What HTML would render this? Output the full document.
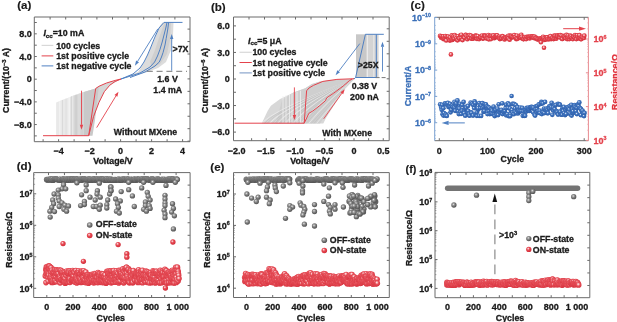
<!DOCTYPE html>
<html><head><meta charset="utf-8"><style>
html,body{margin:0;padding:0;background:#fff;}
svg{display:block;filter:blur(0.35px);}
text{font-family:"Liberation Sans",sans-serif;font-weight:bold;}
</style></head><body>
<svg width="617" height="322" viewBox="0 0 617 322">
<defs>
<radialGradient id="gr" cx="0.42" cy="0.4" r="0.6" fx="0.38" fy="0.34"><stop offset="0" stop-color="#fff2f2"/><stop offset="0.2" stop-color="#f2a2a8"/><stop offset="0.45" stop-color="#e54a54"/><stop offset="0.85" stop-color="#dc3440"/><stop offset="1" stop-color="#c82632"/></radialGradient>
<radialGradient id="gR" cx="0.45" cy="0.42" r="0.58" fx="0.4" fy="0.36"><stop offset="0" stop-color="#fff2f2"/><stop offset="0.26" stop-color="#f4a8ae"/><stop offset="0.52" stop-color="#e8535c"/><stop offset="1" stop-color="#d83440"/></radialGradient>
<radialGradient id="gg" cx="0.42" cy="0.4" r="0.58" fx="0.4" fy="0.36"><stop offset="0" stop-color="#f0f0f0"/><stop offset="0.3" stop-color="#a0a0a0"/><stop offset="0.7" stop-color="#6e6e6e"/><stop offset="1" stop-color="#555"/></radialGradient>
<radialGradient id="grr" cx="0.45" cy="0.42" r="0.58" fx="0.42" fy="0.38"><stop offset="0" stop-color="#fdeaea"/><stop offset="0.25" stop-color="#f29ca2"/><stop offset="0.5" stop-color="#e4444e"/><stop offset="1" stop-color="#d22e3a"/></radialGradient>
<radialGradient id="gbb" cx="0.45" cy="0.42" r="0.58" fx="0.4" fy="0.36"><stop offset="0" stop-color="#e2ebf7"/><stop offset="0.18" stop-color="#8eaedb"/><stop offset="0.42" stop-color="#3f74c0"/><stop offset="1" stop-color="#2c5ca6"/></radialGradient>
</defs>
<rect width="617" height="322" fill="#fff"/>
<text x="17.20" y="9.30" font-size="11.6" text-anchor="start" fill="#1a1a1a" stroke="#1a1a1a" stroke-width="0.3" style="stroke-width:0.15px">(a)</text>
<text x="210.90" y="10.90" font-size="11.6" text-anchor="start" fill="#1a1a1a" stroke="#1a1a1a" stroke-width="0.3" style="stroke-width:0.15px">(b)</text>
<text x="410.60" y="9.30" font-size="11.6" text-anchor="start" fill="#1a1a1a" stroke="#1a1a1a" stroke-width="0.3" style="stroke-width:0.15px">(c)</text>
<text x="16.70" y="169.70" font-size="11.6" text-anchor="start" fill="#1a1a1a" stroke="#1a1a1a" stroke-width="0.3" style="stroke-width:0.15px">(d)</text>
<text x="210.30" y="171.00" font-size="11.6" text-anchor="start" fill="#1a1a1a" stroke="#1a1a1a" stroke-width="0.3" style="stroke-width:0.15px">(e)</text>
<text x="405.60" y="172.80" font-size="10.8" text-anchor="start" fill="#1a1a1a" stroke="#1a1a1a" stroke-width="0.3" style="stroke-width:0.15px">(f)</text>
<path d="M 56.1,135.7 L 56.1,102.6 L 62.0,100.0 L 69.6,97.2 L 77.0,94.5 L 84.8,91.7 L 95.7,88.5 L 98.9,86.3 L 106.5,83.0 L 115.2,80.4 L 121.0,79.0 L 109.8,85.2 L 104.3,91.7 L 98.9,102.6 L 93.5,116.7 L 88.7,135.7 Z" stroke="none" stroke-width="0" fill="#e9e9e9" />
<path d="M 70.7,135.7 L 70.7,96.6 L 77.0,94.5 L 84.8,91.7 L 95.7,88.5 L 98.9,86.3 L 106.5,83.0 L 115.2,80.4 L 121.0,79.0 L 109.8,85.2 L 104.3,91.7 L 98.9,102.6 L 93.5,116.7 L 88.7,135.7 Z" stroke="none" stroke-width="0" fill="#d6d6d6" />
<path d="M 84.0,135.7 L 84.0,92.0 L 95.7,88.5 L 98.9,86.3 L 95.0,120.0 L 92.5,135.7 Z" stroke="none" stroke-width="0" fill="#c9c9c9" />
<line x1="59.80" y1="135.70" x2="59.80" y2="101.12" stroke="#f6f6f6" stroke-width="0.9" />
<line x1="62.50" y1="135.70" x2="62.50" y2="100.04" stroke="#d8d8d8" stroke-width="0.9" />
<line x1="66.00" y1="135.70" x2="66.00" y2="98.64" stroke="#dcdcdc" stroke-width="0.9" />
<line x1="69.10" y1="135.70" x2="69.10" y2="97.40" stroke="#f8f8f8" stroke-width="0.9" />
<line x1="72.80" y1="135.70" x2="72.80" y2="95.92" stroke="#f2f2f2" stroke-width="0.9" />
<line x1="76.00" y1="135.70" x2="76.00" y2="94.64" stroke="#c8c8c8" stroke-width="0.9" />
<line x1="79.00" y1="135.70" x2="79.00" y2="93.44" stroke="#e2e2e2" stroke-width="0.9" />
<line x1="82.00" y1="135.70" x2="82.00" y2="92.24" stroke="#cfcfcf" stroke-width="0.9" />
<path d="M 121.0,79.0 L 138.0,72.0 L 144.5,62.0 L 150.0,50.0 L 155.0,38.0 L 160.0,26.0 L 162.5,22.4 L 173.5,22.4 L 173.0,35.0 L 171.0,50.0 L 166.0,62.0 L 158.0,68.0 L 146.0,72.5 L 121.0,79.0 Z" stroke="none" stroke-width="0" fill="#dcdcdc" />
<path d="M 150.0,62.0 L 155.0,50.0 L 159.0,38.0 L 162.5,28.0 L 164.5,22.4 L 171.0,22.4 L 170.0,40.0 L 167.0,54.0 L 160.0,64.0 L 152.0,68.0 Z" stroke="none" stroke-width="0" fill="#cfcfcf" />
<path d="M 43.0,135.7 L 88.7,135.7 L 95.7,88.5 L 98.9,86.3 L 106.5,83.0 L 115.2,80.4 L 121.0,79.0" stroke="#e4424c" stroke-width="1.0" fill="none" />
<path d="M 88.7,135.7 L 93.5,116.7 L 98.9,102.6 L 104.3,91.7 L 109.8,85.2 L 115.0,81.5 L 121.0,79.0" stroke="#e4424c" stroke-width="1.0" fill="none" />
<line x1="81.50" y1="90.70" x2="81.50" y2="124.80" stroke="#e4424c" stroke-width="0.9" />
<polygon points="81.50,129.80 79.80,124.80 83.20,124.80" fill="#e4424c"/>
<line x1="96.70" y1="127.60" x2="115.90" y2="95.97" stroke="#e4424c" stroke-width="0.9" />
<polygon points="118.50,91.70 117.36,96.86 114.45,95.09" fill="#e4424c"/>
<path d="M 121.0,79.0 L 133.0,74.0 L 140.0,68.0 L 144.0,62.0 L 147.5,55.0 L 150.5,48.0 L 154.5,38.0 L 159.0,28.0 L 164.0,22.4 L 182.5,22.4" stroke="#4f80c2" stroke-width="1.0" fill="none" />
<path d="M 121.0,79.0 L 140.0,73.0 L 150.0,67.0 L 154.6,62.0 L 157.5,56.0 L 160.0,49.3 L 162.2,42.0 L 164.0,35.0 L 165.8,28.0 L 167.0,22.4" stroke="#4f80c2" stroke-width="1.0" fill="none" />
<path d="M 130.0,77.5 L 145.0,72.0 L 155.0,66.0 L 159.3,62.0 L 161.5,57.0 L 163.1,52.4 L 165.0,45.0 L 166.2,38.4 L 167.8,29.0 L 168.6,22.4" stroke="#4f80c2" stroke-width="1.0" fill="none" />
<line x1="157.80" y1="28.90" x2="137.54" y2="61.45" stroke="#4f80c2" stroke-width="0.9" />
<polygon points="134.90,65.70 136.10,60.56 138.99,62.35" fill="#4f80c2"/>
<line x1="171.70" y1="70.70" x2="171.70" y2="38.90" stroke="#4f80c2" stroke-width="0.9" />
<polygon points="171.70,33.90 173.40,38.90 170.00,38.90" fill="#4f80c2"/>
<line x1="146.80" y1="71.30" x2="187.00" y2="71.30" stroke="#777" stroke-width="1" stroke-dasharray="6,3.8"/>
<line x1="34.30" y1="17.00" x2="190.00" y2="17.00" stroke="#6b6b6b" stroke-width="1" />
<line x1="34.30" y1="141.70" x2="190.00" y2="141.70" stroke="#6b6b6b" stroke-width="1" />
<line x1="34.30" y1="17.00" x2="34.30" y2="141.70" stroke="#6b6b6b" stroke-width="1" />
<line x1="190.00" y1="17.00" x2="190.00" y2="141.70" stroke="#6b6b6b" stroke-width="1" />
<line x1="43.10" y1="141.70" x2="43.10" y2="139.20" stroke="#6b6b6b" stroke-width="1" />
<line x1="58.60" y1="141.70" x2="58.60" y2="139.20" stroke="#6b6b6b" stroke-width="1" />
<line x1="74.10" y1="141.70" x2="74.10" y2="139.20" stroke="#6b6b6b" stroke-width="1" />
<line x1="89.60" y1="141.70" x2="89.60" y2="139.20" stroke="#6b6b6b" stroke-width="1" />
<line x1="105.10" y1="141.70" x2="105.10" y2="139.20" stroke="#6b6b6b" stroke-width="1" />
<line x1="120.60" y1="141.70" x2="120.60" y2="139.20" stroke="#6b6b6b" stroke-width="1" />
<line x1="136.10" y1="141.70" x2="136.10" y2="139.20" stroke="#6b6b6b" stroke-width="1" />
<line x1="151.60" y1="141.70" x2="151.60" y2="139.20" stroke="#6b6b6b" stroke-width="1" />
<line x1="167.10" y1="141.70" x2="167.10" y2="139.20" stroke="#6b6b6b" stroke-width="1" />
<line x1="182.60" y1="141.70" x2="182.60" y2="139.20" stroke="#6b6b6b" stroke-width="1" />
<line x1="50.10" y1="17.00" x2="50.10" y2="19.50" stroke="#6b6b6b" stroke-width="1" />
<line x1="65.70" y1="17.00" x2="65.70" y2="19.50" stroke="#6b6b6b" stroke-width="1" />
<line x1="81.30" y1="17.00" x2="81.30" y2="19.50" stroke="#6b6b6b" stroke-width="1" />
<line x1="96.90" y1="17.00" x2="96.90" y2="19.50" stroke="#6b6b6b" stroke-width="1" />
<line x1="112.50" y1="17.00" x2="112.50" y2="19.50" stroke="#6b6b6b" stroke-width="1" />
<line x1="128.10" y1="17.00" x2="128.10" y2="19.50" stroke="#6b6b6b" stroke-width="1" />
<line x1="143.70" y1="17.00" x2="143.70" y2="19.50" stroke="#6b6b6b" stroke-width="1" />
<line x1="159.30" y1="17.00" x2="159.30" y2="19.50" stroke="#6b6b6b" stroke-width="1" />
<line x1="174.90" y1="17.00" x2="174.90" y2="19.50" stroke="#6b6b6b" stroke-width="1" />
<line x1="34.30" y1="135.90" x2="36.80" y2="135.90" stroke="#6b6b6b" stroke-width="1" />
<line x1="34.30" y1="124.56" x2="36.80" y2="124.56" stroke="#6b6b6b" stroke-width="1" />
<line x1="34.30" y1="113.22" x2="36.80" y2="113.22" stroke="#6b6b6b" stroke-width="1" />
<line x1="34.30" y1="101.88" x2="36.80" y2="101.88" stroke="#6b6b6b" stroke-width="1" />
<line x1="34.30" y1="90.54" x2="36.80" y2="90.54" stroke="#6b6b6b" stroke-width="1" />
<line x1="34.30" y1="79.20" x2="36.80" y2="79.20" stroke="#6b6b6b" stroke-width="1" />
<line x1="34.30" y1="67.86" x2="36.80" y2="67.86" stroke="#6b6b6b" stroke-width="1" />
<line x1="34.30" y1="56.52" x2="36.80" y2="56.52" stroke="#6b6b6b" stroke-width="1" />
<line x1="34.30" y1="45.18" x2="36.80" y2="45.18" stroke="#6b6b6b" stroke-width="1" />
<line x1="34.30" y1="33.84" x2="36.80" y2="33.84" stroke="#6b6b6b" stroke-width="1" />
<line x1="34.30" y1="22.50" x2="36.80" y2="22.50" stroke="#6b6b6b" stroke-width="1" />
<line x1="190.00" y1="29.10" x2="187.50" y2="29.10" stroke="#6b6b6b" stroke-width="1" />
<line x1="190.00" y1="41.55" x2="187.50" y2="41.55" stroke="#6b6b6b" stroke-width="1" />
<line x1="190.00" y1="54.00" x2="187.50" y2="54.00" stroke="#6b6b6b" stroke-width="1" />
<line x1="190.00" y1="66.45" x2="187.50" y2="66.45" stroke="#6b6b6b" stroke-width="1" />
<line x1="190.00" y1="78.90" x2="187.50" y2="78.90" stroke="#6b6b6b" stroke-width="1" />
<line x1="190.00" y1="91.35" x2="187.50" y2="91.35" stroke="#6b6b6b" stroke-width="1" />
<line x1="190.00" y1="103.80" x2="187.50" y2="103.80" stroke="#6b6b6b" stroke-width="1" />
<line x1="190.00" y1="116.25" x2="187.50" y2="116.25" stroke="#6b6b6b" stroke-width="1" />
<line x1="190.00" y1="128.70" x2="187.50" y2="128.70" stroke="#6b6b6b" stroke-width="1" />
<line x1="190.00" y1="141.15" x2="187.50" y2="141.15" stroke="#6b6b6b" stroke-width="1" />
<text x="58.60" y="153.60" font-size="9" text-anchor="middle" fill="#1a1a1a" stroke="#1a1a1a" stroke-width="0.3" >−4</text>
<text x="89.60" y="153.60" font-size="9" text-anchor="middle" fill="#1a1a1a" stroke="#1a1a1a" stroke-width="0.3" >−2</text>
<text x="120.60" y="153.60" font-size="9" text-anchor="middle" fill="#1a1a1a" stroke="#1a1a1a" stroke-width="0.3" >0</text>
<text x="151.60" y="153.60" font-size="9" text-anchor="middle" fill="#1a1a1a" stroke="#1a1a1a" stroke-width="0.3" >2</text>
<text x="182.60" y="153.60" font-size="9" text-anchor="middle" fill="#1a1a1a" stroke="#1a1a1a" stroke-width="0.3" >4</text>
<text x="31.80" y="37.04" font-size="9" text-anchor="end" fill="#1a1a1a" stroke="#1a1a1a" stroke-width="0.3" >8.0</text>
<text x="31.80" y="59.72" font-size="9" text-anchor="end" fill="#1a1a1a" stroke="#1a1a1a" stroke-width="0.3" >4.0</text>
<text x="31.80" y="82.40" font-size="9" text-anchor="end" fill="#1a1a1a" stroke="#1a1a1a" stroke-width="0.3" >0</text>
<text x="31.80" y="105.08" font-size="9" text-anchor="end" fill="#1a1a1a" stroke="#1a1a1a" stroke-width="0.3" >−4.0</text>
<text x="31.80" y="127.76" font-size="9" text-anchor="end" fill="#1a1a1a" stroke="#1a1a1a" stroke-width="0.3" >−8.0</text>
<text x="113.00" y="163.60" font-size="8.8" text-anchor="middle" fill="#1a1a1a" stroke="#1a1a1a" stroke-width="0.3" >Voltage/V</text>
<text transform="translate(8.9,80.5) rotate(-90)" font-size="8.8" text-anchor="middle" fill="#1a1a1a" stroke="#1a1a1a" stroke-width="0.3">Current/(10<tspan font-size="5.8" dy="-3">−3</tspan><tspan dy="3"> A)</tspan></text>
<text x="43.40" y="36.30" font-size="8.8" text-anchor="start" fill="#1a1a1a" stroke="#1a1a1a" stroke-width="0.3" ><tspan font-style="italic">I</tspan><tspan font-size="6.2" dy="1.6">cc</tspan><tspan dy="-1.6">=10 mA</tspan></text>
<line x1="41.60" y1="45.40" x2="53.30" y2="45.40" stroke="#d8d8d8" stroke-width="1.2" />
<text x="56.20" y="48.50" font-size="8.8" text-anchor="start" fill="#1a1a1a" stroke="#1a1a1a" stroke-width="0.3" >100 cycles</text>
<line x1="41.60" y1="55.90" x2="53.30" y2="55.90" stroke="#e4424c" stroke-width="1.0" />
<text x="56.20" y="59.00" font-size="8.8" text-anchor="start" fill="#1a1a1a" stroke="#1a1a1a" stroke-width="0.3" >1st positive cycle</text>
<line x1="41.60" y1="65.90" x2="53.30" y2="65.90" stroke="#4f80c2" stroke-width="1.0" />
<text x="56.20" y="69.00" font-size="8.8" text-anchor="start" fill="#1a1a1a" stroke="#1a1a1a" stroke-width="0.3" >1st negative cycle</text>
<text x="180.50" y="52.40" font-size="8.8" text-anchor="middle" fill="#1a1a1a" stroke="#1a1a1a" stroke-width="0.3" >&gt;7X</text>
<text x="167.50" y="82.20" font-size="8.8" text-anchor="middle" fill="#1a1a1a" stroke="#1a1a1a" stroke-width="0.3" >1.6 V</text>
<text x="167.80" y="92.70" font-size="8.8" text-anchor="middle" fill="#1a1a1a" stroke="#1a1a1a" stroke-width="0.3" >1.4 mA</text>
<text x="145.50" y="134.80" font-size="8.8" text-anchor="middle" fill="#1a1a1a" stroke="#1a1a1a" stroke-width="0.3" >Without MXene</text>
<path d="M 261.7,123.4 L 267.6,110.9 L 270.9,105.8 L 280.1,99.1 L 293.5,92.4 L 305.3,88.2 L 312.0,84.0 L 320.0,81.5 L 333.5,80.0 L 354.0,79.0 L 346.0,86.0 L 341.0,95.0 L 333.0,107.0 L 326.0,118.0 L 323.3,123.4 Z" stroke="none" stroke-width="0" fill="#d8d8d8" />
<path d="M 276.0,123.4 L 282.0,100.0 L 293.5,92.4 L 305.3,88.2 L 312.0,84.0 L 320.0,81.5 L 333.5,80.0 L 354.0,79.0 L 344.0,88.0 L 336.0,101.0 L 327.0,113.0 L 320.0,123.4 Z" stroke="none" stroke-width="0" fill="#cfcfcf" />
<path d="M 262.0,123.4 Q 270.0,111.4 354.0,79" stroke="#f4f4f4" stroke-width="0.6" fill="none" />
<path d="M 264.6,123.4 Q 273.2,110.8 354.0,79" stroke="#bfbfbf" stroke-width="0.6" fill="none" />
<path d="M 267.2,123.4 Q 276.4,110.2 354.0,79" stroke="#bfbfbf" stroke-width="0.6" fill="none" />
<path d="M 269.8,123.4 Q 279.6,109.6 354.0,79" stroke="#f4f4f4" stroke-width="0.6" fill="none" />
<path d="M 272.4,123.4 Q 282.8,109.0 354.0,79" stroke="#bfbfbf" stroke-width="0.6" fill="none" />
<path d="M 275.0,123.4 Q 286.0,108.4 354.0,79" stroke="#bfbfbf" stroke-width="0.6" fill="none" />
<path d="M 277.6,123.4 Q 289.2,107.8 354.0,79" stroke="#f4f4f4" stroke-width="0.6" fill="none" />
<path d="M 280.2,123.4 Q 292.4,107.2 354.0,79" stroke="#bfbfbf" stroke-width="0.6" fill="none" />
<path d="M 282.8,123.4 Q 295.6,106.6 354.0,79" stroke="#bfbfbf" stroke-width="0.6" fill="none" />
<path d="M 285.4,123.4 Q 298.8,106.0 354.0,79" stroke="#f4f4f4" stroke-width="0.6" fill="none" />
<path d="M 288.0,123.4 Q 302.0,105.4 354.0,79" stroke="#bfbfbf" stroke-width="0.6" fill="none" />
<path d="M 290.6,123.4 Q 305.2,104.8 354.0,79" stroke="#bfbfbf" stroke-width="0.6" fill="none" />
<path d="M 293.2,123.4 Q 308.4,104.2 354.0,79" stroke="#f4f4f4" stroke-width="0.6" fill="none" />
<path d="M 295.8,123.4 Q 311.6,103.6 354.0,79" stroke="#bfbfbf" stroke-width="0.6" fill="none" />
<path d="M 298.4,123.4 Q 314.8,103.0 354.0,79" stroke="#bfbfbf" stroke-width="0.6" fill="none" />
<path d="M 301.0,123.4 Q 318.0,102.4 354.0,79" stroke="#f4f4f4" stroke-width="0.6" fill="none" />
<path d="M 303.6,123.4 Q 321.2,101.8 354.0,79" stroke="#bfbfbf" stroke-width="0.6" fill="none" />
<path d="M 306.2,123.4 Q 324.4,101.2 354.0,79" stroke="#bfbfbf" stroke-width="0.6" fill="none" />
<path d="M 308.8,123.4 Q 327.6,100.6 354.0,79" stroke="#f4f4f4" stroke-width="0.6" fill="none" />
<path d="M 311.4,123.4 Q 330.8,100.0 354.0,79" stroke="#bfbfbf" stroke-width="0.6" fill="none" />
<path d="M 314.0,123.4 Q 334.0,99.4 354.0,79" stroke="#bfbfbf" stroke-width="0.6" fill="none" />
<path d="M 316.6,123.4 Q 337.2,98.8 354.0,79" stroke="#f4f4f4" stroke-width="0.6" fill="none" />
<line x1="283.00" y1="123.40" x2="283.00" y2="96.00" stroke="#f0f0f0" stroke-width="0.8" />
<line x1="286.00" y1="123.40" x2="286.00" y2="95.10" stroke="#f0f0f0" stroke-width="0.8" />
<line x1="289.50" y1="123.40" x2="289.50" y2="94.05" stroke="#f0f0f0" stroke-width="0.8" />
<line x1="292.00" y1="123.40" x2="292.00" y2="93.30" stroke="#f0f0f0" stroke-width="0.8" />
<line x1="297.00" y1="123.40" x2="297.00" y2="91.80" stroke="#f0f0f0" stroke-width="0.8" />
<line x1="300.50" y1="123.40" x2="300.50" y2="90.75" stroke="#f0f0f0" stroke-width="0.8" />
<rect x="356" y="34.3" width="10.2" height="43.2" fill="#c8c8c8"/>
<rect x="366" y="34.3" width="12.6" height="43.2" fill="#d4d4d4"/>
<line x1="367.40" y1="34.30" x2="367.40" y2="77.50" stroke="#eeeeee" stroke-width="0.9" />
<line x1="373.80" y1="34.30" x2="373.80" y2="77.50" stroke="#ececec" stroke-width="0.9" />
<path d="M 234.5,123.2 L 304.2,123.2 L 306.6,90.8 L 309.0,88.0 L 313.6,85.3 L 322.9,81.4 L 336.9,79.4 L 352.4,78.8 L 354.5,78.6" stroke="#e4424c" stroke-width="1.0" fill="none" />
<path d="M 304.2,123.2 L 308.9,113.3 L 312.8,111.0 L 319.8,105.5 L 325.2,100.9 L 326.8,97.8 L 333.8,93.1 L 343.1,86.1 L 349.3,80.7 L 352.4,78.8" stroke="#e4424c" stroke-width="1.0" fill="none" />
<line x1="294.40" y1="87.40" x2="294.40" y2="115.10" stroke="#e4424c" stroke-width="0.9" />
<polygon points="294.40,120.10 292.70,115.10 296.10,115.10" fill="#e4424c"/>
<line x1="323.70" y1="118.80" x2="341.81" y2="93.28" stroke="#e4424c" stroke-width="0.9" />
<polygon points="344.70,89.20 343.19,94.26 340.42,92.29" fill="#e4424c"/>
<path d="M 354.0,79.0 L 355.6,77.5 L 376.3,77.5 L 376.3,34.3" stroke="#4f80c2" stroke-width="1.0" fill="none" />
<path d="M 355.6,77.5 L 365.4,34.3 L 383.8,34.3" stroke="#4f80c2" stroke-width="1.0" fill="none" />
<line x1="359.80" y1="43.60" x2="338.63" y2="71.33" stroke="#4f80c2" stroke-width="0.9" />
<polygon points="335.60,75.30 337.28,70.29 339.99,72.36" fill="#4f80c2"/>
<line x1="382.50" y1="71.60" x2="382.50" y2="46.80" stroke="#4f80c2" stroke-width="0.9" />
<polygon points="382.50,41.80 384.20,46.80 380.80,46.80" fill="#4f80c2"/>
<line x1="375.60" y1="77.60" x2="386.50" y2="77.60" stroke="#777" stroke-width="1" stroke-dasharray="4,2"/>
<line x1="233.50" y1="17.00" x2="389.20" y2="17.00" stroke="#6b6b6b" stroke-width="1" />
<line x1="233.50" y1="140.70" x2="389.20" y2="140.70" stroke="#6b6b6b" stroke-width="1" />
<line x1="233.50" y1="17.00" x2="233.50" y2="140.70" stroke="#6b6b6b" stroke-width="1" />
<line x1="389.20" y1="17.00" x2="389.20" y2="140.70" stroke="#6b6b6b" stroke-width="1" />
<line x1="251.62" y1="140.70" x2="251.62" y2="138.20" stroke="#6b6b6b" stroke-width="1" />
<line x1="266.25" y1="140.70" x2="266.25" y2="138.20" stroke="#6b6b6b" stroke-width="1" />
<line x1="280.88" y1="140.70" x2="280.88" y2="138.20" stroke="#6b6b6b" stroke-width="1" />
<line x1="295.50" y1="140.70" x2="295.50" y2="138.20" stroke="#6b6b6b" stroke-width="1" />
<line x1="310.12" y1="140.70" x2="310.12" y2="138.20" stroke="#6b6b6b" stroke-width="1" />
<line x1="324.75" y1="140.70" x2="324.75" y2="138.20" stroke="#6b6b6b" stroke-width="1" />
<line x1="339.38" y1="140.70" x2="339.38" y2="138.20" stroke="#6b6b6b" stroke-width="1" />
<line x1="354.00" y1="140.70" x2="354.00" y2="138.20" stroke="#6b6b6b" stroke-width="1" />
<line x1="368.62" y1="140.70" x2="368.62" y2="138.20" stroke="#6b6b6b" stroke-width="1" />
<line x1="383.25" y1="140.70" x2="383.25" y2="138.20" stroke="#6b6b6b" stroke-width="1" />
<line x1="249.00" y1="17.00" x2="249.00" y2="19.50" stroke="#6b6b6b" stroke-width="1" />
<line x1="264.50" y1="17.00" x2="264.50" y2="19.50" stroke="#6b6b6b" stroke-width="1" />
<line x1="280.00" y1="17.00" x2="280.00" y2="19.50" stroke="#6b6b6b" stroke-width="1" />
<line x1="295.50" y1="17.00" x2="295.50" y2="19.50" stroke="#6b6b6b" stroke-width="1" />
<line x1="311.00" y1="17.00" x2="311.00" y2="19.50" stroke="#6b6b6b" stroke-width="1" />
<line x1="326.50" y1="17.00" x2="326.50" y2="19.50" stroke="#6b6b6b" stroke-width="1" />
<line x1="342.00" y1="17.00" x2="342.00" y2="19.50" stroke="#6b6b6b" stroke-width="1" />
<line x1="357.50" y1="17.00" x2="357.50" y2="19.50" stroke="#6b6b6b" stroke-width="1" />
<line x1="373.00" y1="17.00" x2="373.00" y2="19.50" stroke="#6b6b6b" stroke-width="1" />
<line x1="233.50" y1="132.10" x2="236.00" y2="132.10" stroke="#6b6b6b" stroke-width="1" />
<line x1="233.50" y1="118.82" x2="236.00" y2="118.82" stroke="#6b6b6b" stroke-width="1" />
<line x1="233.50" y1="105.55" x2="236.00" y2="105.55" stroke="#6b6b6b" stroke-width="1" />
<line x1="233.50" y1="92.28" x2="236.00" y2="92.28" stroke="#6b6b6b" stroke-width="1" />
<line x1="233.50" y1="79.00" x2="236.00" y2="79.00" stroke="#6b6b6b" stroke-width="1" />
<line x1="233.50" y1="65.72" x2="236.00" y2="65.72" stroke="#6b6b6b" stroke-width="1" />
<line x1="233.50" y1="52.45" x2="236.00" y2="52.45" stroke="#6b6b6b" stroke-width="1" />
<line x1="233.50" y1="39.18" x2="236.00" y2="39.18" stroke="#6b6b6b" stroke-width="1" />
<line x1="233.50" y1="25.90" x2="236.00" y2="25.90" stroke="#6b6b6b" stroke-width="1" />
<line x1="389.20" y1="28.80" x2="386.70" y2="28.80" stroke="#6b6b6b" stroke-width="1" />
<line x1="389.20" y1="41.30" x2="386.70" y2="41.30" stroke="#6b6b6b" stroke-width="1" />
<line x1="389.20" y1="53.80" x2="386.70" y2="53.80" stroke="#6b6b6b" stroke-width="1" />
<line x1="389.20" y1="66.30" x2="386.70" y2="66.30" stroke="#6b6b6b" stroke-width="1" />
<line x1="389.20" y1="78.80" x2="386.70" y2="78.80" stroke="#6b6b6b" stroke-width="1" />
<line x1="389.20" y1="91.30" x2="386.70" y2="91.30" stroke="#6b6b6b" stroke-width="1" />
<line x1="389.20" y1="103.80" x2="386.70" y2="103.80" stroke="#6b6b6b" stroke-width="1" />
<line x1="389.20" y1="116.30" x2="386.70" y2="116.30" stroke="#6b6b6b" stroke-width="1" />
<line x1="389.20" y1="128.80" x2="386.70" y2="128.80" stroke="#6b6b6b" stroke-width="1" />
<text x="236.70" y="153.60" font-size="9" text-anchor="middle" fill="#1a1a1a" stroke="#1a1a1a" stroke-width="0.3" >−2.0</text>
<text x="265.95" y="153.60" font-size="9" text-anchor="middle" fill="#1a1a1a" stroke="#1a1a1a" stroke-width="0.3" >−1.5</text>
<text x="295.20" y="153.60" font-size="9" text-anchor="middle" fill="#1a1a1a" stroke="#1a1a1a" stroke-width="0.3" >−1.0</text>
<text x="324.45" y="153.60" font-size="9" text-anchor="middle" fill="#1a1a1a" stroke="#1a1a1a" stroke-width="0.3" >−0.5</text>
<text x="354.00" y="153.60" font-size="9" text-anchor="middle" fill="#1a1a1a" stroke="#1a1a1a" stroke-width="0.3" >0</text>
<text x="383.25" y="153.60" font-size="9" text-anchor="middle" fill="#1a1a1a" stroke="#1a1a1a" stroke-width="0.3" >0.5</text>
<text x="229.80" y="29.10" font-size="9" text-anchor="end" fill="#1a1a1a" stroke="#1a1a1a" stroke-width="0.3" >6.0</text>
<text x="229.80" y="55.65" font-size="9" text-anchor="end" fill="#1a1a1a" stroke="#1a1a1a" stroke-width="0.3" >3.0</text>
<text x="229.80" y="82.20" font-size="9" text-anchor="end" fill="#1a1a1a" stroke="#1a1a1a" stroke-width="0.3" >0</text>
<text x="229.80" y="108.75" font-size="9" text-anchor="end" fill="#1a1a1a" stroke="#1a1a1a" stroke-width="0.3" >−3.0</text>
<text x="229.80" y="135.30" font-size="9" text-anchor="end" fill="#1a1a1a" stroke="#1a1a1a" stroke-width="0.3" >−6.0</text>
<text x="310.00" y="163.60" font-size="8.8" text-anchor="middle" fill="#1a1a1a" stroke="#1a1a1a" stroke-width="0.3" >Voltage/V</text>
<text transform="translate(208.2,80.5) rotate(-90)" font-size="8.8" text-anchor="middle" fill="#1a1a1a" stroke="#1a1a1a" stroke-width="0.3">Current/(10<tspan font-size="5.8" dy="-3">−6</tspan><tspan dy="3"> A)</tspan></text>
<text x="248.00" y="43.80" font-size="8.8" text-anchor="start" fill="#1a1a1a" stroke="#1a1a1a" stroke-width="0.3" ><tspan font-style="italic">I</tspan><tspan font-size="6.2" dy="1.6">cc</tspan><tspan dy="-1.6">=5 μA</tspan></text>
<line x1="239.50" y1="52.30" x2="251.80" y2="52.30" stroke="#d8d8d8" stroke-width="1.2" />
<text x="252.40" y="55.40" font-size="8.8" text-anchor="start" fill="#1a1a1a" stroke="#1a1a1a" stroke-width="0.3" >100 cycles</text>
<line x1="239.50" y1="62.50" x2="251.80" y2="62.50" stroke="#e4424c" stroke-width="1.0" />
<text x="252.40" y="65.60" font-size="8.8" text-anchor="start" fill="#1a1a1a" stroke="#1a1a1a" stroke-width="0.3" >1st negative cycle</text>
<line x1="239.50" y1="72.90" x2="251.80" y2="72.90" stroke="#7f9cc8" stroke-width="1.1" />
<text x="252.40" y="76.00" font-size="8.8" text-anchor="start" fill="#1a1a1a" stroke="#1a1a1a" stroke-width="0.3" >1st positive cycle</text>
<text x="368.20" y="68.20" font-size="8.8" text-anchor="middle" fill="#1a1a1a" stroke="#1a1a1a" stroke-width="0.3" >&gt;25X</text>
<text x="364.50" y="89.20" font-size="8.8" text-anchor="middle" fill="#1a1a1a" stroke="#1a1a1a" stroke-width="0.3" >0.38 V</text>
<text x="364.50" y="99.80" font-size="8.8" text-anchor="middle" fill="#1a1a1a" stroke="#1a1a1a" stroke-width="0.3" >200 nA</text>
<text x="347.20" y="136.00" font-size="8.8" text-anchor="middle" fill="#1a1a1a" stroke="#1a1a1a" stroke-width="0.3" >With MXene</text>
<circle cx="440.1" cy="35.9" r="2.4" fill="url(#grr)"/>
<circle cx="441.2" cy="37.7" r="2.4" fill="url(#grr)"/>
<circle cx="441.4" cy="36.4" r="2.4" fill="url(#grr)"/>
<circle cx="442.6" cy="36.9" r="2.4" fill="url(#grr)"/>
<circle cx="443.2" cy="36.4" r="2.4" fill="url(#grr)"/>
<circle cx="443.4" cy="39.0" r="2.4" fill="url(#grr)"/>
<circle cx="444.3" cy="38.4" r="2.4" fill="url(#grr)"/>
<circle cx="445.4" cy="37.7" r="2.4" fill="url(#grr)"/>
<circle cx="445.3" cy="36.1" r="2.4" fill="url(#grr)"/>
<circle cx="446.2" cy="40.4" r="2.4" fill="url(#grr)"/>
<circle cx="446.8" cy="36.6" r="2.4" fill="url(#grr)"/>
<circle cx="448.0" cy="37.4" r="2.4" fill="url(#grr)"/>
<circle cx="448.1" cy="36.6" r="2.4" fill="url(#grr)"/>
<circle cx="449.0" cy="38.6" r="2.4" fill="url(#grr)"/>
<circle cx="449.9" cy="40.5" r="2.4" fill="url(#grr)"/>
<circle cx="450.0" cy="37.3" r="2.4" fill="url(#grr)"/>
<circle cx="451.3" cy="39.8" r="2.4" fill="url(#grr)"/>
<circle cx="451.8" cy="35.4" r="2.4" fill="url(#grr)"/>
<circle cx="452.3" cy="39.9" r="2.4" fill="url(#grr)"/>
<circle cx="453.1" cy="36.3" r="2.4" fill="url(#grr)"/>
<circle cx="453.3" cy="39.1" r="2.4" fill="url(#grr)"/>
<circle cx="454.0" cy="38.5" r="2.4" fill="url(#grr)"/>
<circle cx="454.7" cy="35.1" r="2.4" fill="url(#grr)"/>
<circle cx="455.4" cy="36.7" r="2.4" fill="url(#grr)"/>
<circle cx="456.4" cy="38.4" r="2.4" fill="url(#grr)"/>
<circle cx="457.2" cy="40.1" r="2.4" fill="url(#grr)"/>
<circle cx="457.7" cy="40.2" r="2.4" fill="url(#grr)"/>
<circle cx="457.9" cy="36.3" r="2.4" fill="url(#grr)"/>
<circle cx="458.8" cy="38.1" r="2.4" fill="url(#grr)"/>
<circle cx="459.1" cy="38.3" r="2.4" fill="url(#grr)"/>
<circle cx="460.4" cy="35.5" r="2.4" fill="url(#grr)"/>
<circle cx="460.9" cy="37.8" r="2.4" fill="url(#grr)"/>
<circle cx="461.3" cy="34.8" r="2.4" fill="url(#grr)"/>
<circle cx="462.2" cy="39.5" r="2.4" fill="url(#grr)"/>
<circle cx="462.5" cy="40.0" r="2.4" fill="url(#grr)"/>
<circle cx="463.6" cy="36.9" r="2.4" fill="url(#grr)"/>
<circle cx="464.3" cy="36.9" r="2.4" fill="url(#grr)"/>
<circle cx="464.4" cy="37.6" r="2.4" fill="url(#grr)"/>
<circle cx="465.7" cy="35.0" r="2.4" fill="url(#grr)"/>
<circle cx="465.8" cy="35.2" r="2.4" fill="url(#grr)"/>
<circle cx="466.8" cy="36.4" r="2.4" fill="url(#grr)"/>
<circle cx="467.3" cy="39.2" r="2.4" fill="url(#grr)"/>
<circle cx="468.2" cy="37.3" r="2.4" fill="url(#grr)"/>
<circle cx="468.5" cy="36.2" r="2.4" fill="url(#grr)"/>
<circle cx="469.4" cy="37.9" r="2.4" fill="url(#grr)"/>
<circle cx="469.6" cy="35.1" r="2.4" fill="url(#grr)"/>
<circle cx="470.8" cy="35.7" r="2.4" fill="url(#grr)"/>
<circle cx="471.6" cy="38.4" r="2.4" fill="url(#grr)"/>
<circle cx="471.7" cy="38.7" r="2.4" fill="url(#grr)"/>
<circle cx="473.0" cy="38.7" r="2.4" fill="url(#grr)"/>
<circle cx="472.8" cy="36.8" r="2.4" fill="url(#grr)"/>
<circle cx="473.7" cy="37.0" r="2.4" fill="url(#grr)"/>
<circle cx="474.2" cy="36.1" r="2.4" fill="url(#grr)"/>
<circle cx="475.5" cy="35.9" r="2.4" fill="url(#grr)"/>
<circle cx="475.9" cy="35.6" r="2.4" fill="url(#grr)"/>
<circle cx="476.3" cy="36.2" r="2.4" fill="url(#grr)"/>
<circle cx="477.0" cy="38.9" r="2.4" fill="url(#grr)"/>
<circle cx="477.8" cy="36.1" r="2.4" fill="url(#grr)"/>
<circle cx="478.5" cy="38.3" r="2.4" fill="url(#grr)"/>
<circle cx="479.1" cy="39.0" r="2.4" fill="url(#grr)"/>
<circle cx="480.0" cy="37.5" r="2.4" fill="url(#grr)"/>
<circle cx="480.6" cy="37.2" r="2.4" fill="url(#grr)"/>
<circle cx="480.8" cy="37.3" r="2.4" fill="url(#grr)"/>
<circle cx="482.0" cy="35.7" r="2.4" fill="url(#grr)"/>
<circle cx="482.8" cy="38.5" r="2.4" fill="url(#grr)"/>
<circle cx="483.1" cy="38.3" r="2.4" fill="url(#grr)"/>
<circle cx="484.0" cy="35.9" r="2.4" fill="url(#grr)"/>
<circle cx="484.3" cy="35.6" r="2.4" fill="url(#grr)"/>
<circle cx="485.0" cy="35.7" r="2.4" fill="url(#grr)"/>
<circle cx="485.6" cy="36.5" r="2.4" fill="url(#grr)"/>
<circle cx="486.4" cy="38.4" r="2.4" fill="url(#grr)"/>
<circle cx="487.2" cy="36.2" r="2.4" fill="url(#grr)"/>
<circle cx="487.9" cy="38.5" r="2.4" fill="url(#grr)"/>
<circle cx="488.4" cy="35.1" r="2.4" fill="url(#grr)"/>
<circle cx="488.8" cy="39.3" r="2.4" fill="url(#grr)"/>
<circle cx="489.9" cy="35.9" r="2.4" fill="url(#grr)"/>
<circle cx="490.2" cy="36.7" r="2.4" fill="url(#grr)"/>
<circle cx="490.9" cy="39.0" r="2.4" fill="url(#grr)"/>
<circle cx="491.4" cy="36.0" r="2.4" fill="url(#grr)"/>
<circle cx="492.4" cy="36.7" r="2.4" fill="url(#grr)"/>
<circle cx="493.1" cy="36.9" r="2.4" fill="url(#grr)"/>
<circle cx="493.4" cy="35.5" r="2.4" fill="url(#grr)"/>
<circle cx="494.2" cy="38.2" r="2.4" fill="url(#grr)"/>
<circle cx="495.2" cy="37.6" r="2.4" fill="url(#grr)"/>
<circle cx="495.3" cy="36.6" r="2.4" fill="url(#grr)"/>
<circle cx="496.2" cy="35.5" r="2.4" fill="url(#grr)"/>
<circle cx="496.8" cy="36.7" r="2.4" fill="url(#grr)"/>
<circle cx="497.1" cy="35.4" r="2.4" fill="url(#grr)"/>
<circle cx="498.4" cy="37.2" r="2.4" fill="url(#grr)"/>
<circle cx="499.2" cy="36.9" r="2.4" fill="url(#grr)"/>
<circle cx="499.4" cy="38.2" r="2.4" fill="url(#grr)"/>
<circle cx="499.9" cy="39.1" r="2.4" fill="url(#grr)"/>
<circle cx="501.1" cy="38.3" r="2.4" fill="url(#grr)"/>
<circle cx="501.3" cy="38.0" r="2.4" fill="url(#grr)"/>
<circle cx="502.2" cy="36.1" r="2.4" fill="url(#grr)"/>
<circle cx="502.7" cy="36.5" r="2.4" fill="url(#grr)"/>
<circle cx="503.8" cy="38.1" r="2.4" fill="url(#grr)"/>
<circle cx="504.1" cy="38.6" r="2.4" fill="url(#grr)"/>
<circle cx="504.6" cy="39.4" r="2.4" fill="url(#grr)"/>
<circle cx="505.5" cy="37.4" r="2.4" fill="url(#grr)"/>
<circle cx="505.8" cy="38.1" r="2.4" fill="url(#grr)"/>
<circle cx="507.0" cy="37.4" r="2.4" fill="url(#grr)"/>
<circle cx="507.5" cy="36.7" r="2.4" fill="url(#grr)"/>
<circle cx="508.4" cy="35.8" r="2.4" fill="url(#grr)"/>
<circle cx="508.5" cy="38.5" r="2.4" fill="url(#grr)"/>
<circle cx="509.6" cy="39.7" r="2.4" fill="url(#grr)"/>
<circle cx="509.8" cy="35.7" r="2.4" fill="url(#grr)"/>
<circle cx="511.1" cy="37.5" r="2.4" fill="url(#grr)"/>
<circle cx="511.0" cy="36.0" r="2.4" fill="url(#grr)"/>
<circle cx="511.6" cy="36.7" r="2.4" fill="url(#grr)"/>
<circle cx="512.7" cy="37.0" r="2.4" fill="url(#grr)"/>
<circle cx="513.0" cy="37.1" r="2.4" fill="url(#grr)"/>
<circle cx="514.2" cy="35.2" r="2.4" fill="url(#grr)"/>
<circle cx="514.6" cy="37.1" r="2.4" fill="url(#grr)"/>
<circle cx="515.4" cy="37.2" r="2.4" fill="url(#grr)"/>
<circle cx="516.2" cy="39.1" r="2.4" fill="url(#grr)"/>
<circle cx="516.4" cy="38.3" r="2.4" fill="url(#grr)"/>
<circle cx="516.9" cy="35.6" r="2.4" fill="url(#grr)"/>
<circle cx="517.5" cy="38.8" r="2.4" fill="url(#grr)"/>
<circle cx="518.9" cy="37.4" r="2.4" fill="url(#grr)"/>
<circle cx="519.1" cy="36.2" r="2.4" fill="url(#grr)"/>
<circle cx="520.2" cy="36.6" r="2.4" fill="url(#grr)"/>
<circle cx="520.8" cy="37.9" r="2.4" fill="url(#grr)"/>
<circle cx="521.3" cy="34.9" r="2.4" fill="url(#grr)"/>
<circle cx="521.7" cy="36.9" r="2.4" fill="url(#grr)"/>
<circle cx="522.7" cy="38.6" r="2.4" fill="url(#grr)"/>
<circle cx="523.3" cy="39.1" r="2.4" fill="url(#grr)"/>
<circle cx="523.7" cy="39.1" r="2.4" fill="url(#grr)"/>
<circle cx="524.7" cy="37.6" r="2.4" fill="url(#grr)"/>
<circle cx="524.8" cy="37.2" r="2.4" fill="url(#grr)"/>
<circle cx="526.1" cy="37.8" r="2.4" fill="url(#grr)"/>
<circle cx="526.1" cy="39.1" r="2.4" fill="url(#grr)"/>
<circle cx="526.9" cy="37.0" r="2.4" fill="url(#grr)"/>
<circle cx="528.1" cy="36.9" r="2.4" fill="url(#grr)"/>
<circle cx="528.2" cy="37.3" r="2.4" fill="url(#grr)"/>
<circle cx="529.0" cy="36.8" r="2.4" fill="url(#grr)"/>
<circle cx="529.6" cy="38.4" r="2.4" fill="url(#grr)"/>
<circle cx="530.1" cy="36.6" r="2.4" fill="url(#grr)"/>
<circle cx="531.3" cy="36.9" r="2.4" fill="url(#grr)"/>
<circle cx="531.9" cy="36.6" r="2.4" fill="url(#grr)"/>
<circle cx="532.6" cy="36.5" r="2.4" fill="url(#grr)"/>
<circle cx="533.2" cy="37.1" r="2.4" fill="url(#grr)"/>
<circle cx="533.3" cy="37.8" r="2.4" fill="url(#grr)"/>
<circle cx="534.5" cy="36.7" r="2.4" fill="url(#grr)"/>
<circle cx="534.9" cy="38.3" r="2.4" fill="url(#grr)"/>
<circle cx="535.8" cy="37.6" r="2.4" fill="url(#grr)"/>
<circle cx="535.9" cy="38.1" r="2.4" fill="url(#grr)"/>
<circle cx="536.8" cy="38.5" r="2.4" fill="url(#grr)"/>
<circle cx="537.6" cy="39.4" r="2.4" fill="url(#grr)"/>
<circle cx="537.9" cy="39.2" r="2.4" fill="url(#grr)"/>
<circle cx="539.0" cy="38.9" r="2.4" fill="url(#grr)"/>
<circle cx="539.9" cy="39.5" r="2.4" fill="url(#grr)"/>
<circle cx="540.3" cy="38.3" r="2.4" fill="url(#grr)"/>
<circle cx="540.7" cy="39.1" r="2.4" fill="url(#grr)"/>
<circle cx="541.7" cy="38.2" r="2.4" fill="url(#grr)"/>
<circle cx="542.2" cy="38.4" r="2.4" fill="url(#grr)"/>
<circle cx="543.2" cy="39.4" r="2.4" fill="url(#grr)"/>
<circle cx="543.1" cy="36.9" r="2.4" fill="url(#grr)"/>
<circle cx="543.9" cy="38.3" r="2.4" fill="url(#grr)"/>
<circle cx="544.8" cy="39.8" r="2.4" fill="url(#grr)"/>
<circle cx="545.7" cy="37.9" r="2.4" fill="url(#grr)"/>
<circle cx="545.8" cy="39.3" r="2.4" fill="url(#grr)"/>
<circle cx="546.5" cy="37.5" r="2.4" fill="url(#grr)"/>
<circle cx="547.1" cy="37.5" r="2.4" fill="url(#grr)"/>
<circle cx="548.0" cy="39.3" r="2.4" fill="url(#grr)"/>
<circle cx="549.1" cy="37.2" r="2.4" fill="url(#grr)"/>
<circle cx="549.3" cy="39.0" r="2.4" fill="url(#grr)"/>
<circle cx="550.2" cy="37.6" r="2.4" fill="url(#grr)"/>
<circle cx="550.4" cy="36.2" r="2.4" fill="url(#grr)"/>
<circle cx="551.1" cy="39.1" r="2.4" fill="url(#grr)"/>
<circle cx="552.2" cy="38.4" r="2.4" fill="url(#grr)"/>
<circle cx="552.6" cy="37.9" r="2.4" fill="url(#grr)"/>
<circle cx="553.6" cy="39.0" r="2.4" fill="url(#grr)"/>
<circle cx="554.3" cy="35.6" r="2.4" fill="url(#grr)"/>
<circle cx="554.5" cy="38.0" r="2.4" fill="url(#grr)"/>
<circle cx="555.0" cy="36.0" r="2.4" fill="url(#grr)"/>
<circle cx="556.2" cy="38.7" r="2.4" fill="url(#grr)"/>
<circle cx="556.4" cy="36.7" r="2.4" fill="url(#grr)"/>
<circle cx="557.2" cy="35.5" r="2.4" fill="url(#grr)"/>
<circle cx="557.6" cy="36.4" r="2.4" fill="url(#grr)"/>
<circle cx="558.8" cy="36.4" r="2.4" fill="url(#grr)"/>
<circle cx="559.2" cy="35.4" r="2.4" fill="url(#grr)"/>
<circle cx="559.6" cy="37.3" r="2.4" fill="url(#grr)"/>
<circle cx="560.2" cy="35.2" r="2.4" fill="url(#grr)"/>
<circle cx="561.6" cy="35.7" r="2.4" fill="url(#grr)"/>
<circle cx="562.0" cy="38.8" r="2.4" fill="url(#grr)"/>
<circle cx="562.4" cy="38.9" r="2.4" fill="url(#grr)"/>
<circle cx="563.5" cy="36.1" r="2.4" fill="url(#grr)"/>
<circle cx="564.2" cy="37.6" r="2.4" fill="url(#grr)"/>
<circle cx="564.4" cy="36.5" r="2.4" fill="url(#grr)"/>
<circle cx="565.5" cy="38.1" r="2.4" fill="url(#grr)"/>
<circle cx="565.6" cy="35.6" r="2.4" fill="url(#grr)"/>
<circle cx="566.5" cy="35.0" r="2.4" fill="url(#grr)"/>
<circle cx="567.2" cy="39.0" r="2.4" fill="url(#grr)"/>
<circle cx="567.9" cy="35.6" r="2.4" fill="url(#grr)"/>
<circle cx="568.1" cy="37.8" r="2.4" fill="url(#grr)"/>
<circle cx="569.2" cy="39.0" r="2.4" fill="url(#grr)"/>
<circle cx="569.6" cy="37.1" r="2.4" fill="url(#grr)"/>
<circle cx="570.4" cy="35.7" r="2.4" fill="url(#grr)"/>
<circle cx="570.9" cy="36.6" r="2.4" fill="url(#grr)"/>
<circle cx="571.9" cy="37.8" r="2.4" fill="url(#grr)"/>
<circle cx="572.8" cy="39.1" r="2.4" fill="url(#grr)"/>
<circle cx="573.2" cy="37.0" r="2.4" fill="url(#grr)"/>
<circle cx="573.6" cy="36.6" r="2.4" fill="url(#grr)"/>
<circle cx="574.7" cy="37.4" r="2.4" fill="url(#grr)"/>
<circle cx="575.0" cy="35.2" r="2.4" fill="url(#grr)"/>
<circle cx="575.9" cy="36.5" r="2.4" fill="url(#grr)"/>
<circle cx="576.3" cy="39.1" r="2.4" fill="url(#grr)"/>
<circle cx="577.1" cy="35.4" r="2.4" fill="url(#grr)"/>
<circle cx="577.8" cy="37.5" r="2.4" fill="url(#grr)"/>
<circle cx="578.3" cy="38.3" r="2.4" fill="url(#grr)"/>
<circle cx="579.2" cy="37.4" r="2.4" fill="url(#grr)"/>
<circle cx="579.4" cy="35.2" r="2.4" fill="url(#grr)"/>
<circle cx="580.6" cy="38.0" r="2.4" fill="url(#grr)"/>
<circle cx="580.7" cy="39.0" r="2.4" fill="url(#grr)"/>
<circle cx="581.4" cy="39.1" r="2.4" fill="url(#grr)"/>
<circle cx="582.0" cy="37.0" r="2.4" fill="url(#grr)"/>
<circle cx="582.8" cy="37.6" r="2.4" fill="url(#grr)"/>
<circle cx="583.9" cy="37.9" r="2.4" fill="url(#grr)"/>
<circle cx="584.3" cy="35.7" r="2.4" fill="url(#grr)"/>
<circle cx="450.9" cy="54.4" r="2.3" fill="url(#grr)"/>
<circle cx="544.0" cy="47.7" r="2.3" fill="url(#grr)"/>
<circle cx="540.9" cy="42.3" r="2.3" fill="url(#grr)"/>
<circle cx="440.2" cy="104.5" r="2.4" fill="url(#gbb)"/>
<circle cx="441.3" cy="107.4" r="2.4" fill="url(#gbb)"/>
<circle cx="441.7" cy="109.8" r="2.4" fill="url(#gbb)"/>
<circle cx="442.1" cy="104.8" r="2.4" fill="url(#gbb)"/>
<circle cx="442.6" cy="114.2" r="2.4" fill="url(#gbb)"/>
<circle cx="443.5" cy="115.5" r="2.4" fill="url(#gbb)"/>
<circle cx="443.3" cy="108.2" r="2.4" fill="url(#gbb)"/>
<circle cx="444.0" cy="113.1" r="2.4" fill="url(#gbb)"/>
<circle cx="445.0" cy="103.5" r="2.4" fill="url(#gbb)"/>
<circle cx="445.7" cy="114.2" r="2.4" fill="url(#gbb)"/>
<circle cx="445.7" cy="115.6" r="2.4" fill="url(#gbb)"/>
<circle cx="446.2" cy="104.2" r="2.4" fill="url(#gbb)"/>
<circle cx="446.8" cy="115.9" r="2.4" fill="url(#gbb)"/>
<circle cx="447.2" cy="104.8" r="2.4" fill="url(#gbb)"/>
<circle cx="447.8" cy="103.0" r="2.4" fill="url(#gbb)"/>
<circle cx="448.5" cy="107.0" r="2.4" fill="url(#gbb)"/>
<circle cx="449.6" cy="106.2" r="2.4" fill="url(#gbb)"/>
<circle cx="450.1" cy="103.9" r="2.4" fill="url(#gbb)"/>
<circle cx="450.5" cy="112.3" r="2.4" fill="url(#gbb)"/>
<circle cx="451.2" cy="109.7" r="2.4" fill="url(#gbb)"/>
<circle cx="451.3" cy="109.8" r="2.4" fill="url(#gbb)"/>
<circle cx="451.9" cy="105.6" r="2.4" fill="url(#gbb)"/>
<circle cx="453.0" cy="106.7" r="2.4" fill="url(#gbb)"/>
<circle cx="452.8" cy="107.1" r="2.4" fill="url(#gbb)"/>
<circle cx="454.0" cy="107.9" r="2.4" fill="url(#gbb)"/>
<circle cx="454.5" cy="107.4" r="2.4" fill="url(#gbb)"/>
<circle cx="454.5" cy="101.8" r="2.4" fill="url(#gbb)"/>
<circle cx="455.1" cy="110.8" r="2.4" fill="url(#gbb)"/>
<circle cx="455.9" cy="105.1" r="2.4" fill="url(#gbb)"/>
<circle cx="456.2" cy="103.4" r="2.4" fill="url(#gbb)"/>
<circle cx="457.4" cy="100.4" r="2.4" fill="url(#gbb)"/>
<circle cx="458.0" cy="111.2" r="2.4" fill="url(#gbb)"/>
<circle cx="458.6" cy="108.1" r="2.4" fill="url(#gbb)"/>
<circle cx="458.8" cy="114.0" r="2.4" fill="url(#gbb)"/>
<circle cx="459.3" cy="108.6" r="2.4" fill="url(#gbb)"/>
<circle cx="459.8" cy="103.8" r="2.4" fill="url(#gbb)"/>
<circle cx="460.2" cy="111.8" r="2.4" fill="url(#gbb)"/>
<circle cx="461.0" cy="113.9" r="2.4" fill="url(#gbb)"/>
<circle cx="461.8" cy="110.1" r="2.4" fill="url(#gbb)"/>
<circle cx="461.8" cy="110.8" r="2.4" fill="url(#gbb)"/>
<circle cx="462.2" cy="105.0" r="2.4" fill="url(#gbb)"/>
<circle cx="463.6" cy="101.9" r="2.4" fill="url(#gbb)"/>
<circle cx="464.1" cy="110.3" r="2.4" fill="url(#gbb)"/>
<circle cx="464.2" cy="113.1" r="2.4" fill="url(#gbb)"/>
<circle cx="465.2" cy="115.7" r="2.4" fill="url(#gbb)"/>
<circle cx="465.1" cy="108.7" r="2.4" fill="url(#gbb)"/>
<circle cx="465.7" cy="106.9" r="2.4" fill="url(#gbb)"/>
<circle cx="466.2" cy="107.7" r="2.4" fill="url(#gbb)"/>
<circle cx="467.5" cy="112.4" r="2.4" fill="url(#gbb)"/>
<circle cx="467.9" cy="106.0" r="2.4" fill="url(#gbb)"/>
<circle cx="468.2" cy="110.9" r="2.4" fill="url(#gbb)"/>
<circle cx="468.7" cy="115.0" r="2.4" fill="url(#gbb)"/>
<circle cx="468.9" cy="113.8" r="2.4" fill="url(#gbb)"/>
<circle cx="469.6" cy="115.7" r="2.4" fill="url(#gbb)"/>
<circle cx="470.7" cy="102.6" r="2.4" fill="url(#gbb)"/>
<circle cx="471.1" cy="112.4" r="2.4" fill="url(#gbb)"/>
<circle cx="471.4" cy="112.9" r="2.4" fill="url(#gbb)"/>
<circle cx="471.9" cy="103.7" r="2.4" fill="url(#gbb)"/>
<circle cx="473.0" cy="115.5" r="2.4" fill="url(#gbb)"/>
<circle cx="473.2" cy="105.0" r="2.4" fill="url(#gbb)"/>
<circle cx="474.1" cy="108.1" r="2.4" fill="url(#gbb)"/>
<circle cx="474.6" cy="101.4" r="2.4" fill="url(#gbb)"/>
<circle cx="474.9" cy="105.0" r="2.4" fill="url(#gbb)"/>
<circle cx="475.1" cy="103.0" r="2.4" fill="url(#gbb)"/>
<circle cx="476.0" cy="114.4" r="2.4" fill="url(#gbb)"/>
<circle cx="476.8" cy="115.8" r="2.4" fill="url(#gbb)"/>
<circle cx="476.8" cy="112.3" r="2.4" fill="url(#gbb)"/>
<circle cx="478.0" cy="109.7" r="2.4" fill="url(#gbb)"/>
<circle cx="477.9" cy="108.3" r="2.4" fill="url(#gbb)"/>
<circle cx="479.2" cy="103.1" r="2.4" fill="url(#gbb)"/>
<circle cx="479.1" cy="115.8" r="2.4" fill="url(#gbb)"/>
<circle cx="480.0" cy="105.0" r="2.4" fill="url(#gbb)"/>
<circle cx="480.2" cy="108.0" r="2.4" fill="url(#gbb)"/>
<circle cx="481.1" cy="115.9" r="2.4" fill="url(#gbb)"/>
<circle cx="481.2" cy="105.5" r="2.4" fill="url(#gbb)"/>
<circle cx="482.3" cy="108.1" r="2.4" fill="url(#gbb)"/>
<circle cx="482.3" cy="103.1" r="2.4" fill="url(#gbb)"/>
<circle cx="483.5" cy="111.9" r="2.4" fill="url(#gbb)"/>
<circle cx="483.7" cy="106.9" r="2.4" fill="url(#gbb)"/>
<circle cx="484.3" cy="111.0" r="2.4" fill="url(#gbb)"/>
<circle cx="484.7" cy="104.1" r="2.4" fill="url(#gbb)"/>
<circle cx="485.2" cy="105.6" r="2.4" fill="url(#gbb)"/>
<circle cx="485.9" cy="104.5" r="2.4" fill="url(#gbb)"/>
<circle cx="486.8" cy="106.6" r="2.4" fill="url(#gbb)"/>
<circle cx="487.5" cy="108.3" r="2.4" fill="url(#gbb)"/>
<circle cx="487.5" cy="114.1" r="2.4" fill="url(#gbb)"/>
<circle cx="488.3" cy="107.2" r="2.4" fill="url(#gbb)"/>
<circle cx="488.8" cy="110.9" r="2.4" fill="url(#gbb)"/>
<circle cx="489.4" cy="107.8" r="2.4" fill="url(#gbb)"/>
<circle cx="489.8" cy="114.0" r="2.4" fill="url(#gbb)"/>
<circle cx="490.8" cy="109.4" r="2.4" fill="url(#gbb)"/>
<circle cx="491.4" cy="109.6" r="2.4" fill="url(#gbb)"/>
<circle cx="491.2" cy="113.2" r="2.4" fill="url(#gbb)"/>
<circle cx="491.8" cy="110.7" r="2.4" fill="url(#gbb)"/>
<circle cx="492.6" cy="114.0" r="2.4" fill="url(#gbb)"/>
<circle cx="493.6" cy="106.6" r="2.4" fill="url(#gbb)"/>
<circle cx="493.9" cy="114.0" r="2.4" fill="url(#gbb)"/>
<circle cx="494.0" cy="111.4" r="2.4" fill="url(#gbb)"/>
<circle cx="494.7" cy="116.0" r="2.4" fill="url(#gbb)"/>
<circle cx="495.4" cy="110.7" r="2.4" fill="url(#gbb)"/>
<circle cx="495.6" cy="109.9" r="2.4" fill="url(#gbb)"/>
<circle cx="496.5" cy="114.9" r="2.4" fill="url(#gbb)"/>
<circle cx="497.4" cy="108.6" r="2.4" fill="url(#gbb)"/>
<circle cx="497.8" cy="114.4" r="2.4" fill="url(#gbb)"/>
<circle cx="498.1" cy="115.0" r="2.4" fill="url(#gbb)"/>
<circle cx="498.7" cy="104.3" r="2.4" fill="url(#gbb)"/>
<circle cx="499.6" cy="110.8" r="2.4" fill="url(#gbb)"/>
<circle cx="500.0" cy="112.5" r="2.4" fill="url(#gbb)"/>
<circle cx="500.6" cy="110.7" r="2.4" fill="url(#gbb)"/>
<circle cx="500.6" cy="110.3" r="2.4" fill="url(#gbb)"/>
<circle cx="501.4" cy="109.9" r="2.4" fill="url(#gbb)"/>
<circle cx="502.2" cy="103.3" r="2.4" fill="url(#gbb)"/>
<circle cx="502.5" cy="114.0" r="2.4" fill="url(#gbb)"/>
<circle cx="503.3" cy="111.6" r="2.4" fill="url(#gbb)"/>
<circle cx="504.1" cy="111.8" r="2.4" fill="url(#gbb)"/>
<circle cx="504.0" cy="112.0" r="2.4" fill="url(#gbb)"/>
<circle cx="504.8" cy="110.9" r="2.4" fill="url(#gbb)"/>
<circle cx="505.6" cy="108.1" r="2.4" fill="url(#gbb)"/>
<circle cx="506.1" cy="104.7" r="2.4" fill="url(#gbb)"/>
<circle cx="506.2" cy="115.3" r="2.4" fill="url(#gbb)"/>
<circle cx="507.3" cy="114.1" r="2.4" fill="url(#gbb)"/>
<circle cx="507.9" cy="107.9" r="2.4" fill="url(#gbb)"/>
<circle cx="508.0" cy="103.4" r="2.4" fill="url(#gbb)"/>
<circle cx="508.9" cy="116.2" r="2.4" fill="url(#gbb)"/>
<circle cx="509.0" cy="104.6" r="2.4" fill="url(#gbb)"/>
<circle cx="509.9" cy="108.5" r="2.4" fill="url(#gbb)"/>
<circle cx="510.2" cy="116.1" r="2.4" fill="url(#gbb)"/>
<circle cx="511.0" cy="111.1" r="2.4" fill="url(#gbb)"/>
<circle cx="511.9" cy="110.0" r="2.4" fill="url(#gbb)"/>
<circle cx="512.4" cy="103.9" r="2.4" fill="url(#gbb)"/>
<circle cx="512.5" cy="112.5" r="2.4" fill="url(#gbb)"/>
<circle cx="513.4" cy="104.0" r="2.4" fill="url(#gbb)"/>
<circle cx="513.7" cy="114.2" r="2.4" fill="url(#gbb)"/>
<circle cx="514.4" cy="104.2" r="2.4" fill="url(#gbb)"/>
<circle cx="514.8" cy="111.6" r="2.4" fill="url(#gbb)"/>
<circle cx="515.1" cy="108.3" r="2.4" fill="url(#gbb)"/>
<circle cx="515.8" cy="105.1" r="2.4" fill="url(#gbb)"/>
<circle cx="516.3" cy="113.2" r="2.4" fill="url(#gbb)"/>
<circle cx="517.1" cy="106.8" r="2.4" fill="url(#gbb)"/>
<circle cx="517.5" cy="107.3" r="2.4" fill="url(#gbb)"/>
<circle cx="518.0" cy="113.4" r="2.4" fill="url(#gbb)"/>
<circle cx="518.5" cy="111.8" r="2.4" fill="url(#gbb)"/>
<circle cx="519.5" cy="111.6" r="2.4" fill="url(#gbb)"/>
<circle cx="519.7" cy="111.2" r="2.4" fill="url(#gbb)"/>
<circle cx="520.3" cy="107.6" r="2.4" fill="url(#gbb)"/>
<circle cx="520.7" cy="110.9" r="2.4" fill="url(#gbb)"/>
<circle cx="521.6" cy="111.1" r="2.4" fill="url(#gbb)"/>
<circle cx="522.3" cy="107.9" r="2.4" fill="url(#gbb)"/>
<circle cx="522.8" cy="115.8" r="2.4" fill="url(#gbb)"/>
<circle cx="523.5" cy="111.3" r="2.4" fill="url(#gbb)"/>
<circle cx="524.2" cy="115.7" r="2.4" fill="url(#gbb)"/>
<circle cx="524.6" cy="115.8" r="2.4" fill="url(#gbb)"/>
<circle cx="525.1" cy="115.7" r="2.4" fill="url(#gbb)"/>
<circle cx="525.2" cy="110.2" r="2.4" fill="url(#gbb)"/>
<circle cx="526.2" cy="111.6" r="2.4" fill="url(#gbb)"/>
<circle cx="526.5" cy="109.7" r="2.4" fill="url(#gbb)"/>
<circle cx="526.8" cy="108.0" r="2.4" fill="url(#gbb)"/>
<circle cx="528.0" cy="109.6" r="2.4" fill="url(#gbb)"/>
<circle cx="528.0" cy="107.8" r="2.4" fill="url(#gbb)"/>
<circle cx="529.2" cy="110.9" r="2.4" fill="url(#gbb)"/>
<circle cx="529.0" cy="109.2" r="2.4" fill="url(#gbb)"/>
<circle cx="529.8" cy="107.7" r="2.4" fill="url(#gbb)"/>
<circle cx="530.6" cy="107.1" r="2.4" fill="url(#gbb)"/>
<circle cx="530.8" cy="107.3" r="2.4" fill="url(#gbb)"/>
<circle cx="531.4" cy="107.2" r="2.4" fill="url(#gbb)"/>
<circle cx="531.9" cy="107.0" r="2.4" fill="url(#gbb)"/>
<circle cx="532.5" cy="107.8" r="2.4" fill="url(#gbb)"/>
<circle cx="533.1" cy="112.3" r="2.4" fill="url(#gbb)"/>
<circle cx="533.4" cy="107.5" r="2.4" fill="url(#gbb)"/>
<circle cx="534.6" cy="114.7" r="2.4" fill="url(#gbb)"/>
<circle cx="535.1" cy="115.6" r="2.4" fill="url(#gbb)"/>
<circle cx="535.3" cy="109.4" r="2.4" fill="url(#gbb)"/>
<circle cx="536.0" cy="106.4" r="2.4" fill="url(#gbb)"/>
<circle cx="536.9" cy="108.9" r="2.4" fill="url(#gbb)"/>
<circle cx="537.3" cy="105.9" r="2.4" fill="url(#gbb)"/>
<circle cx="537.8" cy="112.7" r="2.4" fill="url(#gbb)"/>
<circle cx="537.9" cy="111.0" r="2.4" fill="url(#gbb)"/>
<circle cx="538.8" cy="104.5" r="2.4" fill="url(#gbb)"/>
<circle cx="539.7" cy="110.6" r="2.4" fill="url(#gbb)"/>
<circle cx="539.7" cy="113.1" r="2.4" fill="url(#gbb)"/>
<circle cx="540.7" cy="103.9" r="2.4" fill="url(#gbb)"/>
<circle cx="541.4" cy="102.0" r="2.4" fill="url(#gbb)"/>
<circle cx="541.7" cy="103.1" r="2.4" fill="url(#gbb)"/>
<circle cx="541.8" cy="114.0" r="2.4" fill="url(#gbb)"/>
<circle cx="542.8" cy="103.3" r="2.4" fill="url(#gbb)"/>
<circle cx="542.9" cy="112.2" r="2.4" fill="url(#gbb)"/>
<circle cx="544.0" cy="108.6" r="2.4" fill="url(#gbb)"/>
<circle cx="544.3" cy="113.0" r="2.4" fill="url(#gbb)"/>
<circle cx="545.0" cy="101.9" r="2.4" fill="url(#gbb)"/>
<circle cx="545.4" cy="109.5" r="2.4" fill="url(#gbb)"/>
<circle cx="546.1" cy="110.4" r="2.4" fill="url(#gbb)"/>
<circle cx="546.6" cy="108.7" r="2.4" fill="url(#gbb)"/>
<circle cx="547.4" cy="109.9" r="2.4" fill="url(#gbb)"/>
<circle cx="547.3" cy="113.2" r="2.4" fill="url(#gbb)"/>
<circle cx="548.1" cy="113.1" r="2.4" fill="url(#gbb)"/>
<circle cx="548.6" cy="107.9" r="2.4" fill="url(#gbb)"/>
<circle cx="549.3" cy="106.3" r="2.4" fill="url(#gbb)"/>
<circle cx="549.6" cy="108.4" r="2.4" fill="url(#gbb)"/>
<circle cx="550.5" cy="106.1" r="2.4" fill="url(#gbb)"/>
<circle cx="551.1" cy="107.4" r="2.4" fill="url(#gbb)"/>
<circle cx="551.6" cy="102.8" r="2.4" fill="url(#gbb)"/>
<circle cx="552.3" cy="114.8" r="2.4" fill="url(#gbb)"/>
<circle cx="553.0" cy="109.9" r="2.4" fill="url(#gbb)"/>
<circle cx="553.0" cy="107.3" r="2.4" fill="url(#gbb)"/>
<circle cx="553.6" cy="110.6" r="2.4" fill="url(#gbb)"/>
<circle cx="554.6" cy="105.8" r="2.4" fill="url(#gbb)"/>
<circle cx="554.7" cy="109.2" r="2.4" fill="url(#gbb)"/>
<circle cx="555.7" cy="105.0" r="2.4" fill="url(#gbb)"/>
<circle cx="556.4" cy="111.2" r="2.4" fill="url(#gbb)"/>
<circle cx="556.4" cy="112.5" r="2.4" fill="url(#gbb)"/>
<circle cx="557.5" cy="111.9" r="2.4" fill="url(#gbb)"/>
<circle cx="558.0" cy="114.5" r="2.4" fill="url(#gbb)"/>
<circle cx="558.1" cy="104.0" r="2.4" fill="url(#gbb)"/>
<circle cx="559.1" cy="104.4" r="2.4" fill="url(#gbb)"/>
<circle cx="559.4" cy="111.8" r="2.4" fill="url(#gbb)"/>
<circle cx="559.9" cy="104.7" r="2.4" fill="url(#gbb)"/>
<circle cx="560.1" cy="111.8" r="2.4" fill="url(#gbb)"/>
<circle cx="561.2" cy="114.7" r="2.4" fill="url(#gbb)"/>
<circle cx="562.0" cy="114.7" r="2.4" fill="url(#gbb)"/>
<circle cx="562.0" cy="109.6" r="2.4" fill="url(#gbb)"/>
<circle cx="562.7" cy="107.9" r="2.4" fill="url(#gbb)"/>
<circle cx="563.1" cy="111.0" r="2.4" fill="url(#gbb)"/>
<circle cx="563.8" cy="107.0" r="2.4" fill="url(#gbb)"/>
<circle cx="564.0" cy="112.9" r="2.4" fill="url(#gbb)"/>
<circle cx="565.1" cy="115.0" r="2.4" fill="url(#gbb)"/>
<circle cx="565.5" cy="110.0" r="2.4" fill="url(#gbb)"/>
<circle cx="566.0" cy="114.0" r="2.4" fill="url(#gbb)"/>
<circle cx="566.3" cy="108.1" r="2.4" fill="url(#gbb)"/>
<circle cx="566.8" cy="108.3" r="2.4" fill="url(#gbb)"/>
<circle cx="567.8" cy="107.2" r="2.4" fill="url(#gbb)"/>
<circle cx="568.6" cy="108.3" r="2.4" fill="url(#gbb)"/>
<circle cx="569.1" cy="109.5" r="2.4" fill="url(#gbb)"/>
<circle cx="569.8" cy="106.1" r="2.4" fill="url(#gbb)"/>
<circle cx="570.3" cy="114.3" r="2.4" fill="url(#gbb)"/>
<circle cx="570.5" cy="113.6" r="2.4" fill="url(#gbb)"/>
<circle cx="571.3" cy="104.8" r="2.4" fill="url(#gbb)"/>
<circle cx="571.6" cy="115.6" r="2.4" fill="url(#gbb)"/>
<circle cx="572.3" cy="112.9" r="2.4" fill="url(#gbb)"/>
<circle cx="573.1" cy="112.9" r="2.4" fill="url(#gbb)"/>
<circle cx="573.0" cy="111.2" r="2.4" fill="url(#gbb)"/>
<circle cx="573.9" cy="108.2" r="2.4" fill="url(#gbb)"/>
<circle cx="574.6" cy="105.1" r="2.4" fill="url(#gbb)"/>
<circle cx="574.6" cy="106.6" r="2.4" fill="url(#gbb)"/>
<circle cx="575.7" cy="107.0" r="2.4" fill="url(#gbb)"/>
<circle cx="575.9" cy="111.0" r="2.4" fill="url(#gbb)"/>
<circle cx="576.8" cy="107.9" r="2.4" fill="url(#gbb)"/>
<circle cx="576.9" cy="114.1" r="2.4" fill="url(#gbb)"/>
<circle cx="577.7" cy="104.7" r="2.4" fill="url(#gbb)"/>
<circle cx="578.0" cy="105.0" r="2.4" fill="url(#gbb)"/>
<circle cx="578.6" cy="106.2" r="2.4" fill="url(#gbb)"/>
<circle cx="579.3" cy="102.4" r="2.4" fill="url(#gbb)"/>
<circle cx="580.0" cy="108.1" r="2.4" fill="url(#gbb)"/>
<circle cx="580.9" cy="115.2" r="2.4" fill="url(#gbb)"/>
<circle cx="580.9" cy="108.9" r="2.4" fill="url(#gbb)"/>
<circle cx="581.6" cy="110.9" r="2.4" fill="url(#gbb)"/>
<circle cx="582.5" cy="110.6" r="2.4" fill="url(#gbb)"/>
<circle cx="583.1" cy="112.9" r="2.4" fill="url(#gbb)"/>
<circle cx="583.5" cy="113.7" r="2.4" fill="url(#gbb)"/>
<circle cx="584.0" cy="116.1" r="2.4" fill="url(#gbb)"/>
<circle cx="584.5" cy="112.9" r="2.4" fill="url(#gbb)"/>
<circle cx="511.6" cy="96.0" r="2.3" fill="url(#gbb)"/>
<line x1="464.80" y1="122.90" x2="448.60" y2="122.90" stroke="#4f80c2" stroke-width="1" />
<polygon points="441.60,122.90 448.60,120.80 448.60,125.00" fill="#4f80c2"/>
<line x1="563.20" y1="28.70" x2="579.00" y2="28.70" stroke="#e4424c" stroke-width="1" />
<polygon points="586.00,28.70 579.00,30.80 579.00,26.60" fill="#e4424c"/>
<line x1="434.70" y1="17.30" x2="588.40" y2="17.30" stroke="#6b6b6b" stroke-width="1" />
<line x1="434.70" y1="140.70" x2="588.40" y2="140.70" stroke="#6b6b6b" stroke-width="1" />
<line x1="434.70" y1="17.30" x2="434.70" y2="140.70" stroke="#7aa0d0" stroke-width="1" />
<line x1="588.40" y1="17.30" x2="588.40" y2="140.70" stroke="#e88a90" stroke-width="1" />
<line x1="439.30" y1="140.70" x2="439.30" y2="138.20" stroke="#6b6b6b" stroke-width="1" />
<line x1="439.30" y1="17.30" x2="439.30" y2="19.80" stroke="#6b6b6b" stroke-width="1" />
<line x1="463.45" y1="140.70" x2="463.45" y2="138.20" stroke="#6b6b6b" stroke-width="1" />
<line x1="463.45" y1="17.30" x2="463.45" y2="19.80" stroke="#6b6b6b" stroke-width="1" />
<line x1="487.60" y1="140.70" x2="487.60" y2="138.20" stroke="#6b6b6b" stroke-width="1" />
<line x1="487.60" y1="17.30" x2="487.60" y2="19.80" stroke="#6b6b6b" stroke-width="1" />
<line x1="511.75" y1="140.70" x2="511.75" y2="138.20" stroke="#6b6b6b" stroke-width="1" />
<line x1="511.75" y1="17.30" x2="511.75" y2="19.80" stroke="#6b6b6b" stroke-width="1" />
<line x1="535.90" y1="140.70" x2="535.90" y2="138.20" stroke="#6b6b6b" stroke-width="1" />
<line x1="535.90" y1="17.30" x2="535.90" y2="19.80" stroke="#6b6b6b" stroke-width="1" />
<line x1="560.05" y1="140.70" x2="560.05" y2="138.20" stroke="#6b6b6b" stroke-width="1" />
<line x1="560.05" y1="17.30" x2="560.05" y2="19.80" stroke="#6b6b6b" stroke-width="1" />
<line x1="584.20" y1="140.70" x2="584.20" y2="138.20" stroke="#6b6b6b" stroke-width="1" />
<line x1="584.20" y1="17.30" x2="584.20" y2="19.80" stroke="#6b6b6b" stroke-width="1" />
<line x1="434.70" y1="17.50" x2="437.20" y2="17.50" stroke="#7aa0d0" stroke-width="1" />
<line x1="434.70" y1="25.42" x2="436.00" y2="25.42" stroke="#9ab8dc" stroke-width="0.7" />
<line x1="434.70" y1="30.05" x2="436.00" y2="30.05" stroke="#9ab8dc" stroke-width="0.7" />
<line x1="434.70" y1="33.33" x2="436.00" y2="33.33" stroke="#9ab8dc" stroke-width="0.7" />
<line x1="434.70" y1="35.88" x2="436.00" y2="35.88" stroke="#9ab8dc" stroke-width="0.7" />
<line x1="434.70" y1="37.97" x2="436.00" y2="37.97" stroke="#9ab8dc" stroke-width="0.7" />
<line x1="434.70" y1="39.73" x2="436.00" y2="39.73" stroke="#9ab8dc" stroke-width="0.7" />
<line x1="434.70" y1="41.25" x2="436.00" y2="41.25" stroke="#9ab8dc" stroke-width="0.7" />
<line x1="434.70" y1="42.60" x2="436.00" y2="42.60" stroke="#9ab8dc" stroke-width="0.7" />
<line x1="434.70" y1="43.80" x2="437.20" y2="43.80" stroke="#7aa0d0" stroke-width="1" />
<line x1="434.70" y1="51.72" x2="436.00" y2="51.72" stroke="#9ab8dc" stroke-width="0.7" />
<line x1="434.70" y1="56.35" x2="436.00" y2="56.35" stroke="#9ab8dc" stroke-width="0.7" />
<line x1="434.70" y1="59.63" x2="436.00" y2="59.63" stroke="#9ab8dc" stroke-width="0.7" />
<line x1="434.70" y1="62.18" x2="436.00" y2="62.18" stroke="#9ab8dc" stroke-width="0.7" />
<line x1="434.70" y1="64.27" x2="436.00" y2="64.27" stroke="#9ab8dc" stroke-width="0.7" />
<line x1="434.70" y1="66.03" x2="436.00" y2="66.03" stroke="#9ab8dc" stroke-width="0.7" />
<line x1="434.70" y1="67.55" x2="436.00" y2="67.55" stroke="#9ab8dc" stroke-width="0.7" />
<line x1="434.70" y1="68.90" x2="436.00" y2="68.90" stroke="#9ab8dc" stroke-width="0.7" />
<line x1="434.70" y1="70.10" x2="437.20" y2="70.10" stroke="#7aa0d0" stroke-width="1" />
<line x1="434.70" y1="78.02" x2="436.00" y2="78.02" stroke="#9ab8dc" stroke-width="0.7" />
<line x1="434.70" y1="82.65" x2="436.00" y2="82.65" stroke="#9ab8dc" stroke-width="0.7" />
<line x1="434.70" y1="85.93" x2="436.00" y2="85.93" stroke="#9ab8dc" stroke-width="0.7" />
<line x1="434.70" y1="88.48" x2="436.00" y2="88.48" stroke="#9ab8dc" stroke-width="0.7" />
<line x1="434.70" y1="90.57" x2="436.00" y2="90.57" stroke="#9ab8dc" stroke-width="0.7" />
<line x1="434.70" y1="92.33" x2="436.00" y2="92.33" stroke="#9ab8dc" stroke-width="0.7" />
<line x1="434.70" y1="93.85" x2="436.00" y2="93.85" stroke="#9ab8dc" stroke-width="0.7" />
<line x1="434.70" y1="95.20" x2="436.00" y2="95.20" stroke="#9ab8dc" stroke-width="0.7" />
<line x1="434.70" y1="96.40" x2="437.20" y2="96.40" stroke="#7aa0d0" stroke-width="1" />
<line x1="434.70" y1="104.32" x2="436.00" y2="104.32" stroke="#9ab8dc" stroke-width="0.7" />
<line x1="434.70" y1="108.95" x2="436.00" y2="108.95" stroke="#9ab8dc" stroke-width="0.7" />
<line x1="434.70" y1="112.23" x2="436.00" y2="112.23" stroke="#9ab8dc" stroke-width="0.7" />
<line x1="434.70" y1="114.78" x2="436.00" y2="114.78" stroke="#9ab8dc" stroke-width="0.7" />
<line x1="434.70" y1="116.87" x2="436.00" y2="116.87" stroke="#9ab8dc" stroke-width="0.7" />
<line x1="434.70" y1="118.63" x2="436.00" y2="118.63" stroke="#9ab8dc" stroke-width="0.7" />
<line x1="434.70" y1="120.15" x2="436.00" y2="120.15" stroke="#9ab8dc" stroke-width="0.7" />
<line x1="434.70" y1="121.50" x2="436.00" y2="121.50" stroke="#9ab8dc" stroke-width="0.7" />
<line x1="434.70" y1="122.70" x2="437.20" y2="122.70" stroke="#7aa0d0" stroke-width="1" />
<line x1="434.70" y1="130.62" x2="436.00" y2="130.62" stroke="#9ab8dc" stroke-width="0.7" />
<line x1="434.70" y1="135.25" x2="436.00" y2="135.25" stroke="#9ab8dc" stroke-width="0.7" />
<line x1="434.70" y1="138.53" x2="436.00" y2="138.53" stroke="#9ab8dc" stroke-width="0.7" />
<line x1="588.40" y1="140.40" x2="585.90" y2="140.40" stroke="#e88a90" stroke-width="1" />
<line x1="588.40" y1="130.23" x2="587.10" y2="130.23" stroke="#eeaab0" stroke-width="0.7" />
<line x1="588.40" y1="124.27" x2="587.10" y2="124.27" stroke="#eeaab0" stroke-width="0.7" />
<line x1="588.40" y1="120.05" x2="587.10" y2="120.05" stroke="#eeaab0" stroke-width="0.7" />
<line x1="588.40" y1="116.77" x2="587.10" y2="116.77" stroke="#eeaab0" stroke-width="0.7" />
<line x1="588.40" y1="114.10" x2="587.10" y2="114.10" stroke="#eeaab0" stroke-width="0.7" />
<line x1="588.40" y1="111.84" x2="587.10" y2="111.84" stroke="#eeaab0" stroke-width="0.7" />
<line x1="588.40" y1="109.88" x2="587.10" y2="109.88" stroke="#eeaab0" stroke-width="0.7" />
<line x1="588.40" y1="108.15" x2="587.10" y2="108.15" stroke="#eeaab0" stroke-width="0.7" />
<line x1="588.40" y1="106.60" x2="585.90" y2="106.60" stroke="#e88a90" stroke-width="1" />
<line x1="588.40" y1="96.43" x2="587.10" y2="96.43" stroke="#eeaab0" stroke-width="0.7" />
<line x1="588.40" y1="90.47" x2="587.10" y2="90.47" stroke="#eeaab0" stroke-width="0.7" />
<line x1="588.40" y1="86.25" x2="587.10" y2="86.25" stroke="#eeaab0" stroke-width="0.7" />
<line x1="588.40" y1="82.97" x2="587.10" y2="82.97" stroke="#eeaab0" stroke-width="0.7" />
<line x1="588.40" y1="80.30" x2="587.10" y2="80.30" stroke="#eeaab0" stroke-width="0.7" />
<line x1="588.40" y1="78.04" x2="587.10" y2="78.04" stroke="#eeaab0" stroke-width="0.7" />
<line x1="588.40" y1="76.08" x2="587.10" y2="76.08" stroke="#eeaab0" stroke-width="0.7" />
<line x1="588.40" y1="74.35" x2="587.10" y2="74.35" stroke="#eeaab0" stroke-width="0.7" />
<line x1="588.40" y1="72.80" x2="585.90" y2="72.80" stroke="#e88a90" stroke-width="1" />
<line x1="588.40" y1="62.63" x2="587.10" y2="62.63" stroke="#eeaab0" stroke-width="0.7" />
<line x1="588.40" y1="56.67" x2="587.10" y2="56.67" stroke="#eeaab0" stroke-width="0.7" />
<line x1="588.40" y1="52.45" x2="587.10" y2="52.45" stroke="#eeaab0" stroke-width="0.7" />
<line x1="588.40" y1="49.17" x2="587.10" y2="49.17" stroke="#eeaab0" stroke-width="0.7" />
<line x1="588.40" y1="46.50" x2="587.10" y2="46.50" stroke="#eeaab0" stroke-width="0.7" />
<line x1="588.40" y1="44.24" x2="587.10" y2="44.24" stroke="#eeaab0" stroke-width="0.7" />
<line x1="588.40" y1="42.28" x2="587.10" y2="42.28" stroke="#eeaab0" stroke-width="0.7" />
<line x1="588.40" y1="40.55" x2="587.10" y2="40.55" stroke="#eeaab0" stroke-width="0.7" />
<line x1="588.40" y1="39.00" x2="585.90" y2="39.00" stroke="#e88a90" stroke-width="1" />
<line x1="588.40" y1="28.83" x2="587.10" y2="28.83" stroke="#eeaab0" stroke-width="0.7" />
<line x1="588.40" y1="22.87" x2="587.10" y2="22.87" stroke="#eeaab0" stroke-width="0.7" />
<line x1="588.40" y1="18.65" x2="587.10" y2="18.65" stroke="#eeaab0" stroke-width="0.7" />
<text x="439.30" y="153.60" font-size="9" text-anchor="middle" fill="#1a1a1a" stroke="#1a1a1a" stroke-width="0.3" >0</text>
<text x="487.60" y="153.60" font-size="9" text-anchor="middle" fill="#1a1a1a" stroke="#1a1a1a" stroke-width="0.3" >100</text>
<text x="535.90" y="153.60" font-size="9" text-anchor="middle" fill="#1a1a1a" stroke="#1a1a1a" stroke-width="0.3" >200</text>
<text x="584.20" y="153.60" font-size="9" text-anchor="middle" fill="#1a1a1a" stroke="#1a1a1a" stroke-width="0.3" >300</text>
<text x="431.00" y="20.80" font-size="9" text-anchor="end" fill="#3a6fb8" stroke="#3a6fb8" stroke-width="0.3" >10<tspan font-size="5.3" dy="-3.4">−10</tspan></text>
<text x="431.00" y="47.10" font-size="9" text-anchor="end" fill="#3a6fb8" stroke="#3a6fb8" stroke-width="0.3" >10<tspan font-size="5.3" dy="-3.4">−9</tspan></text>
<text x="431.00" y="73.40" font-size="9" text-anchor="end" fill="#3a6fb8" stroke="#3a6fb8" stroke-width="0.3" >10<tspan font-size="5.3" dy="-3.4">−8</tspan></text>
<text x="431.00" y="99.70" font-size="9" text-anchor="end" fill="#3a6fb8" stroke="#3a6fb8" stroke-width="0.3" >10<tspan font-size="5.3" dy="-3.4">−7</tspan></text>
<text x="431.00" y="126.00" font-size="9" text-anchor="end" fill="#3a6fb8" stroke="#3a6fb8" stroke-width="0.3" >10<tspan font-size="5.3" dy="-3.4">−6</tspan></text>
<text x="593.50" y="42.30" font-size="9" text-anchor="start" fill="#e4424c" stroke="#e4424c" stroke-width="0.3" >10<tspan font-size="5.3" dy="-3.4">6</tspan></text>
<text x="593.50" y="76.10" font-size="9" text-anchor="start" fill="#e4424c" stroke="#e4424c" stroke-width="0.3" >10<tspan font-size="5.3" dy="-3.4">5</tspan></text>
<text x="593.50" y="109.90" font-size="9" text-anchor="start" fill="#e4424c" stroke="#e4424c" stroke-width="0.3" >10<tspan font-size="5.3" dy="-3.4">4</tspan></text>
<text x="593.50" y="143.70" font-size="9" text-anchor="start" fill="#e4424c" stroke="#e4424c" stroke-width="0.3" >10<tspan font-size="5.3" dy="-3.4">3</tspan></text>
<text x="512.30" y="162.40" font-size="8.8" text-anchor="middle" fill="#1a1a1a" stroke="#1a1a1a" stroke-width="0.3" >Cycle</text>
<text x="0" y="0" font-size="8.8" text-anchor="middle" fill="#3a6fb8" stroke="#3a6fb8" stroke-width="0.3" transform="translate(411.30,86.00) rotate(-90)">Current/A</text>
<text x="0" y="0" font-size="8.8" text-anchor="middle" fill="#e0303a" stroke="#e0303a" stroke-width="0.3" transform="translate(617.50,82.00) rotate(-90)">Resistance/Ω</text>
<circle cx="45.3" cy="275.9" r="2.8" fill="url(#gR)"/>
<circle cx="46.0" cy="282.6" r="2.8" fill="url(#gR)"/>
<circle cx="46.0" cy="273.8" r="2.8" fill="url(#gR)"/>
<circle cx="45.8" cy="269.4" r="2.8" fill="url(#gR)"/>
<circle cx="46.4" cy="270.7" r="2.8" fill="url(#gR)"/>
<circle cx="46.8" cy="269.3" r="2.8" fill="url(#gR)"/>
<circle cx="46.4" cy="266.8" r="2.8" fill="url(#gR)"/>
<circle cx="47.1" cy="267.1" r="2.8" fill="url(#gR)"/>
<circle cx="47.0" cy="272.0" r="2.8" fill="url(#gR)"/>
<circle cx="47.3" cy="271.2" r="2.8" fill="url(#gR)"/>
<circle cx="47.2" cy="272.6" r="2.8" fill="url(#gR)"/>
<circle cx="47.4" cy="273.0" r="2.8" fill="url(#gR)"/>
<circle cx="48.0" cy="267.3" r="2.8" fill="url(#gR)"/>
<circle cx="48.1" cy="277.5" r="2.8" fill="url(#gR)"/>
<circle cx="48.1" cy="281.1" r="2.8" fill="url(#gR)"/>
<circle cx="48.3" cy="272.2" r="2.8" fill="url(#gR)"/>
<circle cx="48.7" cy="272.7" r="2.8" fill="url(#gR)"/>
<circle cx="48.7" cy="265.9" r="2.8" fill="url(#gR)"/>
<circle cx="48.8" cy="275.1" r="2.8" fill="url(#gR)"/>
<circle cx="49.3" cy="266.4" r="2.8" fill="url(#gR)"/>
<circle cx="49.4" cy="266.3" r="2.8" fill="url(#gR)"/>
<circle cx="49.1" cy="268.8" r="2.8" fill="url(#gR)"/>
<circle cx="49.3" cy="269.4" r="2.8" fill="url(#gR)"/>
<circle cx="50.0" cy="269.0" r="2.8" fill="url(#gR)"/>
<circle cx="50.0" cy="278.7" r="2.8" fill="url(#gR)"/>
<circle cx="50.2" cy="277.5" r="2.8" fill="url(#gR)"/>
<circle cx="50.8" cy="275.0" r="2.8" fill="url(#gR)"/>
<circle cx="50.9" cy="272.0" r="2.8" fill="url(#gR)"/>
<circle cx="51.0" cy="278.2" r="2.8" fill="url(#gR)"/>
<circle cx="50.7" cy="267.3" r="2.8" fill="url(#gR)"/>
<circle cx="51.1" cy="267.8" r="2.8" fill="url(#gR)"/>
<circle cx="51.7" cy="282.4" r="2.8" fill="url(#gR)"/>
<circle cx="51.3" cy="280.7" r="2.8" fill="url(#gR)"/>
<circle cx="52.0" cy="278.6" r="2.8" fill="url(#gR)"/>
<circle cx="52.2" cy="280.3" r="2.8" fill="url(#gR)"/>
<circle cx="51.9" cy="270.0" r="2.8" fill="url(#gR)"/>
<circle cx="52.6" cy="280.0" r="2.8" fill="url(#gR)"/>
<circle cx="52.5" cy="281.6" r="2.8" fill="url(#gR)"/>
<circle cx="52.5" cy="281.5" r="2.8" fill="url(#gR)"/>
<circle cx="53.2" cy="282.5" r="2.8" fill="url(#gR)"/>
<circle cx="52.8" cy="273.2" r="2.8" fill="url(#gR)"/>
<circle cx="53.5" cy="276.4" r="2.8" fill="url(#gR)"/>
<circle cx="53.2" cy="273.4" r="2.8" fill="url(#gR)"/>
<circle cx="54.0" cy="272.4" r="2.8" fill="url(#gR)"/>
<circle cx="54.2" cy="269.6" r="2.8" fill="url(#gR)"/>
<circle cx="53.8" cy="272.0" r="2.8" fill="url(#gR)"/>
<circle cx="54.7" cy="270.0" r="2.8" fill="url(#gR)"/>
<circle cx="54.3" cy="281.7" r="2.8" fill="url(#gR)"/>
<circle cx="54.8" cy="269.9" r="2.8" fill="url(#gR)"/>
<circle cx="54.5" cy="281.5" r="2.8" fill="url(#gR)"/>
<circle cx="55.3" cy="277.8" r="2.8" fill="url(#gR)"/>
<circle cx="55.3" cy="275.3" r="2.8" fill="url(#gR)"/>
<circle cx="55.2" cy="280.4" r="2.8" fill="url(#gR)"/>
<circle cx="55.7" cy="272.7" r="2.8" fill="url(#gR)"/>
<circle cx="55.8" cy="276.7" r="2.8" fill="url(#gR)"/>
<circle cx="56.3" cy="273.6" r="2.8" fill="url(#gR)"/>
<circle cx="56.3" cy="273.0" r="2.8" fill="url(#gR)"/>
<circle cx="56.3" cy="281.7" r="2.8" fill="url(#gR)"/>
<circle cx="56.3" cy="269.7" r="2.8" fill="url(#gR)"/>
<circle cx="56.5" cy="269.9" r="2.8" fill="url(#gR)"/>
<circle cx="56.8" cy="270.7" r="2.8" fill="url(#gR)"/>
<circle cx="57.1" cy="274.2" r="2.8" fill="url(#gR)"/>
<circle cx="57.5" cy="278.5" r="2.8" fill="url(#gR)"/>
<circle cx="57.4" cy="278.8" r="2.8" fill="url(#gR)"/>
<circle cx="57.7" cy="278.4" r="2.8" fill="url(#gR)"/>
<circle cx="57.9" cy="270.9" r="2.8" fill="url(#gR)"/>
<circle cx="58.2" cy="273.6" r="2.8" fill="url(#gR)"/>
<circle cx="58.1" cy="279.5" r="2.8" fill="url(#gR)"/>
<circle cx="58.4" cy="275.3" r="2.8" fill="url(#gR)"/>
<circle cx="58.3" cy="273.4" r="2.8" fill="url(#gR)"/>
<circle cx="59.2" cy="270.0" r="2.8" fill="url(#gR)"/>
<circle cx="59.0" cy="279.6" r="2.8" fill="url(#gR)"/>
<circle cx="59.0" cy="278.6" r="2.8" fill="url(#gR)"/>
<circle cx="59.8" cy="279.2" r="2.8" fill="url(#gR)"/>
<circle cx="59.6" cy="280.1" r="2.8" fill="url(#gR)"/>
<circle cx="60.1" cy="283.0" r="2.8" fill="url(#gR)"/>
<circle cx="59.9" cy="270.3" r="2.8" fill="url(#gR)"/>
<circle cx="60.0" cy="275.7" r="2.8" fill="url(#gR)"/>
<circle cx="60.1" cy="278.0" r="2.8" fill="url(#gR)"/>
<circle cx="60.9" cy="279.8" r="2.8" fill="url(#gR)"/>
<circle cx="60.9" cy="270.4" r="2.8" fill="url(#gR)"/>
<circle cx="61.1" cy="273.2" r="2.8" fill="url(#gR)"/>
<circle cx="61.5" cy="279.0" r="2.8" fill="url(#gR)"/>
<circle cx="61.2" cy="280.5" r="2.8" fill="url(#gR)"/>
<circle cx="61.2" cy="279.6" r="2.8" fill="url(#gR)"/>
<circle cx="61.6" cy="279.3" r="2.8" fill="url(#gR)"/>
<circle cx="61.7" cy="273.3" r="2.8" fill="url(#gR)"/>
<circle cx="62.3" cy="272.7" r="2.8" fill="url(#gR)"/>
<circle cx="62.1" cy="271.2" r="2.8" fill="url(#gR)"/>
<circle cx="62.2" cy="272.5" r="2.8" fill="url(#gR)"/>
<circle cx="62.7" cy="279.6" r="2.8" fill="url(#gR)"/>
<circle cx="63.2" cy="278.8" r="2.8" fill="url(#gR)"/>
<circle cx="62.7" cy="276.0" r="2.8" fill="url(#gR)"/>
<circle cx="63.2" cy="272.6" r="2.8" fill="url(#gR)"/>
<circle cx="63.8" cy="279.5" r="2.8" fill="url(#gR)"/>
<circle cx="63.4" cy="276.8" r="2.8" fill="url(#gR)"/>
<circle cx="64.2" cy="277.9" r="2.8" fill="url(#gR)"/>
<circle cx="64.3" cy="274.6" r="2.8" fill="url(#gR)"/>
<circle cx="64.3" cy="282.0" r="2.8" fill="url(#gR)"/>
<circle cx="64.1" cy="276.6" r="2.8" fill="url(#gR)"/>
<circle cx="64.2" cy="271.9" r="2.8" fill="url(#gR)"/>
<circle cx="64.9" cy="278.3" r="2.8" fill="url(#gR)"/>
<circle cx="65.0" cy="283.1" r="2.8" fill="url(#gR)"/>
<circle cx="65.1" cy="283.1" r="2.8" fill="url(#gR)"/>
<circle cx="65.0" cy="272.3" r="2.8" fill="url(#gR)"/>
<circle cx="65.5" cy="274.3" r="2.8" fill="url(#gR)"/>
<circle cx="65.6" cy="283.0" r="2.8" fill="url(#gR)"/>
<circle cx="66.1" cy="273.7" r="2.8" fill="url(#gR)"/>
<circle cx="66.1" cy="275.6" r="2.8" fill="url(#gR)"/>
<circle cx="66.6" cy="272.6" r="2.8" fill="url(#gR)"/>
<circle cx="66.7" cy="282.2" r="2.8" fill="url(#gR)"/>
<circle cx="66.5" cy="282.4" r="2.8" fill="url(#gR)"/>
<circle cx="66.7" cy="271.1" r="2.8" fill="url(#gR)"/>
<circle cx="67.0" cy="281.9" r="2.8" fill="url(#gR)"/>
<circle cx="67.0" cy="273.1" r="2.8" fill="url(#gR)"/>
<circle cx="67.4" cy="272.6" r="2.8" fill="url(#gR)"/>
<circle cx="67.9" cy="282.3" r="2.8" fill="url(#gR)"/>
<circle cx="68.0" cy="280.1" r="2.8" fill="url(#gR)"/>
<circle cx="68.2" cy="272.9" r="2.8" fill="url(#gR)"/>
<circle cx="68.2" cy="273.3" r="2.8" fill="url(#gR)"/>
<circle cx="68.7" cy="270.8" r="2.8" fill="url(#gR)"/>
<circle cx="68.6" cy="272.0" r="2.8" fill="url(#gR)"/>
<circle cx="68.9" cy="278.9" r="2.8" fill="url(#gR)"/>
<circle cx="68.9" cy="279.1" r="2.8" fill="url(#gR)"/>
<circle cx="69.5" cy="280.5" r="2.8" fill="url(#gR)"/>
<circle cx="69.7" cy="278.2" r="2.8" fill="url(#gR)"/>
<circle cx="69.2" cy="281.2" r="2.8" fill="url(#gR)"/>
<circle cx="69.4" cy="278.9" r="2.8" fill="url(#gR)"/>
<circle cx="69.8" cy="278.8" r="2.8" fill="url(#gR)"/>
<circle cx="69.7" cy="281.3" r="2.8" fill="url(#gR)"/>
<circle cx="69.9" cy="282.5" r="2.8" fill="url(#gR)"/>
<circle cx="70.1" cy="270.8" r="2.8" fill="url(#gR)"/>
<circle cx="71.1" cy="271.7" r="2.8" fill="url(#gR)"/>
<circle cx="71.2" cy="281.0" r="2.8" fill="url(#gR)"/>
<circle cx="71.2" cy="272.4" r="2.8" fill="url(#gR)"/>
<circle cx="71.4" cy="280.5" r="2.8" fill="url(#gR)"/>
<circle cx="71.8" cy="273.5" r="2.8" fill="url(#gR)"/>
<circle cx="71.8" cy="279.6" r="2.8" fill="url(#gR)"/>
<circle cx="71.7" cy="273.6" r="2.8" fill="url(#gR)"/>
<circle cx="72.0" cy="280.0" r="2.8" fill="url(#gR)"/>
<circle cx="72.5" cy="276.4" r="2.8" fill="url(#gR)"/>
<circle cx="72.7" cy="275.5" r="2.8" fill="url(#gR)"/>
<circle cx="72.6" cy="270.5" r="2.8" fill="url(#gR)"/>
<circle cx="72.4" cy="279.4" r="2.8" fill="url(#gR)"/>
<circle cx="72.8" cy="279.2" r="2.8" fill="url(#gR)"/>
<circle cx="73.3" cy="278.3" r="2.8" fill="url(#gR)"/>
<circle cx="73.7" cy="271.8" r="2.8" fill="url(#gR)"/>
<circle cx="73.2" cy="273.2" r="2.8" fill="url(#gR)"/>
<circle cx="73.4" cy="275.9" r="2.8" fill="url(#gR)"/>
<circle cx="74.1" cy="271.4" r="2.8" fill="url(#gR)"/>
<circle cx="74.1" cy="271.4" r="2.8" fill="url(#gR)"/>
<circle cx="74.3" cy="281.7" r="2.8" fill="url(#gR)"/>
<circle cx="74.8" cy="280.8" r="2.8" fill="url(#gR)"/>
<circle cx="74.3" cy="272.4" r="2.8" fill="url(#gR)"/>
<circle cx="75.2" cy="280.4" r="2.8" fill="url(#gR)"/>
<circle cx="75.2" cy="281.3" r="2.8" fill="url(#gR)"/>
<circle cx="75.6" cy="276.9" r="2.8" fill="url(#gR)"/>
<circle cx="75.7" cy="279.9" r="2.8" fill="url(#gR)"/>
<circle cx="75.3" cy="282.1" r="2.8" fill="url(#gR)"/>
<circle cx="75.9" cy="279.9" r="2.8" fill="url(#gR)"/>
<circle cx="75.8" cy="270.6" r="2.8" fill="url(#gR)"/>
<circle cx="76.2" cy="279.6" r="2.8" fill="url(#gR)"/>
<circle cx="76.2" cy="277.7" r="2.8" fill="url(#gR)"/>
<circle cx="76.9" cy="277.7" r="2.8" fill="url(#gR)"/>
<circle cx="76.8" cy="282.9" r="2.8" fill="url(#gR)"/>
<circle cx="76.6" cy="279.8" r="2.8" fill="url(#gR)"/>
<circle cx="77.2" cy="272.4" r="2.8" fill="url(#gR)"/>
<circle cx="77.0" cy="281.0" r="2.8" fill="url(#gR)"/>
<circle cx="77.5" cy="272.6" r="2.8" fill="url(#gR)"/>
<circle cx="77.4" cy="274.6" r="2.8" fill="url(#gR)"/>
<circle cx="77.9" cy="272.8" r="2.8" fill="url(#gR)"/>
<circle cx="77.8" cy="280.6" r="2.8" fill="url(#gR)"/>
<circle cx="78.0" cy="280.8" r="2.8" fill="url(#gR)"/>
<circle cx="78.6" cy="273.8" r="2.8" fill="url(#gR)"/>
<circle cx="78.5" cy="270.7" r="2.8" fill="url(#gR)"/>
<circle cx="78.7" cy="272.5" r="2.8" fill="url(#gR)"/>
<circle cx="78.8" cy="281.8" r="2.8" fill="url(#gR)"/>
<circle cx="79.6" cy="279.6" r="2.8" fill="url(#gR)"/>
<circle cx="79.7" cy="273.5" r="2.8" fill="url(#gR)"/>
<circle cx="79.9" cy="274.4" r="2.8" fill="url(#gR)"/>
<circle cx="79.7" cy="277.8" r="2.8" fill="url(#gR)"/>
<circle cx="80.2" cy="281.7" r="2.8" fill="url(#gR)"/>
<circle cx="80.3" cy="274.3" r="2.8" fill="url(#gR)"/>
<circle cx="80.2" cy="273.9" r="2.8" fill="url(#gR)"/>
<circle cx="81.0" cy="282.4" r="2.8" fill="url(#gR)"/>
<circle cx="81.1" cy="272.1" r="2.8" fill="url(#gR)"/>
<circle cx="80.6" cy="279.4" r="2.8" fill="url(#gR)"/>
<circle cx="81.1" cy="271.3" r="2.8" fill="url(#gR)"/>
<circle cx="81.7" cy="281.7" r="2.8" fill="url(#gR)"/>
<circle cx="81.5" cy="273.1" r="2.8" fill="url(#gR)"/>
<circle cx="81.5" cy="282.2" r="2.8" fill="url(#gR)"/>
<circle cx="81.9" cy="271.0" r="2.8" fill="url(#gR)"/>
<circle cx="82.4" cy="278.8" r="2.8" fill="url(#gR)"/>
<circle cx="81.9" cy="281.5" r="2.8" fill="url(#gR)"/>
<circle cx="82.2" cy="271.9" r="2.8" fill="url(#gR)"/>
<circle cx="82.6" cy="277.6" r="2.8" fill="url(#gR)"/>
<circle cx="83.0" cy="282.1" r="2.8" fill="url(#gR)"/>
<circle cx="83.2" cy="277.9" r="2.8" fill="url(#gR)"/>
<circle cx="83.6" cy="272.3" r="2.8" fill="url(#gR)"/>
<circle cx="83.7" cy="281.3" r="2.8" fill="url(#gR)"/>
<circle cx="83.4" cy="280.3" r="2.8" fill="url(#gR)"/>
<circle cx="83.7" cy="270.7" r="2.8" fill="url(#gR)"/>
<circle cx="83.8" cy="279.5" r="2.8" fill="url(#gR)"/>
<circle cx="84.5" cy="281.5" r="2.8" fill="url(#gR)"/>
<circle cx="84.4" cy="279.3" r="2.8" fill="url(#gR)"/>
<circle cx="84.8" cy="272.5" r="2.8" fill="url(#gR)"/>
<circle cx="84.8" cy="272.9" r="2.8" fill="url(#gR)"/>
<circle cx="85.1" cy="280.2" r="2.8" fill="url(#gR)"/>
<circle cx="85.5" cy="274.0" r="2.8" fill="url(#gR)"/>
<circle cx="85.3" cy="275.1" r="2.8" fill="url(#gR)"/>
<circle cx="85.7" cy="276.6" r="2.8" fill="url(#gR)"/>
<circle cx="85.8" cy="272.0" r="2.8" fill="url(#gR)"/>
<circle cx="86.2" cy="277.3" r="2.8" fill="url(#gR)"/>
<circle cx="86.2" cy="276.0" r="2.8" fill="url(#gR)"/>
<circle cx="86.0" cy="282.8" r="2.8" fill="url(#gR)"/>
<circle cx="86.5" cy="280.9" r="2.8" fill="url(#gR)"/>
<circle cx="86.5" cy="275.6" r="2.8" fill="url(#gR)"/>
<circle cx="87.2" cy="274.8" r="2.8" fill="url(#gR)"/>
<circle cx="87.4" cy="274.8" r="2.8" fill="url(#gR)"/>
<circle cx="87.1" cy="278.1" r="2.8" fill="url(#gR)"/>
<circle cx="87.5" cy="281.0" r="2.8" fill="url(#gR)"/>
<circle cx="87.4" cy="282.0" r="2.8" fill="url(#gR)"/>
<circle cx="87.5" cy="280.1" r="2.8" fill="url(#gR)"/>
<circle cx="88.0" cy="275.1" r="2.8" fill="url(#gR)"/>
<circle cx="88.0" cy="276.5" r="2.8" fill="url(#gR)"/>
<circle cx="88.6" cy="279.1" r="2.8" fill="url(#gR)"/>
<circle cx="88.6" cy="277.7" r="2.8" fill="url(#gR)"/>
<circle cx="88.6" cy="281.2" r="2.8" fill="url(#gR)"/>
<circle cx="88.6" cy="283.2" r="2.8" fill="url(#gR)"/>
<circle cx="89.4" cy="277.5" r="2.8" fill="url(#gR)"/>
<circle cx="89.2" cy="276.4" r="2.8" fill="url(#gR)"/>
<circle cx="89.9" cy="276.0" r="2.8" fill="url(#gR)"/>
<circle cx="89.4" cy="282.1" r="2.8" fill="url(#gR)"/>
<circle cx="89.7" cy="279.3" r="2.8" fill="url(#gR)"/>
<circle cx="89.9" cy="274.9" r="2.8" fill="url(#gR)"/>
<circle cx="90.3" cy="280.7" r="2.8" fill="url(#gR)"/>
<circle cx="90.6" cy="277.1" r="2.8" fill="url(#gR)"/>
<circle cx="90.6" cy="275.3" r="2.8" fill="url(#gR)"/>
<circle cx="91.1" cy="275.4" r="2.8" fill="url(#gR)"/>
<circle cx="91.2" cy="277.8" r="2.8" fill="url(#gR)"/>
<circle cx="91.2" cy="277.3" r="2.8" fill="url(#gR)"/>
<circle cx="91.3" cy="279.4" r="2.8" fill="url(#gR)"/>
<circle cx="91.9" cy="279.1" r="2.8" fill="url(#gR)"/>
<circle cx="91.6" cy="274.8" r="2.8" fill="url(#gR)"/>
<circle cx="92.0" cy="274.3" r="2.8" fill="url(#gR)"/>
<circle cx="92.2" cy="275.0" r="2.8" fill="url(#gR)"/>
<circle cx="92.4" cy="275.5" r="2.8" fill="url(#gR)"/>
<circle cx="92.8" cy="276.5" r="2.8" fill="url(#gR)"/>
<circle cx="93.2" cy="281.5" r="2.8" fill="url(#gR)"/>
<circle cx="93.3" cy="278.1" r="2.8" fill="url(#gR)"/>
<circle cx="93.0" cy="281.9" r="2.8" fill="url(#gR)"/>
<circle cx="93.7" cy="283.0" r="2.8" fill="url(#gR)"/>
<circle cx="93.8" cy="275.1" r="2.8" fill="url(#gR)"/>
<circle cx="93.8" cy="280.2" r="2.8" fill="url(#gR)"/>
<circle cx="93.8" cy="280.4" r="2.8" fill="url(#gR)"/>
<circle cx="94.3" cy="281.6" r="2.8" fill="url(#gR)"/>
<circle cx="94.7" cy="275.1" r="2.8" fill="url(#gR)"/>
<circle cx="94.2" cy="280.5" r="2.8" fill="url(#gR)"/>
<circle cx="94.4" cy="273.5" r="2.8" fill="url(#gR)"/>
<circle cx="95.1" cy="279.8" r="2.8" fill="url(#gR)"/>
<circle cx="95.4" cy="282.5" r="2.8" fill="url(#gR)"/>
<circle cx="95.0" cy="275.1" r="2.8" fill="url(#gR)"/>
<circle cx="95.4" cy="273.8" r="2.8" fill="url(#gR)"/>
<circle cx="95.6" cy="277.2" r="2.8" fill="url(#gR)"/>
<circle cx="95.9" cy="281.3" r="2.8" fill="url(#gR)"/>
<circle cx="96.3" cy="281.1" r="2.8" fill="url(#gR)"/>
<circle cx="96.2" cy="280.7" r="2.8" fill="url(#gR)"/>
<circle cx="96.4" cy="276.9" r="2.8" fill="url(#gR)"/>
<circle cx="96.7" cy="277.4" r="2.8" fill="url(#gR)"/>
<circle cx="96.9" cy="281.6" r="2.8" fill="url(#gR)"/>
<circle cx="97.0" cy="275.1" r="2.8" fill="url(#gR)"/>
<circle cx="96.9" cy="277.3" r="2.8" fill="url(#gR)"/>
<circle cx="97.3" cy="273.5" r="2.8" fill="url(#gR)"/>
<circle cx="97.7" cy="282.6" r="2.8" fill="url(#gR)"/>
<circle cx="98.1" cy="273.0" r="2.8" fill="url(#gR)"/>
<circle cx="98.0" cy="280.2" r="2.8" fill="url(#gR)"/>
<circle cx="98.0" cy="272.5" r="2.8" fill="url(#gR)"/>
<circle cx="98.3" cy="276.0" r="2.8" fill="url(#gR)"/>
<circle cx="98.6" cy="273.7" r="2.8" fill="url(#gR)"/>
<circle cx="98.8" cy="279.0" r="2.8" fill="url(#gR)"/>
<circle cx="98.9" cy="277.7" r="2.8" fill="url(#gR)"/>
<circle cx="99.3" cy="273.6" r="2.8" fill="url(#gR)"/>
<circle cx="99.6" cy="281.8" r="2.8" fill="url(#gR)"/>
<circle cx="99.3" cy="280.7" r="2.8" fill="url(#gR)"/>
<circle cx="99.3" cy="275.6" r="2.8" fill="url(#gR)"/>
<circle cx="100.1" cy="280.9" r="2.8" fill="url(#gR)"/>
<circle cx="100.1" cy="282.5" r="2.8" fill="url(#gR)"/>
<circle cx="100.5" cy="281.0" r="2.8" fill="url(#gR)"/>
<circle cx="100.1" cy="273.7" r="2.8" fill="url(#gR)"/>
<circle cx="101.0" cy="281.9" r="2.8" fill="url(#gR)"/>
<circle cx="100.9" cy="280.1" r="2.8" fill="url(#gR)"/>
<circle cx="101.3" cy="276.7" r="2.8" fill="url(#gR)"/>
<circle cx="100.8" cy="275.5" r="2.8" fill="url(#gR)"/>
<circle cx="101.0" cy="281.1" r="2.8" fill="url(#gR)"/>
<circle cx="101.7" cy="280.1" r="2.8" fill="url(#gR)"/>
<circle cx="101.7" cy="273.6" r="2.8" fill="url(#gR)"/>
<circle cx="102.2" cy="275.3" r="2.8" fill="url(#gR)"/>
<circle cx="102.0" cy="280.8" r="2.8" fill="url(#gR)"/>
<circle cx="102.2" cy="274.1" r="2.8" fill="url(#gR)"/>
<circle cx="102.6" cy="277.1" r="2.8" fill="url(#gR)"/>
<circle cx="102.6" cy="282.6" r="2.8" fill="url(#gR)"/>
<circle cx="103.0" cy="274.0" r="2.8" fill="url(#gR)"/>
<circle cx="103.3" cy="277.0" r="2.8" fill="url(#gR)"/>
<circle cx="103.3" cy="279.6" r="2.8" fill="url(#gR)"/>
<circle cx="103.2" cy="281.2" r="2.8" fill="url(#gR)"/>
<circle cx="103.4" cy="280.9" r="2.8" fill="url(#gR)"/>
<circle cx="103.9" cy="277.6" r="2.8" fill="url(#gR)"/>
<circle cx="103.7" cy="278.3" r="2.8" fill="url(#gR)"/>
<circle cx="104.1" cy="277.4" r="2.8" fill="url(#gR)"/>
<circle cx="104.4" cy="275.4" r="2.8" fill="url(#gR)"/>
<circle cx="104.4" cy="276.9" r="2.8" fill="url(#gR)"/>
<circle cx="105.2" cy="279.8" r="2.8" fill="url(#gR)"/>
<circle cx="104.7" cy="282.6" r="2.8" fill="url(#gR)"/>
<circle cx="105.1" cy="274.8" r="2.8" fill="url(#gR)"/>
<circle cx="105.5" cy="278.7" r="2.8" fill="url(#gR)"/>
<circle cx="105.6" cy="278.6" r="2.8" fill="url(#gR)"/>
<circle cx="106.1" cy="283.2" r="2.8" fill="url(#gR)"/>
<circle cx="105.8" cy="281.0" r="2.8" fill="url(#gR)"/>
<circle cx="105.8" cy="280.5" r="2.8" fill="url(#gR)"/>
<circle cx="106.5" cy="282.6" r="2.8" fill="url(#gR)"/>
<circle cx="106.5" cy="282.3" r="2.8" fill="url(#gR)"/>
<circle cx="106.5" cy="279.8" r="2.8" fill="url(#gR)"/>
<circle cx="106.6" cy="282.3" r="2.8" fill="url(#gR)"/>
<circle cx="106.9" cy="271.2" r="2.8" fill="url(#gR)"/>
<circle cx="107.3" cy="279.1" r="2.8" fill="url(#gR)"/>
<circle cx="107.6" cy="280.8" r="2.8" fill="url(#gR)"/>
<circle cx="108.0" cy="280.5" r="2.8" fill="url(#gR)"/>
<circle cx="107.5" cy="271.5" r="2.8" fill="url(#gR)"/>
<circle cx="107.8" cy="274.2" r="2.8" fill="url(#gR)"/>
<circle cx="108.4" cy="277.5" r="2.8" fill="url(#gR)"/>
<circle cx="108.4" cy="272.6" r="2.8" fill="url(#gR)"/>
<circle cx="108.2" cy="273.4" r="2.8" fill="url(#gR)"/>
<circle cx="108.6" cy="273.5" r="2.8" fill="url(#gR)"/>
<circle cx="109.4" cy="279.1" r="2.8" fill="url(#gR)"/>
<circle cx="109.2" cy="270.7" r="2.8" fill="url(#gR)"/>
<circle cx="109.5" cy="276.0" r="2.8" fill="url(#gR)"/>
<circle cx="109.9" cy="271.6" r="2.8" fill="url(#gR)"/>
<circle cx="109.8" cy="273.2" r="2.8" fill="url(#gR)"/>
<circle cx="110.0" cy="275.0" r="2.8" fill="url(#gR)"/>
<circle cx="110.2" cy="281.5" r="2.8" fill="url(#gR)"/>
<circle cx="110.7" cy="274.1" r="2.8" fill="url(#gR)"/>
<circle cx="110.9" cy="271.8" r="2.8" fill="url(#gR)"/>
<circle cx="110.5" cy="278.7" r="2.8" fill="url(#gR)"/>
<circle cx="111.2" cy="283.0" r="2.8" fill="url(#gR)"/>
<circle cx="111.3" cy="276.5" r="2.8" fill="url(#gR)"/>
<circle cx="111.1" cy="270.8" r="2.8" fill="url(#gR)"/>
<circle cx="111.8" cy="276.1" r="2.8" fill="url(#gR)"/>
<circle cx="112.1" cy="274.6" r="2.8" fill="url(#gR)"/>
<circle cx="112.0" cy="277.5" r="2.8" fill="url(#gR)"/>
<circle cx="111.8" cy="280.2" r="2.8" fill="url(#gR)"/>
<circle cx="112.3" cy="282.1" r="2.8" fill="url(#gR)"/>
<circle cx="112.2" cy="271.4" r="2.8" fill="url(#gR)"/>
<circle cx="112.7" cy="280.5" r="2.8" fill="url(#gR)"/>
<circle cx="113.1" cy="282.2" r="2.8" fill="url(#gR)"/>
<circle cx="112.9" cy="277.2" r="2.8" fill="url(#gR)"/>
<circle cx="113.6" cy="280.0" r="2.8" fill="url(#gR)"/>
<circle cx="113.4" cy="273.9" r="2.8" fill="url(#gR)"/>
<circle cx="113.2" cy="271.4" r="2.8" fill="url(#gR)"/>
<circle cx="113.7" cy="270.6" r="2.8" fill="url(#gR)"/>
<circle cx="114.3" cy="278.1" r="2.8" fill="url(#gR)"/>
<circle cx="114.5" cy="279.9" r="2.8" fill="url(#gR)"/>
<circle cx="114.6" cy="273.2" r="2.8" fill="url(#gR)"/>
<circle cx="114.4" cy="274.1" r="2.8" fill="url(#gR)"/>
<circle cx="115.1" cy="277.1" r="2.8" fill="url(#gR)"/>
<circle cx="114.6" cy="276.0" r="2.8" fill="url(#gR)"/>
<circle cx="115.2" cy="274.7" r="2.8" fill="url(#gR)"/>
<circle cx="115.0" cy="279.0" r="2.8" fill="url(#gR)"/>
<circle cx="115.2" cy="273.6" r="2.8" fill="url(#gR)"/>
<circle cx="115.6" cy="276.7" r="2.8" fill="url(#gR)"/>
<circle cx="115.9" cy="274.1" r="2.8" fill="url(#gR)"/>
<circle cx="116.2" cy="279.9" r="2.8" fill="url(#gR)"/>
<circle cx="116.2" cy="279.6" r="2.8" fill="url(#gR)"/>
<circle cx="116.1" cy="282.2" r="2.8" fill="url(#gR)"/>
<circle cx="116.3" cy="270.8" r="2.8" fill="url(#gR)"/>
<circle cx="116.7" cy="276.2" r="2.8" fill="url(#gR)"/>
<circle cx="116.6" cy="272.5" r="2.8" fill="url(#gR)"/>
<circle cx="116.9" cy="280.3" r="2.8" fill="url(#gR)"/>
<circle cx="117.8" cy="278.3" r="2.8" fill="url(#gR)"/>
<circle cx="117.7" cy="273.2" r="2.8" fill="url(#gR)"/>
<circle cx="117.7" cy="281.6" r="2.8" fill="url(#gR)"/>
<circle cx="117.6" cy="282.1" r="2.8" fill="url(#gR)"/>
<circle cx="118.4" cy="277.5" r="2.8" fill="url(#gR)"/>
<circle cx="118.6" cy="276.4" r="2.8" fill="url(#gR)"/>
<circle cx="118.8" cy="282.9" r="2.8" fill="url(#gR)"/>
<circle cx="118.9" cy="276.2" r="2.8" fill="url(#gR)"/>
<circle cx="119.0" cy="281.5" r="2.8" fill="url(#gR)"/>
<circle cx="118.9" cy="270.4" r="2.8" fill="url(#gR)"/>
<circle cx="119.0" cy="278.0" r="2.8" fill="url(#gR)"/>
<circle cx="119.9" cy="271.9" r="2.8" fill="url(#gR)"/>
<circle cx="120.1" cy="276.5" r="2.8" fill="url(#gR)"/>
<circle cx="120.1" cy="281.0" r="2.8" fill="url(#gR)"/>
<circle cx="119.9" cy="275.4" r="2.8" fill="url(#gR)"/>
<circle cx="120.0" cy="270.6" r="2.8" fill="url(#gR)"/>
<circle cx="120.5" cy="276.4" r="2.8" fill="url(#gR)"/>
<circle cx="120.6" cy="271.6" r="2.8" fill="url(#gR)"/>
<circle cx="121.1" cy="274.5" r="2.8" fill="url(#gR)"/>
<circle cx="121.3" cy="273.5" r="2.8" fill="url(#gR)"/>
<circle cx="121.6" cy="278.3" r="2.8" fill="url(#gR)"/>
<circle cx="121.2" cy="273.1" r="2.8" fill="url(#gR)"/>
<circle cx="121.4" cy="276.0" r="2.8" fill="url(#gR)"/>
<circle cx="122.1" cy="277.6" r="2.8" fill="url(#gR)"/>
<circle cx="121.7" cy="276.5" r="2.8" fill="url(#gR)"/>
<circle cx="122.3" cy="269.7" r="2.8" fill="url(#gR)"/>
<circle cx="122.0" cy="275.2" r="2.8" fill="url(#gR)"/>
<circle cx="122.8" cy="274.1" r="2.8" fill="url(#gR)"/>
<circle cx="122.6" cy="277.8" r="2.8" fill="url(#gR)"/>
<circle cx="123.3" cy="282.6" r="2.8" fill="url(#gR)"/>
<circle cx="122.9" cy="268.9" r="2.8" fill="url(#gR)"/>
<circle cx="123.2" cy="277.4" r="2.8" fill="url(#gR)"/>
<circle cx="123.7" cy="271.5" r="2.8" fill="url(#gR)"/>
<circle cx="123.7" cy="281.8" r="2.8" fill="url(#gR)"/>
<circle cx="123.9" cy="282.7" r="2.8" fill="url(#gR)"/>
<circle cx="124.1" cy="277.6" r="2.8" fill="url(#gR)"/>
<circle cx="124.6" cy="280.1" r="2.8" fill="url(#gR)"/>
<circle cx="124.4" cy="275.6" r="2.8" fill="url(#gR)"/>
<circle cx="124.9" cy="280.0" r="2.8" fill="url(#gR)"/>
<circle cx="124.6" cy="277.9" r="2.8" fill="url(#gR)"/>
<circle cx="124.9" cy="269.7" r="2.8" fill="url(#gR)"/>
<circle cx="125.1" cy="268.3" r="2.8" fill="url(#gR)"/>
<circle cx="125.1" cy="273.2" r="2.8" fill="url(#gR)"/>
<circle cx="125.7" cy="269.7" r="2.8" fill="url(#gR)"/>
<circle cx="125.6" cy="281.5" r="2.8" fill="url(#gR)"/>
<circle cx="125.9" cy="278.8" r="2.8" fill="url(#gR)"/>
<circle cx="126.5" cy="267.4" r="2.8" fill="url(#gR)"/>
<circle cx="126.3" cy="268.9" r="2.8" fill="url(#gR)"/>
<circle cx="126.4" cy="267.4" r="2.8" fill="url(#gR)"/>
<circle cx="126.6" cy="272.7" r="2.8" fill="url(#gR)"/>
<circle cx="127.3" cy="275.4" r="2.8" fill="url(#gR)"/>
<circle cx="127.1" cy="276.9" r="2.8" fill="url(#gR)"/>
<circle cx="127.3" cy="280.5" r="2.8" fill="url(#gR)"/>
<circle cx="127.5" cy="278.4" r="2.8" fill="url(#gR)"/>
<circle cx="127.4" cy="279.2" r="2.8" fill="url(#gR)"/>
<circle cx="128.0" cy="270.3" r="2.8" fill="url(#gR)"/>
<circle cx="128.0" cy="279.2" r="2.8" fill="url(#gR)"/>
<circle cx="128.4" cy="268.5" r="2.8" fill="url(#gR)"/>
<circle cx="128.4" cy="269.6" r="2.8" fill="url(#gR)"/>
<circle cx="128.9" cy="280.3" r="2.8" fill="url(#gR)"/>
<circle cx="128.5" cy="280.6" r="2.8" fill="url(#gR)"/>
<circle cx="128.7" cy="279.3" r="2.8" fill="url(#gR)"/>
<circle cx="129.4" cy="283.0" r="2.8" fill="url(#gR)"/>
<circle cx="129.7" cy="279.9" r="2.8" fill="url(#gR)"/>
<circle cx="129.8" cy="280.6" r="2.8" fill="url(#gR)"/>
<circle cx="129.4" cy="282.2" r="2.8" fill="url(#gR)"/>
<circle cx="130.1" cy="270.3" r="2.8" fill="url(#gR)"/>
<circle cx="130.4" cy="271.0" r="2.8" fill="url(#gR)"/>
<circle cx="130.6" cy="275.2" r="2.8" fill="url(#gR)"/>
<circle cx="130.6" cy="271.1" r="2.8" fill="url(#gR)"/>
<circle cx="130.9" cy="279.4" r="2.8" fill="url(#gR)"/>
<circle cx="130.7" cy="272.4" r="2.8" fill="url(#gR)"/>
<circle cx="131.4" cy="281.2" r="2.8" fill="url(#gR)"/>
<circle cx="130.9" cy="276.8" r="2.8" fill="url(#gR)"/>
<circle cx="131.7" cy="279.6" r="2.8" fill="url(#gR)"/>
<circle cx="132.1" cy="278.8" r="2.8" fill="url(#gR)"/>
<circle cx="132.1" cy="278.6" r="2.8" fill="url(#gR)"/>
<circle cx="131.9" cy="273.9" r="2.8" fill="url(#gR)"/>
<circle cx="132.7" cy="283.0" r="2.8" fill="url(#gR)"/>
<circle cx="132.6" cy="272.0" r="2.8" fill="url(#gR)"/>
<circle cx="132.7" cy="279.3" r="2.8" fill="url(#gR)"/>
<circle cx="132.7" cy="275.5" r="2.8" fill="url(#gR)"/>
<circle cx="132.7" cy="282.2" r="2.8" fill="url(#gR)"/>
<circle cx="133.4" cy="271.6" r="2.8" fill="url(#gR)"/>
<circle cx="133.3" cy="270.6" r="2.8" fill="url(#gR)"/>
<circle cx="133.7" cy="277.6" r="2.8" fill="url(#gR)"/>
<circle cx="133.9" cy="273.7" r="2.8" fill="url(#gR)"/>
<circle cx="134.2" cy="278.8" r="2.8" fill="url(#gR)"/>
<circle cx="134.5" cy="276.4" r="2.8" fill="url(#gR)"/>
<circle cx="134.7" cy="276.1" r="2.8" fill="url(#gR)"/>
<circle cx="134.7" cy="275.3" r="2.8" fill="url(#gR)"/>
<circle cx="134.9" cy="273.9" r="2.8" fill="url(#gR)"/>
<circle cx="134.6" cy="279.9" r="2.8" fill="url(#gR)"/>
<circle cx="134.8" cy="280.2" r="2.8" fill="url(#gR)"/>
<circle cx="135.0" cy="280.4" r="2.8" fill="url(#gR)"/>
<circle cx="135.4" cy="273.1" r="2.8" fill="url(#gR)"/>
<circle cx="135.8" cy="273.4" r="2.8" fill="url(#gR)"/>
<circle cx="136.2" cy="274.5" r="2.8" fill="url(#gR)"/>
<circle cx="136.3" cy="274.9" r="2.8" fill="url(#gR)"/>
<circle cx="136.3" cy="274.0" r="2.8" fill="url(#gR)"/>
<circle cx="136.3" cy="277.6" r="2.8" fill="url(#gR)"/>
<circle cx="136.8" cy="280.3" r="2.8" fill="url(#gR)"/>
<circle cx="137.0" cy="277.1" r="2.8" fill="url(#gR)"/>
<circle cx="136.9" cy="272.7" r="2.8" fill="url(#gR)"/>
<circle cx="137.4" cy="281.5" r="2.8" fill="url(#gR)"/>
<circle cx="137.8" cy="275.8" r="2.8" fill="url(#gR)"/>
<circle cx="137.8" cy="282.4" r="2.8" fill="url(#gR)"/>
<circle cx="137.7" cy="271.0" r="2.8" fill="url(#gR)"/>
<circle cx="138.0" cy="274.8" r="2.8" fill="url(#gR)"/>
<circle cx="138.2" cy="273.5" r="2.8" fill="url(#gR)"/>
<circle cx="138.1" cy="281.6" r="2.8" fill="url(#gR)"/>
<circle cx="138.6" cy="270.6" r="2.8" fill="url(#gR)"/>
<circle cx="138.6" cy="269.7" r="2.8" fill="url(#gR)"/>
<circle cx="139.2" cy="272.9" r="2.8" fill="url(#gR)"/>
<circle cx="139.2" cy="272.1" r="2.8" fill="url(#gR)"/>
<circle cx="139.5" cy="281.4" r="2.8" fill="url(#gR)"/>
<circle cx="139.3" cy="274.9" r="2.8" fill="url(#gR)"/>
<circle cx="139.9" cy="282.5" r="2.8" fill="url(#gR)"/>
<circle cx="139.7" cy="279.0" r="2.8" fill="url(#gR)"/>
<circle cx="140.4" cy="273.0" r="2.8" fill="url(#gR)"/>
<circle cx="140.5" cy="280.9" r="2.8" fill="url(#gR)"/>
<circle cx="140.6" cy="273.9" r="2.8" fill="url(#gR)"/>
<circle cx="141.0" cy="280.7" r="2.8" fill="url(#gR)"/>
<circle cx="140.5" cy="279.4" r="2.8" fill="url(#gR)"/>
<circle cx="140.9" cy="270.7" r="2.8" fill="url(#gR)"/>
<circle cx="141.1" cy="280.5" r="2.8" fill="url(#gR)"/>
<circle cx="141.4" cy="270.7" r="2.8" fill="url(#gR)"/>
<circle cx="141.5" cy="272.2" r="2.8" fill="url(#gR)"/>
<circle cx="141.8" cy="279.4" r="2.8" fill="url(#gR)"/>
<circle cx="142.0" cy="277.2" r="2.8" fill="url(#gR)"/>
<circle cx="142.5" cy="282.7" r="2.8" fill="url(#gR)"/>
<circle cx="142.1" cy="276.9" r="2.8" fill="url(#gR)"/>
<circle cx="142.3" cy="279.3" r="2.8" fill="url(#gR)"/>
<circle cx="142.4" cy="270.4" r="2.8" fill="url(#gR)"/>
<circle cx="143.2" cy="276.0" r="2.8" fill="url(#gR)"/>
<circle cx="143.4" cy="276.8" r="2.8" fill="url(#gR)"/>
<circle cx="143.5" cy="277.2" r="2.8" fill="url(#gR)"/>
<circle cx="143.7" cy="277.1" r="2.8" fill="url(#gR)"/>
<circle cx="143.5" cy="275.0" r="2.8" fill="url(#gR)"/>
<circle cx="144.1" cy="280.6" r="2.8" fill="url(#gR)"/>
<circle cx="144.2" cy="280.6" r="2.8" fill="url(#gR)"/>
<circle cx="144.3" cy="280.6" r="2.8" fill="url(#gR)"/>
<circle cx="144.6" cy="279.0" r="2.8" fill="url(#gR)"/>
<circle cx="144.3" cy="275.7" r="2.8" fill="url(#gR)"/>
<circle cx="145.2" cy="281.6" r="2.8" fill="url(#gR)"/>
<circle cx="145.0" cy="274.8" r="2.8" fill="url(#gR)"/>
<circle cx="145.6" cy="272.2" r="2.8" fill="url(#gR)"/>
<circle cx="145.4" cy="271.8" r="2.8" fill="url(#gR)"/>
<circle cx="145.9" cy="271.1" r="2.8" fill="url(#gR)"/>
<circle cx="146.0" cy="279.4" r="2.8" fill="url(#gR)"/>
<circle cx="146.1" cy="278.0" r="2.8" fill="url(#gR)"/>
<circle cx="145.9" cy="282.0" r="2.8" fill="url(#gR)"/>
<circle cx="146.1" cy="274.1" r="2.8" fill="url(#gR)"/>
<circle cx="146.2" cy="276.7" r="2.8" fill="url(#gR)"/>
<circle cx="146.8" cy="278.7" r="2.8" fill="url(#gR)"/>
<circle cx="147.2" cy="279.7" r="2.8" fill="url(#gR)"/>
<circle cx="146.8" cy="271.6" r="2.8" fill="url(#gR)"/>
<circle cx="147.4" cy="276.3" r="2.8" fill="url(#gR)"/>
<circle cx="147.4" cy="279.6" r="2.8" fill="url(#gR)"/>
<circle cx="147.7" cy="282.4" r="2.8" fill="url(#gR)"/>
<circle cx="148.0" cy="276.9" r="2.8" fill="url(#gR)"/>
<circle cx="148.3" cy="282.1" r="2.8" fill="url(#gR)"/>
<circle cx="148.0" cy="281.8" r="2.8" fill="url(#gR)"/>
<circle cx="148.1" cy="272.1" r="2.8" fill="url(#gR)"/>
<circle cx="148.9" cy="278.2" r="2.8" fill="url(#gR)"/>
<circle cx="148.9" cy="273.2" r="2.8" fill="url(#gR)"/>
<circle cx="149.1" cy="273.4" r="2.8" fill="url(#gR)"/>
<circle cx="149.5" cy="283.0" r="2.8" fill="url(#gR)"/>
<circle cx="149.1" cy="274.2" r="2.8" fill="url(#gR)"/>
<circle cx="149.7" cy="273.8" r="2.8" fill="url(#gR)"/>
<circle cx="149.8" cy="275.0" r="2.8" fill="url(#gR)"/>
<circle cx="150.3" cy="277.2" r="2.8" fill="url(#gR)"/>
<circle cx="150.1" cy="275.2" r="2.8" fill="url(#gR)"/>
<circle cx="150.4" cy="274.7" r="2.8" fill="url(#gR)"/>
<circle cx="150.6" cy="272.7" r="2.8" fill="url(#gR)"/>
<circle cx="151.0" cy="277.2" r="2.8" fill="url(#gR)"/>
<circle cx="151.3" cy="277.5" r="2.8" fill="url(#gR)"/>
<circle cx="151.1" cy="274.9" r="2.8" fill="url(#gR)"/>
<circle cx="150.9" cy="275.0" r="2.8" fill="url(#gR)"/>
<circle cx="151.7" cy="279.7" r="2.8" fill="url(#gR)"/>
<circle cx="151.4" cy="282.7" r="2.8" fill="url(#gR)"/>
<circle cx="152.1" cy="281.4" r="2.8" fill="url(#gR)"/>
<circle cx="151.8" cy="281.9" r="2.8" fill="url(#gR)"/>
<circle cx="152.5" cy="273.8" r="2.8" fill="url(#gR)"/>
<circle cx="152.2" cy="279.1" r="2.8" fill="url(#gR)"/>
<circle cx="153.0" cy="270.9" r="2.8" fill="url(#gR)"/>
<circle cx="152.8" cy="279.6" r="2.8" fill="url(#gR)"/>
<circle cx="152.8" cy="276.4" r="2.8" fill="url(#gR)"/>
<circle cx="153.6" cy="274.1" r="2.8" fill="url(#gR)"/>
<circle cx="153.8" cy="271.5" r="2.8" fill="url(#gR)"/>
<circle cx="153.5" cy="280.3" r="2.8" fill="url(#gR)"/>
<circle cx="153.9" cy="280.1" r="2.8" fill="url(#gR)"/>
<circle cx="154.1" cy="278.5" r="2.8" fill="url(#gR)"/>
<circle cx="154.6" cy="275.7" r="2.8" fill="url(#gR)"/>
<circle cx="154.3" cy="280.1" r="2.8" fill="url(#gR)"/>
<circle cx="154.4" cy="277.2" r="2.8" fill="url(#gR)"/>
<circle cx="154.6" cy="271.8" r="2.8" fill="url(#gR)"/>
<circle cx="154.7" cy="281.3" r="2.8" fill="url(#gR)"/>
<circle cx="154.8" cy="273.6" r="2.8" fill="url(#gR)"/>
<circle cx="155.2" cy="282.9" r="2.8" fill="url(#gR)"/>
<circle cx="155.7" cy="272.5" r="2.8" fill="url(#gR)"/>
<circle cx="156.0" cy="271.2" r="2.8" fill="url(#gR)"/>
<circle cx="155.5" cy="279.5" r="2.8" fill="url(#gR)"/>
<circle cx="155.9" cy="280.4" r="2.8" fill="url(#gR)"/>
<circle cx="156.5" cy="271.4" r="2.8" fill="url(#gR)"/>
<circle cx="156.4" cy="282.3" r="2.8" fill="url(#gR)"/>
<circle cx="156.7" cy="274.0" r="2.8" fill="url(#gR)"/>
<circle cx="157.2" cy="280.4" r="2.8" fill="url(#gR)"/>
<circle cx="157.0" cy="279.0" r="2.8" fill="url(#gR)"/>
<circle cx="157.5" cy="276.3" r="2.8" fill="url(#gR)"/>
<circle cx="157.3" cy="273.8" r="2.8" fill="url(#gR)"/>
<circle cx="158.0" cy="272.8" r="2.8" fill="url(#gR)"/>
<circle cx="157.6" cy="280.5" r="2.8" fill="url(#gR)"/>
<circle cx="158.4" cy="280.4" r="2.8" fill="url(#gR)"/>
<circle cx="158.1" cy="274.3" r="2.8" fill="url(#gR)"/>
<circle cx="158.7" cy="274.1" r="2.8" fill="url(#gR)"/>
<circle cx="158.9" cy="276.3" r="2.8" fill="url(#gR)"/>
<circle cx="159.0" cy="275.5" r="2.8" fill="url(#gR)"/>
<circle cx="159.0" cy="282.6" r="2.8" fill="url(#gR)"/>
<circle cx="159.5" cy="272.9" r="2.8" fill="url(#gR)"/>
<circle cx="159.3" cy="282.7" r="2.8" fill="url(#gR)"/>
<circle cx="159.9" cy="281.7" r="2.8" fill="url(#gR)"/>
<circle cx="160.0" cy="282.8" r="2.8" fill="url(#gR)"/>
<circle cx="159.8" cy="276.4" r="2.8" fill="url(#gR)"/>
<circle cx="159.9" cy="273.6" r="2.8" fill="url(#gR)"/>
<circle cx="160.0" cy="274.0" r="2.8" fill="url(#gR)"/>
<circle cx="160.3" cy="270.4" r="2.8" fill="url(#gR)"/>
<circle cx="160.9" cy="271.7" r="2.8" fill="url(#gR)"/>
<circle cx="161.3" cy="275.4" r="2.8" fill="url(#gR)"/>
<circle cx="160.9" cy="279.0" r="2.8" fill="url(#gR)"/>
<circle cx="161.3" cy="279.0" r="2.8" fill="url(#gR)"/>
<circle cx="161.6" cy="282.8" r="2.8" fill="url(#gR)"/>
<circle cx="161.4" cy="273.1" r="2.8" fill="url(#gR)"/>
<circle cx="161.7" cy="275.1" r="2.8" fill="url(#gR)"/>
<circle cx="162.3" cy="272.2" r="2.8" fill="url(#gR)"/>
<circle cx="162.2" cy="273.2" r="2.8" fill="url(#gR)"/>
<circle cx="162.5" cy="273.9" r="2.8" fill="url(#gR)"/>
<circle cx="162.5" cy="271.1" r="2.8" fill="url(#gR)"/>
<circle cx="162.8" cy="272.4" r="2.8" fill="url(#gR)"/>
<circle cx="163.3" cy="276.8" r="2.8" fill="url(#gR)"/>
<circle cx="162.8" cy="278.1" r="2.8" fill="url(#gR)"/>
<circle cx="163.6" cy="279.5" r="2.8" fill="url(#gR)"/>
<circle cx="163.3" cy="282.1" r="2.8" fill="url(#gR)"/>
<circle cx="163.5" cy="277.1" r="2.8" fill="url(#gR)"/>
<circle cx="164.1" cy="277.7" r="2.8" fill="url(#gR)"/>
<circle cx="164.1" cy="281.2" r="2.8" fill="url(#gR)"/>
<circle cx="164.1" cy="276.9" r="2.8" fill="url(#gR)"/>
<circle cx="164.4" cy="270.3" r="2.8" fill="url(#gR)"/>
<circle cx="164.8" cy="271.6" r="2.8" fill="url(#gR)"/>
<circle cx="164.8" cy="272.5" r="2.8" fill="url(#gR)"/>
<circle cx="164.9" cy="269.4" r="2.8" fill="url(#gR)"/>
<circle cx="165.0" cy="281.1" r="2.8" fill="url(#gR)"/>
<circle cx="165.6" cy="276.4" r="2.8" fill="url(#gR)"/>
<circle cx="165.8" cy="282.4" r="2.8" fill="url(#gR)"/>
<circle cx="166.0" cy="270.3" r="2.8" fill="url(#gR)"/>
<circle cx="166.3" cy="281.2" r="2.8" fill="url(#gR)"/>
<circle cx="166.4" cy="280.4" r="2.8" fill="url(#gR)"/>
<circle cx="166.4" cy="279.9" r="2.8" fill="url(#gR)"/>
<circle cx="166.4" cy="270.8" r="2.8" fill="url(#gR)"/>
<circle cx="166.8" cy="276.3" r="2.8" fill="url(#gR)"/>
<circle cx="166.9" cy="283.1" r="2.8" fill="url(#gR)"/>
<circle cx="167.4" cy="275.9" r="2.8" fill="url(#gR)"/>
<circle cx="167.3" cy="274.2" r="2.8" fill="url(#gR)"/>
<circle cx="167.5" cy="272.8" r="2.8" fill="url(#gR)"/>
<circle cx="167.8" cy="272.5" r="2.8" fill="url(#gR)"/>
<circle cx="167.7" cy="276.3" r="2.8" fill="url(#gR)"/>
<circle cx="168.2" cy="274.0" r="2.8" fill="url(#gR)"/>
<circle cx="168.7" cy="274.7" r="2.8" fill="url(#gR)"/>
<circle cx="168.4" cy="282.8" r="2.8" fill="url(#gR)"/>
<circle cx="168.5" cy="279.3" r="2.8" fill="url(#gR)"/>
<circle cx="169.1" cy="272.6" r="2.8" fill="url(#gR)"/>
<circle cx="168.9" cy="282.4" r="2.8" fill="url(#gR)"/>
<circle cx="169.4" cy="274.2" r="2.8" fill="url(#gR)"/>
<circle cx="169.2" cy="272.1" r="2.8" fill="url(#gR)"/>
<circle cx="169.6" cy="276.5" r="2.8" fill="url(#gR)"/>
<circle cx="169.8" cy="273.5" r="2.8" fill="url(#gR)"/>
<circle cx="170.0" cy="273.5" r="2.8" fill="url(#gR)"/>
<circle cx="170.3" cy="280.3" r="2.8" fill="url(#gR)"/>
<circle cx="170.4" cy="275.6" r="2.8" fill="url(#gR)"/>
<circle cx="171.0" cy="282.7" r="2.8" fill="url(#gR)"/>
<circle cx="171.0" cy="281.5" r="2.8" fill="url(#gR)"/>
<circle cx="171.0" cy="275.3" r="2.8" fill="url(#gR)"/>
<circle cx="171.5" cy="271.0" r="2.8" fill="url(#gR)"/>
<circle cx="171.0" cy="271.6" r="2.8" fill="url(#gR)"/>
<circle cx="171.2" cy="277.9" r="2.8" fill="url(#gR)"/>
<circle cx="171.6" cy="279.6" r="2.8" fill="url(#gR)"/>
<circle cx="172.0" cy="279.4" r="2.8" fill="url(#gR)"/>
<circle cx="172.1" cy="270.7" r="2.8" fill="url(#gR)"/>
<circle cx="171.9" cy="278.3" r="2.8" fill="url(#gR)"/>
<circle cx="172.4" cy="270.4" r="2.8" fill="url(#gR)"/>
<circle cx="172.6" cy="277.1" r="2.8" fill="url(#gR)"/>
<circle cx="173.0" cy="274.3" r="2.8" fill="url(#gR)"/>
<circle cx="172.9" cy="271.8" r="2.8" fill="url(#gR)"/>
<circle cx="173.6" cy="275.1" r="2.8" fill="url(#gR)"/>
<circle cx="173.1" cy="274.1" r="2.8" fill="url(#gR)"/>
<circle cx="173.7" cy="271.4" r="2.8" fill="url(#gR)"/>
<circle cx="174.0" cy="282.8" r="2.8" fill="url(#gR)"/>
<circle cx="173.8" cy="275.9" r="2.8" fill="url(#gR)"/>
<circle cx="174.5" cy="272.7" r="2.8" fill="url(#gR)"/>
<circle cx="174.3" cy="282.9" r="2.8" fill="url(#gR)"/>
<circle cx="174.8" cy="277.5" r="2.8" fill="url(#gR)"/>
<circle cx="174.6" cy="278.8" r="2.8" fill="url(#gR)"/>
<circle cx="174.9" cy="270.9" r="2.8" fill="url(#gR)"/>
<circle cx="175.0" cy="274.8" r="2.8" fill="url(#gR)"/>
<circle cx="175.7" cy="267.4" r="2.8" fill="url(#gR)"/>
<circle cx="175.6" cy="272.6" r="2.8" fill="url(#gR)"/>
<circle cx="176.1" cy="271.4" r="2.8" fill="url(#gR)"/>
<circle cx="176.2" cy="277.4" r="2.8" fill="url(#gR)"/>
<circle cx="176.3" cy="270.2" r="2.8" fill="url(#gR)"/>
<circle cx="176.1" cy="273.7" r="2.8" fill="url(#gR)"/>
<circle cx="176.2" cy="277.2" r="2.8" fill="url(#gR)"/>
<circle cx="176.4" cy="282.4" r="2.8" fill="url(#gR)"/>
<circle cx="176.8" cy="280.0" r="2.8" fill="url(#gR)"/>
<circle cx="177.3" cy="268.8" r="2.8" fill="url(#gR)"/>
<circle cx="177.5" cy="267.8" r="2.8" fill="url(#gR)"/>
<circle cx="177.3" cy="270.2" r="2.8" fill="url(#gR)"/>
<circle cx="177.3" cy="267.1" r="2.8" fill="url(#gR)"/>
<circle cx="178.1" cy="280.9" r="2.8" fill="url(#gR)"/>
<circle cx="178.3" cy="274.0" r="2.8" fill="url(#gR)"/>
<circle cx="178.2" cy="271.3" r="2.8" fill="url(#gR)"/>
<circle cx="178.3" cy="273.3" r="2.8" fill="url(#gR)"/>
<circle cx="178.6" cy="275.3" r="2.8" fill="url(#gR)"/>
<circle cx="179.0" cy="278.6" r="2.8" fill="url(#gR)"/>
<circle cx="63.0" cy="243.6" r="2.65" fill="url(#gr)"/>
<circle cx="83.4" cy="261.3" r="2.65" fill="url(#gr)"/>
<circle cx="118.1" cy="244.6" r="2.65" fill="url(#gr)"/>
<circle cx="126.8" cy="253.7" r="2.65" fill="url(#gr)"/>
<circle cx="126.8" cy="257.2" r="2.65" fill="url(#gr)"/>
<circle cx="172.9" cy="242.0" r="2.65" fill="url(#gr)"/>
<circle cx="165.4" cy="288.0" r="2.65" fill="url(#gr)"/>
<circle cx="46.5" cy="179.5" r="2.65" fill="url(#gg)"/>
<circle cx="46.9" cy="179.6" r="2.65" fill="url(#gg)"/>
<circle cx="47.3" cy="180.2" r="2.65" fill="url(#gg)"/>
<circle cx="47.7" cy="179.5" r="2.65" fill="url(#gg)"/>
<circle cx="48.1" cy="179.6" r="2.65" fill="url(#gg)"/>
<circle cx="48.5" cy="179.7" r="2.65" fill="url(#gg)"/>
<circle cx="48.9" cy="179.1" r="2.65" fill="url(#gg)"/>
<circle cx="49.3" cy="179.6" r="2.65" fill="url(#gg)"/>
<circle cx="49.6" cy="179.7" r="2.65" fill="url(#gg)"/>
<circle cx="50.0" cy="180.0" r="2.65" fill="url(#gg)"/>
<circle cx="50.4" cy="178.9" r="2.65" fill="url(#gg)"/>
<circle cx="50.8" cy="179.3" r="2.65" fill="url(#gg)"/>
<circle cx="51.2" cy="178.9" r="2.65" fill="url(#gg)"/>
<circle cx="51.6" cy="180.0" r="2.65" fill="url(#gg)"/>
<circle cx="52.0" cy="179.8" r="2.65" fill="url(#gg)"/>
<circle cx="52.4" cy="178.9" r="2.65" fill="url(#gg)"/>
<circle cx="52.8" cy="180.3" r="2.65" fill="url(#gg)"/>
<circle cx="53.2" cy="180.2" r="2.65" fill="url(#gg)"/>
<circle cx="53.6" cy="179.8" r="2.65" fill="url(#gg)"/>
<circle cx="54.0" cy="179.7" r="2.65" fill="url(#gg)"/>
<circle cx="54.4" cy="179.0" r="2.65" fill="url(#gg)"/>
<circle cx="54.8" cy="178.8" r="2.65" fill="url(#gg)"/>
<circle cx="55.1" cy="179.6" r="2.65" fill="url(#gg)"/>
<circle cx="55.5" cy="178.9" r="2.65" fill="url(#gg)"/>
<circle cx="55.9" cy="179.1" r="2.65" fill="url(#gg)"/>
<circle cx="56.3" cy="179.2" r="2.65" fill="url(#gg)"/>
<circle cx="56.7" cy="178.8" r="2.65" fill="url(#gg)"/>
<circle cx="57.1" cy="179.5" r="2.65" fill="url(#gg)"/>
<circle cx="57.5" cy="179.5" r="2.65" fill="url(#gg)"/>
<circle cx="57.9" cy="180.1" r="2.65" fill="url(#gg)"/>
<circle cx="58.3" cy="179.6" r="2.65" fill="url(#gg)"/>
<circle cx="58.7" cy="179.8" r="2.65" fill="url(#gg)"/>
<circle cx="59.1" cy="179.5" r="2.65" fill="url(#gg)"/>
<circle cx="59.5" cy="179.8" r="2.65" fill="url(#gg)"/>
<circle cx="59.9" cy="179.5" r="2.65" fill="url(#gg)"/>
<circle cx="60.3" cy="179.2" r="2.65" fill="url(#gg)"/>
<circle cx="60.6" cy="180.3" r="2.65" fill="url(#gg)"/>
<circle cx="61.0" cy="180.3" r="2.65" fill="url(#gg)"/>
<circle cx="61.4" cy="180.1" r="2.65" fill="url(#gg)"/>
<circle cx="61.8" cy="179.9" r="2.65" fill="url(#gg)"/>
<circle cx="62.2" cy="179.3" r="2.65" fill="url(#gg)"/>
<circle cx="62.6" cy="179.1" r="2.65" fill="url(#gg)"/>
<circle cx="63.0" cy="179.2" r="2.65" fill="url(#gg)"/>
<circle cx="63.4" cy="178.9" r="2.65" fill="url(#gg)"/>
<circle cx="63.8" cy="179.9" r="2.65" fill="url(#gg)"/>
<circle cx="64.2" cy="179.4" r="2.65" fill="url(#gg)"/>
<circle cx="64.6" cy="180.1" r="2.65" fill="url(#gg)"/>
<circle cx="65.0" cy="179.4" r="2.65" fill="url(#gg)"/>
<circle cx="65.4" cy="180.2" r="2.65" fill="url(#gg)"/>
<circle cx="65.8" cy="180.1" r="2.65" fill="url(#gg)"/>
<circle cx="66.2" cy="178.8" r="2.65" fill="url(#gg)"/>
<circle cx="66.5" cy="179.1" r="2.65" fill="url(#gg)"/>
<circle cx="66.9" cy="180.2" r="2.65" fill="url(#gg)"/>
<circle cx="67.3" cy="179.5" r="2.65" fill="url(#gg)"/>
<circle cx="67.7" cy="180.3" r="2.65" fill="url(#gg)"/>
<circle cx="68.1" cy="179.4" r="2.65" fill="url(#gg)"/>
<circle cx="68.5" cy="178.9" r="2.65" fill="url(#gg)"/>
<circle cx="68.9" cy="179.7" r="2.65" fill="url(#gg)"/>
<circle cx="69.3" cy="180.0" r="2.65" fill="url(#gg)"/>
<circle cx="69.7" cy="179.2" r="2.65" fill="url(#gg)"/>
<circle cx="70.1" cy="178.9" r="2.65" fill="url(#gg)"/>
<circle cx="70.5" cy="179.3" r="2.65" fill="url(#gg)"/>
<circle cx="70.9" cy="180.2" r="2.65" fill="url(#gg)"/>
<circle cx="71.3" cy="179.9" r="2.65" fill="url(#gg)"/>
<circle cx="71.7" cy="179.0" r="2.65" fill="url(#gg)"/>
<circle cx="72.0" cy="179.2" r="2.65" fill="url(#gg)"/>
<circle cx="72.4" cy="179.0" r="2.65" fill="url(#gg)"/>
<circle cx="72.8" cy="178.9" r="2.65" fill="url(#gg)"/>
<circle cx="73.2" cy="180.0" r="2.65" fill="url(#gg)"/>
<circle cx="73.6" cy="179.1" r="2.65" fill="url(#gg)"/>
<circle cx="74.0" cy="179.6" r="2.65" fill="url(#gg)"/>
<circle cx="74.4" cy="179.5" r="2.65" fill="url(#gg)"/>
<circle cx="74.8" cy="179.1" r="2.65" fill="url(#gg)"/>
<circle cx="75.2" cy="179.9" r="2.65" fill="url(#gg)"/>
<circle cx="75.6" cy="179.0" r="2.65" fill="url(#gg)"/>
<circle cx="76.0" cy="179.8" r="2.65" fill="url(#gg)"/>
<circle cx="76.4" cy="179.0" r="2.65" fill="url(#gg)"/>
<circle cx="76.8" cy="179.4" r="2.65" fill="url(#gg)"/>
<circle cx="77.2" cy="179.1" r="2.65" fill="url(#gg)"/>
<circle cx="77.5" cy="179.2" r="2.65" fill="url(#gg)"/>
<circle cx="77.9" cy="180.3" r="2.65" fill="url(#gg)"/>
<circle cx="78.3" cy="180.0" r="2.65" fill="url(#gg)"/>
<circle cx="78.7" cy="179.3" r="2.65" fill="url(#gg)"/>
<circle cx="79.1" cy="180.1" r="2.65" fill="url(#gg)"/>
<circle cx="79.5" cy="179.1" r="2.65" fill="url(#gg)"/>
<circle cx="79.9" cy="179.4" r="2.65" fill="url(#gg)"/>
<circle cx="80.3" cy="180.1" r="2.65" fill="url(#gg)"/>
<circle cx="80.7" cy="179.8" r="2.65" fill="url(#gg)"/>
<circle cx="81.1" cy="179.0" r="2.65" fill="url(#gg)"/>
<circle cx="81.5" cy="180.3" r="2.65" fill="url(#gg)"/>
<circle cx="81.9" cy="179.1" r="2.65" fill="url(#gg)"/>
<circle cx="82.3" cy="179.2" r="2.65" fill="url(#gg)"/>
<circle cx="82.7" cy="180.0" r="2.65" fill="url(#gg)"/>
<circle cx="83.0" cy="179.3" r="2.65" fill="url(#gg)"/>
<circle cx="83.4" cy="179.2" r="2.65" fill="url(#gg)"/>
<circle cx="83.8" cy="178.9" r="2.65" fill="url(#gg)"/>
<circle cx="84.2" cy="178.9" r="2.65" fill="url(#gg)"/>
<circle cx="84.6" cy="179.7" r="2.65" fill="url(#gg)"/>
<circle cx="85.0" cy="179.2" r="2.65" fill="url(#gg)"/>
<circle cx="85.4" cy="179.7" r="2.65" fill="url(#gg)"/>
<circle cx="85.8" cy="179.4" r="2.65" fill="url(#gg)"/>
<circle cx="86.2" cy="179.5" r="2.65" fill="url(#gg)"/>
<circle cx="86.6" cy="180.2" r="2.65" fill="url(#gg)"/>
<circle cx="87.0" cy="179.5" r="2.65" fill="url(#gg)"/>
<circle cx="87.4" cy="179.7" r="2.65" fill="url(#gg)"/>
<circle cx="87.8" cy="180.1" r="2.65" fill="url(#gg)"/>
<circle cx="88.2" cy="179.1" r="2.65" fill="url(#gg)"/>
<circle cx="88.6" cy="179.0" r="2.65" fill="url(#gg)"/>
<circle cx="88.9" cy="180.2" r="2.65" fill="url(#gg)"/>
<circle cx="89.3" cy="180.0" r="2.65" fill="url(#gg)"/>
<circle cx="89.7" cy="179.2" r="2.65" fill="url(#gg)"/>
<circle cx="90.1" cy="179.1" r="2.65" fill="url(#gg)"/>
<circle cx="90.5" cy="179.9" r="2.65" fill="url(#gg)"/>
<circle cx="90.9" cy="180.2" r="2.65" fill="url(#gg)"/>
<circle cx="91.3" cy="179.1" r="2.65" fill="url(#gg)"/>
<circle cx="91.7" cy="180.2" r="2.65" fill="url(#gg)"/>
<circle cx="92.1" cy="180.1" r="2.65" fill="url(#gg)"/>
<circle cx="92.5" cy="179.7" r="2.65" fill="url(#gg)"/>
<circle cx="92.9" cy="179.4" r="2.65" fill="url(#gg)"/>
<circle cx="93.3" cy="179.0" r="2.65" fill="url(#gg)"/>
<circle cx="93.7" cy="178.9" r="2.65" fill="url(#gg)"/>
<circle cx="94.1" cy="180.2" r="2.65" fill="url(#gg)"/>
<circle cx="94.4" cy="179.2" r="2.65" fill="url(#gg)"/>
<circle cx="94.8" cy="179.9" r="2.65" fill="url(#gg)"/>
<circle cx="95.2" cy="179.2" r="2.65" fill="url(#gg)"/>
<circle cx="95.6" cy="180.0" r="2.65" fill="url(#gg)"/>
<circle cx="96.0" cy="179.7" r="2.65" fill="url(#gg)"/>
<circle cx="96.4" cy="179.2" r="2.65" fill="url(#gg)"/>
<circle cx="96.8" cy="179.1" r="2.65" fill="url(#gg)"/>
<circle cx="97.2" cy="179.9" r="2.65" fill="url(#gg)"/>
<circle cx="97.6" cy="178.9" r="2.65" fill="url(#gg)"/>
<circle cx="98.0" cy="179.1" r="2.65" fill="url(#gg)"/>
<circle cx="98.4" cy="179.6" r="2.65" fill="url(#gg)"/>
<circle cx="98.8" cy="180.1" r="2.65" fill="url(#gg)"/>
<circle cx="99.2" cy="179.7" r="2.65" fill="url(#gg)"/>
<circle cx="99.6" cy="179.2" r="2.65" fill="url(#gg)"/>
<circle cx="99.9" cy="180.2" r="2.65" fill="url(#gg)"/>
<circle cx="100.3" cy="179.1" r="2.65" fill="url(#gg)"/>
<circle cx="100.7" cy="178.8" r="2.65" fill="url(#gg)"/>
<circle cx="101.1" cy="179.2" r="2.65" fill="url(#gg)"/>
<circle cx="101.5" cy="179.5" r="2.65" fill="url(#gg)"/>
<circle cx="101.9" cy="178.9" r="2.65" fill="url(#gg)"/>
<circle cx="102.3" cy="179.1" r="2.65" fill="url(#gg)"/>
<circle cx="102.7" cy="179.4" r="2.65" fill="url(#gg)"/>
<circle cx="103.1" cy="179.7" r="2.65" fill="url(#gg)"/>
<circle cx="103.5" cy="179.0" r="2.65" fill="url(#gg)"/>
<circle cx="103.9" cy="179.3" r="2.65" fill="url(#gg)"/>
<circle cx="104.3" cy="180.1" r="2.65" fill="url(#gg)"/>
<circle cx="104.7" cy="180.3" r="2.65" fill="url(#gg)"/>
<circle cx="105.1" cy="179.8" r="2.65" fill="url(#gg)"/>
<circle cx="105.5" cy="179.8" r="2.65" fill="url(#gg)"/>
<circle cx="105.8" cy="179.7" r="2.65" fill="url(#gg)"/>
<circle cx="106.2" cy="179.0" r="2.65" fill="url(#gg)"/>
<circle cx="106.6" cy="178.9" r="2.65" fill="url(#gg)"/>
<circle cx="107.0" cy="178.8" r="2.65" fill="url(#gg)"/>
<circle cx="107.4" cy="180.2" r="2.65" fill="url(#gg)"/>
<circle cx="107.8" cy="179.9" r="2.65" fill="url(#gg)"/>
<circle cx="108.2" cy="180.2" r="2.65" fill="url(#gg)"/>
<circle cx="108.6" cy="178.8" r="2.65" fill="url(#gg)"/>
<circle cx="109.0" cy="179.8" r="2.65" fill="url(#gg)"/>
<circle cx="109.4" cy="179.5" r="2.65" fill="url(#gg)"/>
<circle cx="109.8" cy="179.9" r="2.65" fill="url(#gg)"/>
<circle cx="110.2" cy="179.3" r="2.65" fill="url(#gg)"/>
<circle cx="110.6" cy="180.3" r="2.65" fill="url(#gg)"/>
<circle cx="111.0" cy="178.9" r="2.65" fill="url(#gg)"/>
<circle cx="111.3" cy="179.6" r="2.65" fill="url(#gg)"/>
<circle cx="111.7" cy="179.9" r="2.65" fill="url(#gg)"/>
<circle cx="112.1" cy="180.2" r="2.65" fill="url(#gg)"/>
<circle cx="112.5" cy="179.9" r="2.65" fill="url(#gg)"/>
<circle cx="112.9" cy="179.9" r="2.65" fill="url(#gg)"/>
<circle cx="113.3" cy="180.0" r="2.65" fill="url(#gg)"/>
<circle cx="113.7" cy="180.2" r="2.65" fill="url(#gg)"/>
<circle cx="114.1" cy="179.3" r="2.65" fill="url(#gg)"/>
<circle cx="114.5" cy="179.8" r="2.65" fill="url(#gg)"/>
<circle cx="114.9" cy="180.2" r="2.65" fill="url(#gg)"/>
<circle cx="115.3" cy="180.1" r="2.65" fill="url(#gg)"/>
<circle cx="115.7" cy="179.4" r="2.65" fill="url(#gg)"/>
<circle cx="116.1" cy="180.0" r="2.65" fill="url(#gg)"/>
<circle cx="116.5" cy="180.1" r="2.65" fill="url(#gg)"/>
<circle cx="116.8" cy="179.7" r="2.65" fill="url(#gg)"/>
<circle cx="117.2" cy="179.7" r="2.65" fill="url(#gg)"/>
<circle cx="117.6" cy="179.4" r="2.65" fill="url(#gg)"/>
<circle cx="118.0" cy="179.7" r="2.65" fill="url(#gg)"/>
<circle cx="118.4" cy="179.7" r="2.65" fill="url(#gg)"/>
<circle cx="118.8" cy="178.9" r="2.65" fill="url(#gg)"/>
<circle cx="119.2" cy="179.8" r="2.65" fill="url(#gg)"/>
<circle cx="119.6" cy="180.3" r="2.65" fill="url(#gg)"/>
<circle cx="120.0" cy="180.1" r="2.65" fill="url(#gg)"/>
<circle cx="120.4" cy="179.9" r="2.65" fill="url(#gg)"/>
<circle cx="120.8" cy="179.4" r="2.65" fill="url(#gg)"/>
<circle cx="121.2" cy="179.9" r="2.65" fill="url(#gg)"/>
<circle cx="121.6" cy="179.7" r="2.65" fill="url(#gg)"/>
<circle cx="122.0" cy="179.5" r="2.65" fill="url(#gg)"/>
<circle cx="122.3" cy="180.1" r="2.65" fill="url(#gg)"/>
<circle cx="122.7" cy="178.9" r="2.65" fill="url(#gg)"/>
<circle cx="123.1" cy="179.9" r="2.65" fill="url(#gg)"/>
<circle cx="123.5" cy="178.8" r="2.65" fill="url(#gg)"/>
<circle cx="123.9" cy="179.7" r="2.65" fill="url(#gg)"/>
<circle cx="124.3" cy="179.5" r="2.65" fill="url(#gg)"/>
<circle cx="124.7" cy="179.1" r="2.65" fill="url(#gg)"/>
<circle cx="125.1" cy="179.8" r="2.65" fill="url(#gg)"/>
<circle cx="125.5" cy="179.5" r="2.65" fill="url(#gg)"/>
<circle cx="125.9" cy="179.7" r="2.65" fill="url(#gg)"/>
<circle cx="126.3" cy="180.2" r="2.65" fill="url(#gg)"/>
<circle cx="126.7" cy="179.2" r="2.65" fill="url(#gg)"/>
<circle cx="127.1" cy="178.8" r="2.65" fill="url(#gg)"/>
<circle cx="127.5" cy="179.3" r="2.65" fill="url(#gg)"/>
<circle cx="127.9" cy="179.8" r="2.65" fill="url(#gg)"/>
<circle cx="128.2" cy="179.1" r="2.65" fill="url(#gg)"/>
<circle cx="128.6" cy="179.1" r="2.65" fill="url(#gg)"/>
<circle cx="129.0" cy="180.2" r="2.65" fill="url(#gg)"/>
<circle cx="129.4" cy="179.8" r="2.65" fill="url(#gg)"/>
<circle cx="129.8" cy="179.5" r="2.65" fill="url(#gg)"/>
<circle cx="130.2" cy="180.1" r="2.65" fill="url(#gg)"/>
<circle cx="130.6" cy="179.3" r="2.65" fill="url(#gg)"/>
<circle cx="131.0" cy="179.8" r="2.65" fill="url(#gg)"/>
<circle cx="131.4" cy="179.1" r="2.65" fill="url(#gg)"/>
<circle cx="131.8" cy="179.4" r="2.65" fill="url(#gg)"/>
<circle cx="132.2" cy="180.0" r="2.65" fill="url(#gg)"/>
<circle cx="132.6" cy="180.2" r="2.65" fill="url(#gg)"/>
<circle cx="133.0" cy="180.1" r="2.65" fill="url(#gg)"/>
<circle cx="133.4" cy="179.4" r="2.65" fill="url(#gg)"/>
<circle cx="133.7" cy="179.7" r="2.65" fill="url(#gg)"/>
<circle cx="134.1" cy="179.3" r="2.65" fill="url(#gg)"/>
<circle cx="134.5" cy="179.0" r="2.65" fill="url(#gg)"/>
<circle cx="134.9" cy="179.5" r="2.65" fill="url(#gg)"/>
<circle cx="135.3" cy="180.1" r="2.65" fill="url(#gg)"/>
<circle cx="135.7" cy="180.1" r="2.65" fill="url(#gg)"/>
<circle cx="136.1" cy="179.9" r="2.65" fill="url(#gg)"/>
<circle cx="136.5" cy="180.2" r="2.65" fill="url(#gg)"/>
<circle cx="136.9" cy="179.2" r="2.65" fill="url(#gg)"/>
<circle cx="137.3" cy="179.1" r="2.65" fill="url(#gg)"/>
<circle cx="137.7" cy="179.5" r="2.65" fill="url(#gg)"/>
<circle cx="138.1" cy="179.2" r="2.65" fill="url(#gg)"/>
<circle cx="138.5" cy="179.1" r="2.65" fill="url(#gg)"/>
<circle cx="138.9" cy="179.4" r="2.65" fill="url(#gg)"/>
<circle cx="139.2" cy="179.7" r="2.65" fill="url(#gg)"/>
<circle cx="139.6" cy="179.5" r="2.65" fill="url(#gg)"/>
<circle cx="140.0" cy="179.3" r="2.65" fill="url(#gg)"/>
<circle cx="140.4" cy="180.1" r="2.65" fill="url(#gg)"/>
<circle cx="140.8" cy="180.3" r="2.65" fill="url(#gg)"/>
<circle cx="141.2" cy="179.5" r="2.65" fill="url(#gg)"/>
<circle cx="141.6" cy="178.9" r="2.65" fill="url(#gg)"/>
<circle cx="142.0" cy="178.8" r="2.65" fill="url(#gg)"/>
<circle cx="142.4" cy="180.1" r="2.65" fill="url(#gg)"/>
<circle cx="142.8" cy="178.9" r="2.65" fill="url(#gg)"/>
<circle cx="143.2" cy="179.9" r="2.65" fill="url(#gg)"/>
<circle cx="143.6" cy="179.7" r="2.65" fill="url(#gg)"/>
<circle cx="144.0" cy="179.3" r="2.65" fill="url(#gg)"/>
<circle cx="144.4" cy="180.0" r="2.65" fill="url(#gg)"/>
<circle cx="144.8" cy="178.8" r="2.65" fill="url(#gg)"/>
<circle cx="145.1" cy="179.0" r="2.65" fill="url(#gg)"/>
<circle cx="145.5" cy="179.5" r="2.65" fill="url(#gg)"/>
<circle cx="145.9" cy="178.8" r="2.65" fill="url(#gg)"/>
<circle cx="146.3" cy="180.0" r="2.65" fill="url(#gg)"/>
<circle cx="146.7" cy="179.2" r="2.65" fill="url(#gg)"/>
<circle cx="147.1" cy="179.0" r="2.65" fill="url(#gg)"/>
<circle cx="147.5" cy="178.9" r="2.65" fill="url(#gg)"/>
<circle cx="147.9" cy="179.7" r="2.65" fill="url(#gg)"/>
<circle cx="148.3" cy="179.5" r="2.65" fill="url(#gg)"/>
<circle cx="148.7" cy="179.7" r="2.65" fill="url(#gg)"/>
<circle cx="149.1" cy="179.8" r="2.65" fill="url(#gg)"/>
<circle cx="149.5" cy="180.0" r="2.65" fill="url(#gg)"/>
<circle cx="149.9" cy="180.2" r="2.65" fill="url(#gg)"/>
<circle cx="150.3" cy="179.8" r="2.65" fill="url(#gg)"/>
<circle cx="150.6" cy="179.1" r="2.65" fill="url(#gg)"/>
<circle cx="151.0" cy="179.5" r="2.65" fill="url(#gg)"/>
<circle cx="151.4" cy="179.1" r="2.65" fill="url(#gg)"/>
<circle cx="151.8" cy="178.8" r="2.65" fill="url(#gg)"/>
<circle cx="152.2" cy="179.5" r="2.65" fill="url(#gg)"/>
<circle cx="152.6" cy="179.9" r="2.65" fill="url(#gg)"/>
<circle cx="153.0" cy="179.1" r="2.65" fill="url(#gg)"/>
<circle cx="153.4" cy="179.2" r="2.65" fill="url(#gg)"/>
<circle cx="153.8" cy="179.3" r="2.65" fill="url(#gg)"/>
<circle cx="154.2" cy="179.8" r="2.65" fill="url(#gg)"/>
<circle cx="154.6" cy="179.6" r="2.65" fill="url(#gg)"/>
<circle cx="155.0" cy="179.7" r="2.65" fill="url(#gg)"/>
<circle cx="155.4" cy="179.9" r="2.65" fill="url(#gg)"/>
<circle cx="155.8" cy="179.4" r="2.65" fill="url(#gg)"/>
<circle cx="156.1" cy="180.0" r="2.65" fill="url(#gg)"/>
<circle cx="156.5" cy="180.2" r="2.65" fill="url(#gg)"/>
<circle cx="156.9" cy="178.9" r="2.65" fill="url(#gg)"/>
<circle cx="157.3" cy="180.2" r="2.65" fill="url(#gg)"/>
<circle cx="157.7" cy="179.9" r="2.65" fill="url(#gg)"/>
<circle cx="158.1" cy="179.0" r="2.65" fill="url(#gg)"/>
<circle cx="158.5" cy="179.5" r="2.65" fill="url(#gg)"/>
<circle cx="158.9" cy="179.7" r="2.65" fill="url(#gg)"/>
<circle cx="159.3" cy="180.2" r="2.65" fill="url(#gg)"/>
<circle cx="159.7" cy="179.4" r="2.65" fill="url(#gg)"/>
<circle cx="160.1" cy="179.7" r="2.65" fill="url(#gg)"/>
<circle cx="160.5" cy="180.1" r="2.65" fill="url(#gg)"/>
<circle cx="160.9" cy="180.0" r="2.65" fill="url(#gg)"/>
<circle cx="161.3" cy="180.2" r="2.65" fill="url(#gg)"/>
<circle cx="161.6" cy="179.5" r="2.65" fill="url(#gg)"/>
<circle cx="162.0" cy="179.8" r="2.65" fill="url(#gg)"/>
<circle cx="162.4" cy="179.1" r="2.65" fill="url(#gg)"/>
<circle cx="162.8" cy="179.9" r="2.65" fill="url(#gg)"/>
<circle cx="163.2" cy="180.0" r="2.65" fill="url(#gg)"/>
<circle cx="163.6" cy="179.8" r="2.65" fill="url(#gg)"/>
<circle cx="164.0" cy="179.9" r="2.65" fill="url(#gg)"/>
<circle cx="164.4" cy="179.1" r="2.65" fill="url(#gg)"/>
<circle cx="164.8" cy="180.1" r="2.65" fill="url(#gg)"/>
<circle cx="165.2" cy="180.3" r="2.65" fill="url(#gg)"/>
<circle cx="165.6" cy="180.3" r="2.65" fill="url(#gg)"/>
<circle cx="166.0" cy="179.6" r="2.65" fill="url(#gg)"/>
<circle cx="166.4" cy="180.0" r="2.65" fill="url(#gg)"/>
<circle cx="166.8" cy="179.3" r="2.65" fill="url(#gg)"/>
<circle cx="167.2" cy="180.2" r="2.65" fill="url(#gg)"/>
<circle cx="167.5" cy="180.1" r="2.65" fill="url(#gg)"/>
<circle cx="167.9" cy="179.3" r="2.65" fill="url(#gg)"/>
<circle cx="168.3" cy="178.9" r="2.65" fill="url(#gg)"/>
<circle cx="168.7" cy="179.5" r="2.65" fill="url(#gg)"/>
<circle cx="169.1" cy="179.6" r="2.65" fill="url(#gg)"/>
<circle cx="169.5" cy="180.0" r="2.65" fill="url(#gg)"/>
<circle cx="169.9" cy="179.5" r="2.65" fill="url(#gg)"/>
<circle cx="170.3" cy="178.8" r="2.65" fill="url(#gg)"/>
<circle cx="170.7" cy="180.0" r="2.65" fill="url(#gg)"/>
<circle cx="171.1" cy="178.9" r="2.65" fill="url(#gg)"/>
<circle cx="171.5" cy="180.0" r="2.65" fill="url(#gg)"/>
<circle cx="171.9" cy="179.1" r="2.65" fill="url(#gg)"/>
<circle cx="172.3" cy="179.3" r="2.65" fill="url(#gg)"/>
<circle cx="172.7" cy="180.0" r="2.65" fill="url(#gg)"/>
<circle cx="173.0" cy="179.0" r="2.65" fill="url(#gg)"/>
<circle cx="173.4" cy="179.0" r="2.65" fill="url(#gg)"/>
<circle cx="173.8" cy="179.6" r="2.65" fill="url(#gg)"/>
<circle cx="174.2" cy="179.9" r="2.65" fill="url(#gg)"/>
<circle cx="174.6" cy="180.1" r="2.65" fill="url(#gg)"/>
<circle cx="175.0" cy="179.8" r="2.65" fill="url(#gg)"/>
<circle cx="175.4" cy="180.2" r="2.65" fill="url(#gg)"/>
<circle cx="175.8" cy="179.5" r="2.65" fill="url(#gg)"/>
<circle cx="176.2" cy="180.2" r="2.65" fill="url(#gg)"/>
<circle cx="176.6" cy="178.9" r="2.65" fill="url(#gg)"/>
<circle cx="177.0" cy="179.1" r="2.65" fill="url(#gg)"/>
<circle cx="177.4" cy="179.6" r="2.65" fill="url(#gg)"/>
<circle cx="63.5" cy="184.7" r="2.65" fill="url(#gg)"/>
<circle cx="62.0" cy="188.8" r="2.65" fill="url(#gg)"/>
<circle cx="65.7" cy="188.8" r="2.65" fill="url(#gg)"/>
<circle cx="58.3" cy="190.1" r="2.65" fill="url(#gg)"/>
<circle cx="54.1" cy="194.0" r="2.65" fill="url(#gg)"/>
<circle cx="58.3" cy="194.8" r="2.65" fill="url(#gg)"/>
<circle cx="58.3" cy="198.1" r="2.65" fill="url(#gg)"/>
<circle cx="52.7" cy="200.0" r="2.65" fill="url(#gg)"/>
<circle cx="59.2" cy="200.9" r="2.65" fill="url(#gg)"/>
<circle cx="53.6" cy="203.7" r="2.65" fill="url(#gg)"/>
<circle cx="62.0" cy="202.8" r="2.65" fill="url(#gg)"/>
<circle cx="59.2" cy="206.5" r="2.65" fill="url(#gg)"/>
<circle cx="64.8" cy="205.2" r="2.65" fill="url(#gg)"/>
<circle cx="68.5" cy="206.0" r="2.65" fill="url(#gg)"/>
<circle cx="51.7" cy="207.4" r="2.65" fill="url(#gg)"/>
<circle cx="63.9" cy="209.3" r="2.65" fill="url(#gg)"/>
<circle cx="49.9" cy="211.2" r="2.65" fill="url(#gg)"/>
<circle cx="54.5" cy="211.6" r="2.65" fill="url(#gg)"/>
<circle cx="66.6" cy="211.2" r="2.65" fill="url(#gg)"/>
<circle cx="50.2" cy="217.1" r="2.65" fill="url(#gg)"/>
<circle cx="86.2" cy="185.0" r="2.65" fill="url(#gg)"/>
<circle cx="86.2" cy="190.7" r="2.65" fill="url(#gg)"/>
<circle cx="81.6" cy="194.8" r="2.65" fill="url(#gg)"/>
<circle cx="90.0" cy="197.2" r="2.65" fill="url(#gg)"/>
<circle cx="95.2" cy="200.0" r="2.65" fill="url(#gg)"/>
<circle cx="97.4" cy="190.7" r="2.65" fill="url(#gg)"/>
<circle cx="97.0" cy="194.0" r="2.65" fill="url(#gg)"/>
<circle cx="100.2" cy="197.2" r="2.65" fill="url(#gg)"/>
<circle cx="84.4" cy="201.5" r="2.65" fill="url(#gg)"/>
<circle cx="84.4" cy="204.6" r="2.65" fill="url(#gg)"/>
<circle cx="80.6" cy="205.6" r="2.65" fill="url(#gg)"/>
<circle cx="93.3" cy="206.5" r="2.65" fill="url(#gg)"/>
<circle cx="96.5" cy="206.5" r="2.65" fill="url(#gg)"/>
<circle cx="100.2" cy="205.2" r="2.65" fill="url(#gg)"/>
<circle cx="99.3" cy="209.3" r="2.65" fill="url(#gg)"/>
<circle cx="107.7" cy="200.0" r="2.65" fill="url(#gg)"/>
<circle cx="106.8" cy="204.6" r="2.65" fill="url(#gg)"/>
<circle cx="106.8" cy="208.0" r="2.65" fill="url(#gg)"/>
<circle cx="110.5" cy="186.9" r="2.65" fill="url(#gg)"/>
<circle cx="110.9" cy="190.7" r="2.65" fill="url(#gg)"/>
<circle cx="109.6" cy="194.0" r="2.65" fill="url(#gg)"/>
<circle cx="99.3" cy="183.2" r="2.65" fill="url(#gg)"/>
<circle cx="76.9" cy="182.8" r="2.65" fill="url(#gg)"/>
<circle cx="128.7" cy="182.3" r="2.65" fill="url(#gg)"/>
<circle cx="141.7" cy="187.9" r="2.65" fill="url(#gg)"/>
<circle cx="143.6" cy="182.3" r="2.65" fill="url(#gg)"/>
<circle cx="152.9" cy="182.3" r="2.65" fill="url(#gg)"/>
<circle cx="166.0" cy="185.4" r="2.65" fill="url(#gg)"/>
<circle cx="175.3" cy="182.3" r="2.65" fill="url(#gg)"/>
<circle cx="111.0" cy="186.9" r="2.65" fill="url(#gg)"/>
<circle cx="111.0" cy="190.7" r="2.65" fill="url(#gg)"/>
<circle cx="121.2" cy="191.6" r="2.65" fill="url(#gg)"/>
<circle cx="128.7" cy="189.7" r="2.65" fill="url(#gg)"/>
<circle cx="132.4" cy="195.9" r="2.65" fill="url(#gg)"/>
<circle cx="147.3" cy="192.5" r="2.65" fill="url(#gg)"/>
<circle cx="148.2" cy="196.3" r="2.65" fill="url(#gg)"/>
<circle cx="150.1" cy="200.0" r="2.65" fill="url(#gg)"/>
<circle cx="145.4" cy="201.9" r="2.65" fill="url(#gg)"/>
<circle cx="145.4" cy="205.6" r="2.65" fill="url(#gg)"/>
<circle cx="149.2" cy="205.6" r="2.65" fill="url(#gg)"/>
<circle cx="150.1" cy="208.4" r="2.65" fill="url(#gg)"/>
<circle cx="143.6" cy="209.3" r="2.65" fill="url(#gg)"/>
<circle cx="146.4" cy="211.2" r="2.65" fill="url(#gg)"/>
<circle cx="115.6" cy="199.0" r="2.65" fill="url(#gg)"/>
<circle cx="120.3" cy="200.9" r="2.65" fill="url(#gg)"/>
<circle cx="117.5" cy="203.7" r="2.65" fill="url(#gg)"/>
<circle cx="118.4" cy="207.4" r="2.65" fill="url(#gg)"/>
<circle cx="116.5" cy="211.2" r="2.65" fill="url(#gg)"/>
<circle cx="119.3" cy="213.0" r="2.65" fill="url(#gg)"/>
<circle cx="134.3" cy="206.5" r="2.65" fill="url(#gg)"/>
<circle cx="165.0" cy="195.3" r="2.65" fill="url(#gg)"/>
<circle cx="165.0" cy="199.0" r="2.65" fill="url(#gg)"/>
<circle cx="165.0" cy="202.8" r="2.65" fill="url(#gg)"/>
<circle cx="165.0" cy="205.6" r="2.65" fill="url(#gg)"/>
<circle cx="164.1" cy="210.2" r="2.65" fill="url(#gg)"/>
<circle cx="165.0" cy="214.0" r="2.65" fill="url(#gg)"/>
<circle cx="165.0" cy="217.7" r="2.65" fill="url(#gg)"/>
<circle cx="172.5" cy="203.7" r="2.65" fill="url(#gg)"/>
<circle cx="173.4" cy="208.4" r="2.65" fill="url(#gg)"/>
<circle cx="171.6" cy="212.1" r="2.65" fill="url(#gg)"/>
<circle cx="174.4" cy="215.8" r="2.65" fill="url(#gg)"/>
<circle cx="173.4" cy="228.9" r="2.65" fill="url(#gg)"/>
<line x1="33.70" y1="172.60" x2="190.10" y2="172.60" stroke="#6b6b6b" stroke-width="1" />
<line x1="33.70" y1="297.50" x2="190.10" y2="297.50" stroke="#6b6b6b" stroke-width="1" />
<line x1="33.70" y1="172.60" x2="33.70" y2="297.50" stroke="#6b6b6b" stroke-width="1" />
<line x1="190.10" y1="172.60" x2="190.10" y2="297.50" stroke="#6b6b6b" stroke-width="1" />
<line x1="46.80" y1="297.50" x2="46.80" y2="295.00" stroke="#6b6b6b" stroke-width="1" />
<line x1="59.90" y1="297.50" x2="59.90" y2="295.00" stroke="#6b6b6b" stroke-width="1" />
<line x1="73.00" y1="297.50" x2="73.00" y2="295.00" stroke="#6b6b6b" stroke-width="1" />
<line x1="86.10" y1="297.50" x2="86.10" y2="295.00" stroke="#6b6b6b" stroke-width="1" />
<line x1="99.20" y1="297.50" x2="99.20" y2="295.00" stroke="#6b6b6b" stroke-width="1" />
<line x1="112.30" y1="297.50" x2="112.30" y2="295.00" stroke="#6b6b6b" stroke-width="1" />
<line x1="125.40" y1="297.50" x2="125.40" y2="295.00" stroke="#6b6b6b" stroke-width="1" />
<line x1="138.50" y1="297.50" x2="138.50" y2="295.00" stroke="#6b6b6b" stroke-width="1" />
<line x1="151.60" y1="297.50" x2="151.60" y2="295.00" stroke="#6b6b6b" stroke-width="1" />
<line x1="164.70" y1="297.50" x2="164.70" y2="295.00" stroke="#6b6b6b" stroke-width="1" />
<line x1="177.80" y1="297.50" x2="177.80" y2="295.00" stroke="#6b6b6b" stroke-width="1" />
<line x1="48.50" y1="172.60" x2="48.50" y2="175.10" stroke="#6b6b6b" stroke-width="1" />
<line x1="64.45" y1="172.60" x2="64.45" y2="175.10" stroke="#6b6b6b" stroke-width="1" />
<line x1="80.40" y1="172.60" x2="80.40" y2="175.10" stroke="#6b6b6b" stroke-width="1" />
<line x1="96.35" y1="172.60" x2="96.35" y2="175.10" stroke="#6b6b6b" stroke-width="1" />
<line x1="112.30" y1="172.60" x2="112.30" y2="175.10" stroke="#6b6b6b" stroke-width="1" />
<line x1="128.25" y1="172.60" x2="128.25" y2="175.10" stroke="#6b6b6b" stroke-width="1" />
<line x1="144.20" y1="172.60" x2="144.20" y2="175.10" stroke="#6b6b6b" stroke-width="1" />
<line x1="160.15" y1="172.60" x2="160.15" y2="175.10" stroke="#6b6b6b" stroke-width="1" />
<line x1="176.10" y1="172.60" x2="176.10" y2="175.10" stroke="#6b6b6b" stroke-width="1" />
<line x1="190.10" y1="185.10" x2="187.60" y2="185.10" stroke="#6b6b6b" stroke-width="1" />
<line x1="190.10" y1="197.65" x2="187.60" y2="197.65" stroke="#6b6b6b" stroke-width="1" />
<line x1="190.10" y1="210.20" x2="187.60" y2="210.20" stroke="#6b6b6b" stroke-width="1" />
<line x1="190.10" y1="222.75" x2="187.60" y2="222.75" stroke="#6b6b6b" stroke-width="1" />
<line x1="190.10" y1="235.30" x2="187.60" y2="235.30" stroke="#6b6b6b" stroke-width="1" />
<line x1="190.10" y1="247.85" x2="187.60" y2="247.85" stroke="#6b6b6b" stroke-width="1" />
<line x1="190.10" y1="260.40" x2="187.60" y2="260.40" stroke="#6b6b6b" stroke-width="1" />
<line x1="190.10" y1="272.95" x2="187.60" y2="272.95" stroke="#6b6b6b" stroke-width="1" />
<line x1="190.10" y1="285.50" x2="187.60" y2="285.50" stroke="#6b6b6b" stroke-width="1" />
<line x1="33.70" y1="288.30" x2="36.20" y2="288.30" stroke="#6b6b6b" stroke-width="1" />
<line x1="33.70" y1="278.82" x2="35.10" y2="278.82" stroke="#6b6b6b" stroke-width="0.6" />
<line x1="33.70" y1="273.27" x2="35.10" y2="273.27" stroke="#6b6b6b" stroke-width="0.6" />
<line x1="33.70" y1="269.34" x2="35.10" y2="269.34" stroke="#6b6b6b" stroke-width="0.6" />
<line x1="33.70" y1="266.28" x2="35.10" y2="266.28" stroke="#6b6b6b" stroke-width="0.6" />
<line x1="33.70" y1="263.79" x2="35.10" y2="263.79" stroke="#6b6b6b" stroke-width="0.6" />
<line x1="33.70" y1="261.68" x2="35.10" y2="261.68" stroke="#6b6b6b" stroke-width="0.6" />
<line x1="33.70" y1="259.85" x2="35.10" y2="259.85" stroke="#6b6b6b" stroke-width="0.6" />
<line x1="33.70" y1="258.24" x2="35.10" y2="258.24" stroke="#6b6b6b" stroke-width="0.6" />
<line x1="33.70" y1="256.80" x2="36.20" y2="256.80" stroke="#6b6b6b" stroke-width="1" />
<line x1="33.70" y1="247.32" x2="35.10" y2="247.32" stroke="#6b6b6b" stroke-width="0.6" />
<line x1="33.70" y1="241.77" x2="35.10" y2="241.77" stroke="#6b6b6b" stroke-width="0.6" />
<line x1="33.70" y1="237.84" x2="35.10" y2="237.84" stroke="#6b6b6b" stroke-width="0.6" />
<line x1="33.70" y1="234.78" x2="35.10" y2="234.78" stroke="#6b6b6b" stroke-width="0.6" />
<line x1="33.70" y1="232.29" x2="35.10" y2="232.29" stroke="#6b6b6b" stroke-width="0.6" />
<line x1="33.70" y1="230.18" x2="35.10" y2="230.18" stroke="#6b6b6b" stroke-width="0.6" />
<line x1="33.70" y1="228.35" x2="35.10" y2="228.35" stroke="#6b6b6b" stroke-width="0.6" />
<line x1="33.70" y1="226.74" x2="35.10" y2="226.74" stroke="#6b6b6b" stroke-width="0.6" />
<line x1="33.70" y1="225.30" x2="36.20" y2="225.30" stroke="#6b6b6b" stroke-width="1" />
<line x1="33.70" y1="215.82" x2="35.10" y2="215.82" stroke="#6b6b6b" stroke-width="0.6" />
<line x1="33.70" y1="210.27" x2="35.10" y2="210.27" stroke="#6b6b6b" stroke-width="0.6" />
<line x1="33.70" y1="206.34" x2="35.10" y2="206.34" stroke="#6b6b6b" stroke-width="0.6" />
<line x1="33.70" y1="203.28" x2="35.10" y2="203.28" stroke="#6b6b6b" stroke-width="0.6" />
<line x1="33.70" y1="200.79" x2="35.10" y2="200.79" stroke="#6b6b6b" stroke-width="0.6" />
<line x1="33.70" y1="198.68" x2="35.10" y2="198.68" stroke="#6b6b6b" stroke-width="0.6" />
<line x1="33.70" y1="196.85" x2="35.10" y2="196.85" stroke="#6b6b6b" stroke-width="0.6" />
<line x1="33.70" y1="195.24" x2="35.10" y2="195.24" stroke="#6b6b6b" stroke-width="0.6" />
<line x1="33.70" y1="193.80" x2="36.20" y2="193.80" stroke="#6b6b6b" stroke-width="1" />
<line x1="33.70" y1="184.32" x2="35.10" y2="184.32" stroke="#6b6b6b" stroke-width="0.6" />
<line x1="33.70" y1="178.77" x2="35.10" y2="178.77" stroke="#6b6b6b" stroke-width="0.6" />
<line x1="33.70" y1="174.84" x2="35.10" y2="174.84" stroke="#6b6b6b" stroke-width="0.6" />
<text x="46.80" y="310.30" font-size="9" text-anchor="middle" fill="#1a1a1a" stroke="#1a1a1a" stroke-width="0.3" >0</text>
<text x="73.00" y="310.30" font-size="9" text-anchor="middle" fill="#1a1a1a" stroke="#1a1a1a" stroke-width="0.3" >200</text>
<text x="99.20" y="310.30" font-size="9" text-anchor="middle" fill="#1a1a1a" stroke="#1a1a1a" stroke-width="0.3" >400</text>
<text x="125.40" y="310.30" font-size="9" text-anchor="middle" fill="#1a1a1a" stroke="#1a1a1a" stroke-width="0.3" >600</text>
<text x="151.60" y="310.30" font-size="9" text-anchor="middle" fill="#1a1a1a" stroke="#1a1a1a" stroke-width="0.3" >800</text>
<text x="177.80" y="310.30" font-size="9" text-anchor="middle" fill="#1a1a1a" stroke="#1a1a1a" stroke-width="0.3" >1 000</text>
<text x="32.40" y="197.10" font-size="9" text-anchor="end" fill="#1a1a1a" stroke="#1a1a1a" stroke-width="0.3" >10<tspan font-size="5.3" dy="-3.4">7</tspan></text>
<text x="32.40" y="228.60" font-size="9" text-anchor="end" fill="#1a1a1a" stroke="#1a1a1a" stroke-width="0.3" >10<tspan font-size="5.3" dy="-3.4">6</tspan></text>
<text x="32.40" y="260.10" font-size="9" text-anchor="end" fill="#1a1a1a" stroke="#1a1a1a" stroke-width="0.3" >10<tspan font-size="5.3" dy="-3.4">5</tspan></text>
<text x="32.40" y="291.60" font-size="9" text-anchor="end" fill="#1a1a1a" stroke="#1a1a1a" stroke-width="0.3" >10<tspan font-size="5.3" dy="-3.4">4</tspan></text>
<text x="0" y="0" font-size="8.8" text-anchor="middle" fill="#1a1a1a" stroke="#1a1a1a" stroke-width="0.3" transform="translate(11.80,239.70) rotate(-90)">Resistance/Ω</text>
<text x="110.80" y="320.60" font-size="8.8" text-anchor="middle" fill="#1a1a1a" stroke="#1a1a1a" stroke-width="0.3" >Cycles</text>
<circle cx="89.7" cy="225.0" r="2.8" fill="url(#gg)"/>
<text x="95.80" y="227.20" font-size="8.8" text-anchor="start" fill="#1a1a1a" stroke="#1a1a1a" stroke-width="0.3" >OFF-state</text>
<circle cx="89.7" cy="235.5" r="2.8" fill="url(#gr)"/>
<text x="95.80" y="237.90" font-size="8.8" text-anchor="start" fill="#1a1a1a" stroke="#1a1a1a" stroke-width="0.3" >ON-state</text>
<circle cx="244.9" cy="281.4" r="2.8" fill="url(#gR)"/>
<circle cx="244.7" cy="277.5" r="2.8" fill="url(#gR)"/>
<circle cx="245.6" cy="280.5" r="2.8" fill="url(#gR)"/>
<circle cx="245.6" cy="277.7" r="2.8" fill="url(#gR)"/>
<circle cx="245.6" cy="273.5" r="2.8" fill="url(#gR)"/>
<circle cx="245.7" cy="275.3" r="2.8" fill="url(#gR)"/>
<circle cx="246.2" cy="279.8" r="2.8" fill="url(#gR)"/>
<circle cx="246.4" cy="278.8" r="2.8" fill="url(#gR)"/>
<circle cx="246.0" cy="276.7" r="2.8" fill="url(#gR)"/>
<circle cx="246.7" cy="278.2" r="2.8" fill="url(#gR)"/>
<circle cx="246.3" cy="280.8" r="2.8" fill="url(#gR)"/>
<circle cx="246.7" cy="275.8" r="2.8" fill="url(#gR)"/>
<circle cx="247.4" cy="278.3" r="2.8" fill="url(#gR)"/>
<circle cx="246.9" cy="276.1" r="2.8" fill="url(#gR)"/>
<circle cx="247.7" cy="282.9" r="2.8" fill="url(#gR)"/>
<circle cx="247.3" cy="281.5" r="2.8" fill="url(#gR)"/>
<circle cx="247.6" cy="276.0" r="2.8" fill="url(#gR)"/>
<circle cx="247.7" cy="283.1" r="2.8" fill="url(#gR)"/>
<circle cx="248.0" cy="274.6" r="2.8" fill="url(#gR)"/>
<circle cx="248.2" cy="281.7" r="2.8" fill="url(#gR)"/>
<circle cx="248.4" cy="283.8" r="2.8" fill="url(#gR)"/>
<circle cx="248.5" cy="280.2" r="2.8" fill="url(#gR)"/>
<circle cx="249.3" cy="276.4" r="2.8" fill="url(#gR)"/>
<circle cx="248.9" cy="284.0" r="2.8" fill="url(#gR)"/>
<circle cx="249.0" cy="277.0" r="2.8" fill="url(#gR)"/>
<circle cx="249.4" cy="275.4" r="2.8" fill="url(#gR)"/>
<circle cx="249.8" cy="278.9" r="2.8" fill="url(#gR)"/>
<circle cx="249.6" cy="277.0" r="2.8" fill="url(#gR)"/>
<circle cx="250.0" cy="279.3" r="2.8" fill="url(#gR)"/>
<circle cx="250.7" cy="277.0" r="2.8" fill="url(#gR)"/>
<circle cx="250.1" cy="279.6" r="2.8" fill="url(#gR)"/>
<circle cx="251.0" cy="283.5" r="2.8" fill="url(#gR)"/>
<circle cx="251.2" cy="277.6" r="2.8" fill="url(#gR)"/>
<circle cx="251.4" cy="274.7" r="2.8" fill="url(#gR)"/>
<circle cx="251.5" cy="275.4" r="2.8" fill="url(#gR)"/>
<circle cx="251.8" cy="280.7" r="2.8" fill="url(#gR)"/>
<circle cx="251.7" cy="276.9" r="2.8" fill="url(#gR)"/>
<circle cx="251.5" cy="283.4" r="2.8" fill="url(#gR)"/>
<circle cx="252.0" cy="275.8" r="2.8" fill="url(#gR)"/>
<circle cx="251.8" cy="275.3" r="2.8" fill="url(#gR)"/>
<circle cx="252.2" cy="274.2" r="2.8" fill="url(#gR)"/>
<circle cx="252.5" cy="280.5" r="2.8" fill="url(#gR)"/>
<circle cx="252.4" cy="280.1" r="2.8" fill="url(#gR)"/>
<circle cx="253.0" cy="275.2" r="2.8" fill="url(#gR)"/>
<circle cx="252.7" cy="275.8" r="2.8" fill="url(#gR)"/>
<circle cx="253.4" cy="274.9" r="2.8" fill="url(#gR)"/>
<circle cx="253.5" cy="283.6" r="2.8" fill="url(#gR)"/>
<circle cx="253.4" cy="274.5" r="2.8" fill="url(#gR)"/>
<circle cx="254.1" cy="281.0" r="2.8" fill="url(#gR)"/>
<circle cx="254.0" cy="276.5" r="2.8" fill="url(#gR)"/>
<circle cx="254.3" cy="274.9" r="2.8" fill="url(#gR)"/>
<circle cx="254.4" cy="281.7" r="2.8" fill="url(#gR)"/>
<circle cx="254.4" cy="282.0" r="2.8" fill="url(#gR)"/>
<circle cx="254.8" cy="280.9" r="2.8" fill="url(#gR)"/>
<circle cx="254.7" cy="280.4" r="2.8" fill="url(#gR)"/>
<circle cx="255.3" cy="279.0" r="2.8" fill="url(#gR)"/>
<circle cx="255.4" cy="276.9" r="2.8" fill="url(#gR)"/>
<circle cx="255.5" cy="274.9" r="2.8" fill="url(#gR)"/>
<circle cx="255.9" cy="283.5" r="2.8" fill="url(#gR)"/>
<circle cx="256.3" cy="279.4" r="2.8" fill="url(#gR)"/>
<circle cx="256.2" cy="281.1" r="2.8" fill="url(#gR)"/>
<circle cx="256.6" cy="278.1" r="2.8" fill="url(#gR)"/>
<circle cx="256.5" cy="279.9" r="2.8" fill="url(#gR)"/>
<circle cx="256.4" cy="278.0" r="2.8" fill="url(#gR)"/>
<circle cx="257.0" cy="276.3" r="2.8" fill="url(#gR)"/>
<circle cx="257.3" cy="279.6" r="2.8" fill="url(#gR)"/>
<circle cx="257.2" cy="278.7" r="2.8" fill="url(#gR)"/>
<circle cx="257.3" cy="279.7" r="2.8" fill="url(#gR)"/>
<circle cx="257.8" cy="283.6" r="2.8" fill="url(#gR)"/>
<circle cx="257.8" cy="277.2" r="2.8" fill="url(#gR)"/>
<circle cx="258.4" cy="282.5" r="2.8" fill="url(#gR)"/>
<circle cx="258.5" cy="281.1" r="2.8" fill="url(#gR)"/>
<circle cx="258.3" cy="282.1" r="2.8" fill="url(#gR)"/>
<circle cx="258.6" cy="278.3" r="2.8" fill="url(#gR)"/>
<circle cx="258.9" cy="274.7" r="2.8" fill="url(#gR)"/>
<circle cx="259.2" cy="279.6" r="2.8" fill="url(#gR)"/>
<circle cx="259.6" cy="277.5" r="2.8" fill="url(#gR)"/>
<circle cx="259.4" cy="281.4" r="2.8" fill="url(#gR)"/>
<circle cx="259.9" cy="276.3" r="2.8" fill="url(#gR)"/>
<circle cx="259.8" cy="280.8" r="2.8" fill="url(#gR)"/>
<circle cx="259.7" cy="275.9" r="2.8" fill="url(#gR)"/>
<circle cx="260.5" cy="275.9" r="2.8" fill="url(#gR)"/>
<circle cx="260.5" cy="278.4" r="2.8" fill="url(#gR)"/>
<circle cx="260.7" cy="280.9" r="2.8" fill="url(#gR)"/>
<circle cx="260.4" cy="276.8" r="2.8" fill="url(#gR)"/>
<circle cx="260.6" cy="283.6" r="2.8" fill="url(#gR)"/>
<circle cx="261.0" cy="284.0" r="2.8" fill="url(#gR)"/>
<circle cx="261.1" cy="273.9" r="2.8" fill="url(#gR)"/>
<circle cx="261.4" cy="281.6" r="2.8" fill="url(#gR)"/>
<circle cx="261.3" cy="275.1" r="2.8" fill="url(#gR)"/>
<circle cx="261.9" cy="274.1" r="2.8" fill="url(#gR)"/>
<circle cx="262.2" cy="277.4" r="2.8" fill="url(#gR)"/>
<circle cx="262.0" cy="274.8" r="2.8" fill="url(#gR)"/>
<circle cx="262.2" cy="279.2" r="2.8" fill="url(#gR)"/>
<circle cx="262.4" cy="280.7" r="2.8" fill="url(#gR)"/>
<circle cx="262.9" cy="281.3" r="2.8" fill="url(#gR)"/>
<circle cx="263.1" cy="277.5" r="2.8" fill="url(#gR)"/>
<circle cx="263.5" cy="276.7" r="2.8" fill="url(#gR)"/>
<circle cx="263.2" cy="281.1" r="2.8" fill="url(#gR)"/>
<circle cx="263.6" cy="282.3" r="2.8" fill="url(#gR)"/>
<circle cx="263.9" cy="282.4" r="2.8" fill="url(#gR)"/>
<circle cx="263.9" cy="283.0" r="2.8" fill="url(#gR)"/>
<circle cx="264.3" cy="276.3" r="2.8" fill="url(#gR)"/>
<circle cx="264.3" cy="283.1" r="2.8" fill="url(#gR)"/>
<circle cx="264.6" cy="280.6" r="2.8" fill="url(#gR)"/>
<circle cx="264.4" cy="275.9" r="2.8" fill="url(#gR)"/>
<circle cx="264.6" cy="279.3" r="2.8" fill="url(#gR)"/>
<circle cx="265.3" cy="277.1" r="2.8" fill="url(#gR)"/>
<circle cx="265.2" cy="276.2" r="2.8" fill="url(#gR)"/>
<circle cx="265.5" cy="283.6" r="2.8" fill="url(#gR)"/>
<circle cx="265.4" cy="278.1" r="2.8" fill="url(#gR)"/>
<circle cx="265.7" cy="280.7" r="2.8" fill="url(#gR)"/>
<circle cx="266.3" cy="280.3" r="2.8" fill="url(#gR)"/>
<circle cx="265.9" cy="281.8" r="2.8" fill="url(#gR)"/>
<circle cx="266.5" cy="283.0" r="2.8" fill="url(#gR)"/>
<circle cx="266.2" cy="272.9" r="2.8" fill="url(#gR)"/>
<circle cx="266.8" cy="273.8" r="2.8" fill="url(#gR)"/>
<circle cx="266.5" cy="276.9" r="2.8" fill="url(#gR)"/>
<circle cx="266.8" cy="283.3" r="2.8" fill="url(#gR)"/>
<circle cx="267.3" cy="281.7" r="2.8" fill="url(#gR)"/>
<circle cx="267.7" cy="281.2" r="2.8" fill="url(#gR)"/>
<circle cx="267.6" cy="279.7" r="2.8" fill="url(#gR)"/>
<circle cx="267.6" cy="277.1" r="2.8" fill="url(#gR)"/>
<circle cx="267.7" cy="273.3" r="2.8" fill="url(#gR)"/>
<circle cx="268.6" cy="274.7" r="2.8" fill="url(#gR)"/>
<circle cx="268.1" cy="279.9" r="2.8" fill="url(#gR)"/>
<circle cx="268.6" cy="274.2" r="2.8" fill="url(#gR)"/>
<circle cx="268.8" cy="276.8" r="2.8" fill="url(#gR)"/>
<circle cx="268.8" cy="281.5" r="2.8" fill="url(#gR)"/>
<circle cx="269.3" cy="278.5" r="2.8" fill="url(#gR)"/>
<circle cx="269.1" cy="268.9" r="2.8" fill="url(#gR)"/>
<circle cx="269.7" cy="270.5" r="2.8" fill="url(#gR)"/>
<circle cx="270.1" cy="281.8" r="2.8" fill="url(#gR)"/>
<circle cx="270.0" cy="281.5" r="2.8" fill="url(#gR)"/>
<circle cx="270.3" cy="278.1" r="2.8" fill="url(#gR)"/>
<circle cx="270.3" cy="273.2" r="2.8" fill="url(#gR)"/>
<circle cx="270.4" cy="270.6" r="2.8" fill="url(#gR)"/>
<circle cx="271.1" cy="274.2" r="2.8" fill="url(#gR)"/>
<circle cx="270.9" cy="271.7" r="2.8" fill="url(#gR)"/>
<circle cx="270.7" cy="269.4" r="2.8" fill="url(#gR)"/>
<circle cx="271.4" cy="276.5" r="2.8" fill="url(#gR)"/>
<circle cx="271.9" cy="276.6" r="2.8" fill="url(#gR)"/>
<circle cx="271.8" cy="275.8" r="2.8" fill="url(#gR)"/>
<circle cx="271.5" cy="282.1" r="2.8" fill="url(#gR)"/>
<circle cx="271.7" cy="280.4" r="2.8" fill="url(#gR)"/>
<circle cx="272.4" cy="282.1" r="2.8" fill="url(#gR)"/>
<circle cx="272.7" cy="280.6" r="2.8" fill="url(#gR)"/>
<circle cx="272.3" cy="269.0" r="2.8" fill="url(#gR)"/>
<circle cx="272.4" cy="274.8" r="2.8" fill="url(#gR)"/>
<circle cx="272.7" cy="282.6" r="2.8" fill="url(#gR)"/>
<circle cx="273.3" cy="271.9" r="2.8" fill="url(#gR)"/>
<circle cx="273.6" cy="269.9" r="2.8" fill="url(#gR)"/>
<circle cx="273.6" cy="273.7" r="2.8" fill="url(#gR)"/>
<circle cx="273.4" cy="281.4" r="2.8" fill="url(#gR)"/>
<circle cx="273.8" cy="272.2" r="2.8" fill="url(#gR)"/>
<circle cx="273.9" cy="279.4" r="2.8" fill="url(#gR)"/>
<circle cx="274.1" cy="275.1" r="2.8" fill="url(#gR)"/>
<circle cx="274.4" cy="277.8" r="2.8" fill="url(#gR)"/>
<circle cx="274.3" cy="278.8" r="2.8" fill="url(#gR)"/>
<circle cx="275.2" cy="277.6" r="2.8" fill="url(#gR)"/>
<circle cx="274.8" cy="273.2" r="2.8" fill="url(#gR)"/>
<circle cx="275.0" cy="280.8" r="2.8" fill="url(#gR)"/>
<circle cx="275.4" cy="277.3" r="2.8" fill="url(#gR)"/>
<circle cx="275.5" cy="272.9" r="2.8" fill="url(#gR)"/>
<circle cx="275.9" cy="281.4" r="2.8" fill="url(#gR)"/>
<circle cx="276.1" cy="274.5" r="2.8" fill="url(#gR)"/>
<circle cx="275.9" cy="283.9" r="2.8" fill="url(#gR)"/>
<circle cx="276.1" cy="280.7" r="2.8" fill="url(#gR)"/>
<circle cx="276.3" cy="275.2" r="2.8" fill="url(#gR)"/>
<circle cx="276.9" cy="279.2" r="2.8" fill="url(#gR)"/>
<circle cx="277.0" cy="280.8" r="2.8" fill="url(#gR)"/>
<circle cx="276.9" cy="279.7" r="2.8" fill="url(#gR)"/>
<circle cx="277.0" cy="276.2" r="2.8" fill="url(#gR)"/>
<circle cx="277.2" cy="283.8" r="2.8" fill="url(#gR)"/>
<circle cx="277.6" cy="282.5" r="2.8" fill="url(#gR)"/>
<circle cx="277.8" cy="282.6" r="2.8" fill="url(#gR)"/>
<circle cx="278.3" cy="283.5" r="2.8" fill="url(#gR)"/>
<circle cx="277.9" cy="281.9" r="2.8" fill="url(#gR)"/>
<circle cx="278.1" cy="281.2" r="2.8" fill="url(#gR)"/>
<circle cx="278.6" cy="280.7" r="2.8" fill="url(#gR)"/>
<circle cx="278.8" cy="277.0" r="2.8" fill="url(#gR)"/>
<circle cx="279.0" cy="278.6" r="2.8" fill="url(#gR)"/>
<circle cx="278.9" cy="281.1" r="2.8" fill="url(#gR)"/>
<circle cx="279.3" cy="280.1" r="2.8" fill="url(#gR)"/>
<circle cx="279.9" cy="283.4" r="2.8" fill="url(#gR)"/>
<circle cx="279.7" cy="279.1" r="2.8" fill="url(#gR)"/>
<circle cx="279.8" cy="280.5" r="2.8" fill="url(#gR)"/>
<circle cx="280.5" cy="283.7" r="2.8" fill="url(#gR)"/>
<circle cx="280.6" cy="278.7" r="2.8" fill="url(#gR)"/>
<circle cx="280.8" cy="282.9" r="2.8" fill="url(#gR)"/>
<circle cx="280.3" cy="280.1" r="2.8" fill="url(#gR)"/>
<circle cx="280.7" cy="281.9" r="2.8" fill="url(#gR)"/>
<circle cx="280.8" cy="282.0" r="2.8" fill="url(#gR)"/>
<circle cx="281.0" cy="280.9" r="2.8" fill="url(#gR)"/>
<circle cx="281.3" cy="281.0" r="2.8" fill="url(#gR)"/>
<circle cx="282.0" cy="276.9" r="2.8" fill="url(#gR)"/>
<circle cx="282.0" cy="282.1" r="2.8" fill="url(#gR)"/>
<circle cx="282.0" cy="278.9" r="2.8" fill="url(#gR)"/>
<circle cx="282.0" cy="280.5" r="2.8" fill="url(#gR)"/>
<circle cx="282.1" cy="281.4" r="2.8" fill="url(#gR)"/>
<circle cx="282.5" cy="277.0" r="2.8" fill="url(#gR)"/>
<circle cx="282.9" cy="279.8" r="2.8" fill="url(#gR)"/>
<circle cx="283.1" cy="281.5" r="2.8" fill="url(#gR)"/>
<circle cx="283.5" cy="279.0" r="2.8" fill="url(#gR)"/>
<circle cx="283.4" cy="279.7" r="2.8" fill="url(#gR)"/>
<circle cx="283.8" cy="276.8" r="2.8" fill="url(#gR)"/>
<circle cx="284.0" cy="275.1" r="2.8" fill="url(#gR)"/>
<circle cx="284.3" cy="280.8" r="2.8" fill="url(#gR)"/>
<circle cx="284.1" cy="282.5" r="2.8" fill="url(#gR)"/>
<circle cx="284.2" cy="280.9" r="2.8" fill="url(#gR)"/>
<circle cx="284.9" cy="277.0" r="2.8" fill="url(#gR)"/>
<circle cx="284.9" cy="277.9" r="2.8" fill="url(#gR)"/>
<circle cx="284.6" cy="273.8" r="2.8" fill="url(#gR)"/>
<circle cx="285.2" cy="282.4" r="2.8" fill="url(#gR)"/>
<circle cx="285.4" cy="281.4" r="2.8" fill="url(#gR)"/>
<circle cx="285.5" cy="275.7" r="2.8" fill="url(#gR)"/>
<circle cx="285.7" cy="279.3" r="2.8" fill="url(#gR)"/>
<circle cx="285.8" cy="283.8" r="2.8" fill="url(#gR)"/>
<circle cx="286.2" cy="281.2" r="2.8" fill="url(#gR)"/>
<circle cx="286.6" cy="275.9" r="2.8" fill="url(#gR)"/>
<circle cx="286.8" cy="278.8" r="2.8" fill="url(#gR)"/>
<circle cx="286.4" cy="282.9" r="2.8" fill="url(#gR)"/>
<circle cx="286.9" cy="280.6" r="2.8" fill="url(#gR)"/>
<circle cx="286.8" cy="281.6" r="2.8" fill="url(#gR)"/>
<circle cx="286.9" cy="277.5" r="2.8" fill="url(#gR)"/>
<circle cx="287.7" cy="279.0" r="2.8" fill="url(#gR)"/>
<circle cx="287.7" cy="279.6" r="2.8" fill="url(#gR)"/>
<circle cx="287.5" cy="284.0" r="2.8" fill="url(#gR)"/>
<circle cx="288.3" cy="279.6" r="2.8" fill="url(#gR)"/>
<circle cx="288.3" cy="279.6" r="2.8" fill="url(#gR)"/>
<circle cx="288.7" cy="282.5" r="2.8" fill="url(#gR)"/>
<circle cx="288.4" cy="278.1" r="2.8" fill="url(#gR)"/>
<circle cx="288.5" cy="283.2" r="2.8" fill="url(#gR)"/>
<circle cx="289.1" cy="279.0" r="2.8" fill="url(#gR)"/>
<circle cx="289.2" cy="279.3" r="2.8" fill="url(#gR)"/>
<circle cx="289.5" cy="282.9" r="2.8" fill="url(#gR)"/>
<circle cx="289.3" cy="282.4" r="2.8" fill="url(#gR)"/>
<circle cx="289.7" cy="281.7" r="2.8" fill="url(#gR)"/>
<circle cx="290.0" cy="280.3" r="2.8" fill="url(#gR)"/>
<circle cx="290.3" cy="283.5" r="2.8" fill="url(#gR)"/>
<circle cx="290.4" cy="281.7" r="2.8" fill="url(#gR)"/>
<circle cx="290.4" cy="283.8" r="2.8" fill="url(#gR)"/>
<circle cx="290.4" cy="281.5" r="2.8" fill="url(#gR)"/>
<circle cx="291.0" cy="280.2" r="2.8" fill="url(#gR)"/>
<circle cx="291.0" cy="284.0" r="2.8" fill="url(#gR)"/>
<circle cx="291.5" cy="283.2" r="2.8" fill="url(#gR)"/>
<circle cx="291.2" cy="280.2" r="2.8" fill="url(#gR)"/>
<circle cx="291.6" cy="282.1" r="2.8" fill="url(#gR)"/>
<circle cx="291.7" cy="280.5" r="2.8" fill="url(#gR)"/>
<circle cx="291.5" cy="281.2" r="2.8" fill="url(#gR)"/>
<circle cx="292.3" cy="282.8" r="2.8" fill="url(#gR)"/>
<circle cx="292.4" cy="283.8" r="2.8" fill="url(#gR)"/>
<circle cx="292.6" cy="283.1" r="2.8" fill="url(#gR)"/>
<circle cx="292.5" cy="280.4" r="2.8" fill="url(#gR)"/>
<circle cx="292.8" cy="280.2" r="2.8" fill="url(#gR)"/>
<circle cx="293.1" cy="283.1" r="2.8" fill="url(#gR)"/>
<circle cx="292.9" cy="279.3" r="2.8" fill="url(#gR)"/>
<circle cx="293.5" cy="282.4" r="2.8" fill="url(#gR)"/>
<circle cx="293.4" cy="281.9" r="2.8" fill="url(#gR)"/>
<circle cx="293.9" cy="279.9" r="2.8" fill="url(#gR)"/>
<circle cx="293.9" cy="280.0" r="2.8" fill="url(#gR)"/>
<circle cx="293.8" cy="282.6" r="2.8" fill="url(#gR)"/>
<circle cx="294.1" cy="282.8" r="2.8" fill="url(#gR)"/>
<circle cx="294.8" cy="283.2" r="2.8" fill="url(#gR)"/>
<circle cx="295.1" cy="282.5" r="2.8" fill="url(#gR)"/>
<circle cx="295.2" cy="283.7" r="2.8" fill="url(#gR)"/>
<circle cx="295.4" cy="279.2" r="2.8" fill="url(#gR)"/>
<circle cx="295.1" cy="278.7" r="2.8" fill="url(#gR)"/>
<circle cx="295.4" cy="283.1" r="2.8" fill="url(#gR)"/>
<circle cx="295.5" cy="282.6" r="2.8" fill="url(#gR)"/>
<circle cx="295.5" cy="278.5" r="2.8" fill="url(#gR)"/>
<circle cx="296.3" cy="283.3" r="2.8" fill="url(#gR)"/>
<circle cx="296.2" cy="283.7" r="2.8" fill="url(#gR)"/>
<circle cx="296.3" cy="282.5" r="2.8" fill="url(#gR)"/>
<circle cx="296.4" cy="278.4" r="2.8" fill="url(#gR)"/>
<circle cx="296.8" cy="281.0" r="2.8" fill="url(#gR)"/>
<circle cx="297.0" cy="277.6" r="2.8" fill="url(#gR)"/>
<circle cx="296.8" cy="279.6" r="2.8" fill="url(#gR)"/>
<circle cx="297.3" cy="277.4" r="2.8" fill="url(#gR)"/>
<circle cx="297.8" cy="283.9" r="2.8" fill="url(#gR)"/>
<circle cx="297.8" cy="279.1" r="2.8" fill="url(#gR)"/>
<circle cx="297.9" cy="283.7" r="2.8" fill="url(#gR)"/>
<circle cx="298.4" cy="277.1" r="2.8" fill="url(#gR)"/>
<circle cx="298.6" cy="281.7" r="2.8" fill="url(#gR)"/>
<circle cx="298.9" cy="282.7" r="2.8" fill="url(#gR)"/>
<circle cx="298.5" cy="282.3" r="2.8" fill="url(#gR)"/>
<circle cx="298.7" cy="276.5" r="2.8" fill="url(#gR)"/>
<circle cx="298.9" cy="279.5" r="2.8" fill="url(#gR)"/>
<circle cx="299.1" cy="279.8" r="2.8" fill="url(#gR)"/>
<circle cx="299.3" cy="281.3" r="2.8" fill="url(#gR)"/>
<circle cx="299.3" cy="279.7" r="2.8" fill="url(#gR)"/>
<circle cx="300.2" cy="280.7" r="2.8" fill="url(#gR)"/>
<circle cx="299.9" cy="282.4" r="2.8" fill="url(#gR)"/>
<circle cx="300.5" cy="282.8" r="2.8" fill="url(#gR)"/>
<circle cx="300.7" cy="279.4" r="2.8" fill="url(#gR)"/>
<circle cx="300.3" cy="276.7" r="2.8" fill="url(#gR)"/>
<circle cx="300.6" cy="282.8" r="2.8" fill="url(#gR)"/>
<circle cx="301.2" cy="277.1" r="2.8" fill="url(#gR)"/>
<circle cx="300.9" cy="278.2" r="2.8" fill="url(#gR)"/>
<circle cx="301.2" cy="278.4" r="2.8" fill="url(#gR)"/>
<circle cx="301.3" cy="280.6" r="2.8" fill="url(#gR)"/>
<circle cx="301.8" cy="283.5" r="2.8" fill="url(#gR)"/>
<circle cx="301.9" cy="277.7" r="2.8" fill="url(#gR)"/>
<circle cx="301.7" cy="283.2" r="2.8" fill="url(#gR)"/>
<circle cx="302.1" cy="277.9" r="2.8" fill="url(#gR)"/>
<circle cx="302.9" cy="280.4" r="2.8" fill="url(#gR)"/>
<circle cx="302.7" cy="279.7" r="2.8" fill="url(#gR)"/>
<circle cx="303.0" cy="275.4" r="2.8" fill="url(#gR)"/>
<circle cx="302.8" cy="275.9" r="2.8" fill="url(#gR)"/>
<circle cx="303.3" cy="280.6" r="2.8" fill="url(#gR)"/>
<circle cx="303.2" cy="276.1" r="2.8" fill="url(#gR)"/>
<circle cx="304.0" cy="275.5" r="2.8" fill="url(#gR)"/>
<circle cx="303.8" cy="283.8" r="2.8" fill="url(#gR)"/>
<circle cx="304.3" cy="281.5" r="2.8" fill="url(#gR)"/>
<circle cx="303.8" cy="283.4" r="2.8" fill="url(#gR)"/>
<circle cx="304.6" cy="276.3" r="2.8" fill="url(#gR)"/>
<circle cx="304.4" cy="282.5" r="2.8" fill="url(#gR)"/>
<circle cx="304.6" cy="275.0" r="2.8" fill="url(#gR)"/>
<circle cx="305.3" cy="279.7" r="2.8" fill="url(#gR)"/>
<circle cx="305.0" cy="274.7" r="2.8" fill="url(#gR)"/>
<circle cx="305.0" cy="276.0" r="2.8" fill="url(#gR)"/>
<circle cx="305.7" cy="277.5" r="2.8" fill="url(#gR)"/>
<circle cx="305.4" cy="277.4" r="2.8" fill="url(#gR)"/>
<circle cx="305.5" cy="283.5" r="2.8" fill="url(#gR)"/>
<circle cx="306.4" cy="276.8" r="2.8" fill="url(#gR)"/>
<circle cx="306.1" cy="278.3" r="2.8" fill="url(#gR)"/>
<circle cx="306.3" cy="280.8" r="2.8" fill="url(#gR)"/>
<circle cx="306.5" cy="280.0" r="2.8" fill="url(#gR)"/>
<circle cx="307.0" cy="277.5" r="2.8" fill="url(#gR)"/>
<circle cx="307.1" cy="281.2" r="2.8" fill="url(#gR)"/>
<circle cx="307.1" cy="281.0" r="2.8" fill="url(#gR)"/>
<circle cx="307.1" cy="276.0" r="2.8" fill="url(#gR)"/>
<circle cx="307.6" cy="276.7" r="2.8" fill="url(#gR)"/>
<circle cx="307.4" cy="274.8" r="2.8" fill="url(#gR)"/>
<circle cx="307.9" cy="277.5" r="2.8" fill="url(#gR)"/>
<circle cx="308.4" cy="277.7" r="2.8" fill="url(#gR)"/>
<circle cx="308.5" cy="275.4" r="2.8" fill="url(#gR)"/>
<circle cx="308.4" cy="277.9" r="2.8" fill="url(#gR)"/>
<circle cx="308.6" cy="283.7" r="2.8" fill="url(#gR)"/>
<circle cx="309.1" cy="278.5" r="2.8" fill="url(#gR)"/>
<circle cx="309.2" cy="274.6" r="2.8" fill="url(#gR)"/>
<circle cx="309.2" cy="273.3" r="2.8" fill="url(#gR)"/>
<circle cx="309.4" cy="277.6" r="2.8" fill="url(#gR)"/>
<circle cx="310.0" cy="273.8" r="2.8" fill="url(#gR)"/>
<circle cx="310.0" cy="274.8" r="2.8" fill="url(#gR)"/>
<circle cx="310.3" cy="273.8" r="2.8" fill="url(#gR)"/>
<circle cx="310.1" cy="279.8" r="2.8" fill="url(#gR)"/>
<circle cx="310.5" cy="277.5" r="2.8" fill="url(#gR)"/>
<circle cx="310.6" cy="272.7" r="2.8" fill="url(#gR)"/>
<circle cx="310.7" cy="275.1" r="2.8" fill="url(#gR)"/>
<circle cx="310.6" cy="283.3" r="2.8" fill="url(#gR)"/>
<circle cx="310.9" cy="276.5" r="2.8" fill="url(#gR)"/>
<circle cx="311.4" cy="281.9" r="2.8" fill="url(#gR)"/>
<circle cx="311.8" cy="276.9" r="2.8" fill="url(#gR)"/>
<circle cx="312.1" cy="282.1" r="2.8" fill="url(#gR)"/>
<circle cx="311.6" cy="282.7" r="2.8" fill="url(#gR)"/>
<circle cx="312.2" cy="278.1" r="2.8" fill="url(#gR)"/>
<circle cx="312.2" cy="280.7" r="2.8" fill="url(#gR)"/>
<circle cx="312.5" cy="274.3" r="2.8" fill="url(#gR)"/>
<circle cx="313.1" cy="282.5" r="2.8" fill="url(#gR)"/>
<circle cx="312.5" cy="280.4" r="2.8" fill="url(#gR)"/>
<circle cx="313.0" cy="280.4" r="2.8" fill="url(#gR)"/>
<circle cx="313.6" cy="281.9" r="2.8" fill="url(#gR)"/>
<circle cx="313.7" cy="278.8" r="2.8" fill="url(#gR)"/>
<circle cx="314.0" cy="281.9" r="2.8" fill="url(#gR)"/>
<circle cx="313.7" cy="283.6" r="2.8" fill="url(#gR)"/>
<circle cx="314.3" cy="277.0" r="2.8" fill="url(#gR)"/>
<circle cx="314.1" cy="283.4" r="2.8" fill="url(#gR)"/>
<circle cx="314.4" cy="283.4" r="2.8" fill="url(#gR)"/>
<circle cx="314.9" cy="274.0" r="2.8" fill="url(#gR)"/>
<circle cx="315.0" cy="281.4" r="2.8" fill="url(#gR)"/>
<circle cx="314.8" cy="279.2" r="2.8" fill="url(#gR)"/>
<circle cx="315.0" cy="275.2" r="2.8" fill="url(#gR)"/>
<circle cx="315.3" cy="276.2" r="2.8" fill="url(#gR)"/>
<circle cx="315.7" cy="275.6" r="2.8" fill="url(#gR)"/>
<circle cx="315.8" cy="282.5" r="2.8" fill="url(#gR)"/>
<circle cx="315.5" cy="278.7" r="2.8" fill="url(#gR)"/>
<circle cx="315.8" cy="273.7" r="2.8" fill="url(#gR)"/>
<circle cx="316.6" cy="282.3" r="2.8" fill="url(#gR)"/>
<circle cx="316.7" cy="278.0" r="2.8" fill="url(#gR)"/>
<circle cx="317.0" cy="281.9" r="2.8" fill="url(#gR)"/>
<circle cx="317.2" cy="280.9" r="2.8" fill="url(#gR)"/>
<circle cx="316.7" cy="277.6" r="2.8" fill="url(#gR)"/>
<circle cx="316.9" cy="283.6" r="2.8" fill="url(#gR)"/>
<circle cx="317.4" cy="274.1" r="2.8" fill="url(#gR)"/>
<circle cx="318.0" cy="282.8" r="2.8" fill="url(#gR)"/>
<circle cx="317.6" cy="278.7" r="2.8" fill="url(#gR)"/>
<circle cx="318.2" cy="276.3" r="2.8" fill="url(#gR)"/>
<circle cx="317.9" cy="278.4" r="2.8" fill="url(#gR)"/>
<circle cx="318.2" cy="278.9" r="2.8" fill="url(#gR)"/>
<circle cx="318.9" cy="283.2" r="2.8" fill="url(#gR)"/>
<circle cx="318.9" cy="283.7" r="2.8" fill="url(#gR)"/>
<circle cx="318.8" cy="281.4" r="2.8" fill="url(#gR)"/>
<circle cx="318.9" cy="280.8" r="2.8" fill="url(#gR)"/>
<circle cx="319.5" cy="276.1" r="2.8" fill="url(#gR)"/>
<circle cx="319.5" cy="278.1" r="2.8" fill="url(#gR)"/>
<circle cx="319.6" cy="277.3" r="2.8" fill="url(#gR)"/>
<circle cx="320.0" cy="276.3" r="2.8" fill="url(#gR)"/>
<circle cx="319.7" cy="276.9" r="2.8" fill="url(#gR)"/>
<circle cx="320.2" cy="278.5" r="2.8" fill="url(#gR)"/>
<circle cx="320.7" cy="277.4" r="2.8" fill="url(#gR)"/>
<circle cx="320.6" cy="279.9" r="2.8" fill="url(#gR)"/>
<circle cx="320.7" cy="275.8" r="2.8" fill="url(#gR)"/>
<circle cx="320.7" cy="282.8" r="2.8" fill="url(#gR)"/>
<circle cx="321.0" cy="280.0" r="2.8" fill="url(#gR)"/>
<circle cx="321.4" cy="276.4" r="2.8" fill="url(#gR)"/>
<circle cx="321.4" cy="278.5" r="2.8" fill="url(#gR)"/>
<circle cx="321.6" cy="280.4" r="2.8" fill="url(#gR)"/>
<circle cx="321.8" cy="274.5" r="2.8" fill="url(#gR)"/>
<circle cx="322.0" cy="283.5" r="2.8" fill="url(#gR)"/>
<circle cx="322.3" cy="277.6" r="2.8" fill="url(#gR)"/>
<circle cx="322.8" cy="279.0" r="2.8" fill="url(#gR)"/>
<circle cx="322.5" cy="278.4" r="2.8" fill="url(#gR)"/>
<circle cx="322.7" cy="282.4" r="2.8" fill="url(#gR)"/>
<circle cx="322.7" cy="276.2" r="2.8" fill="url(#gR)"/>
<circle cx="323.0" cy="278.3" r="2.8" fill="url(#gR)"/>
<circle cx="323.6" cy="283.5" r="2.8" fill="url(#gR)"/>
<circle cx="323.4" cy="277.7" r="2.8" fill="url(#gR)"/>
<circle cx="323.8" cy="273.5" r="2.8" fill="url(#gR)"/>
<circle cx="323.9" cy="277.7" r="2.8" fill="url(#gR)"/>
<circle cx="324.5" cy="277.2" r="2.8" fill="url(#gR)"/>
<circle cx="324.5" cy="277.4" r="2.8" fill="url(#gR)"/>
<circle cx="324.4" cy="281.3" r="2.8" fill="url(#gR)"/>
<circle cx="324.8" cy="274.5" r="2.8" fill="url(#gR)"/>
<circle cx="325.1" cy="273.8" r="2.8" fill="url(#gR)"/>
<circle cx="325.3" cy="278.5" r="2.8" fill="url(#gR)"/>
<circle cx="325.0" cy="278.7" r="2.8" fill="url(#gR)"/>
<circle cx="325.6" cy="279.0" r="2.8" fill="url(#gR)"/>
<circle cx="325.6" cy="275.3" r="2.8" fill="url(#gR)"/>
<circle cx="326.1" cy="275.4" r="2.8" fill="url(#gR)"/>
<circle cx="326.4" cy="277.8" r="2.8" fill="url(#gR)"/>
<circle cx="326.2" cy="275.7" r="2.8" fill="url(#gR)"/>
<circle cx="326.6" cy="278.9" r="2.8" fill="url(#gR)"/>
<circle cx="326.6" cy="276.7" r="2.8" fill="url(#gR)"/>
<circle cx="327.0" cy="278.0" r="2.8" fill="url(#gR)"/>
<circle cx="327.4" cy="275.8" r="2.8" fill="url(#gR)"/>
<circle cx="327.6" cy="277.5" r="2.8" fill="url(#gR)"/>
<circle cx="327.6" cy="277.4" r="2.8" fill="url(#gR)"/>
<circle cx="327.5" cy="276.4" r="2.8" fill="url(#gR)"/>
<circle cx="328.2" cy="283.2" r="2.8" fill="url(#gR)"/>
<circle cx="327.7" cy="279.6" r="2.8" fill="url(#gR)"/>
<circle cx="328.3" cy="282.0" r="2.8" fill="url(#gR)"/>
<circle cx="328.0" cy="275.8" r="2.8" fill="url(#gR)"/>
<circle cx="328.2" cy="282.7" r="2.8" fill="url(#gR)"/>
<circle cx="328.6" cy="278.5" r="2.8" fill="url(#gR)"/>
<circle cx="328.6" cy="276.5" r="2.8" fill="url(#gR)"/>
<circle cx="329.1" cy="283.6" r="2.8" fill="url(#gR)"/>
<circle cx="329.6" cy="283.9" r="2.8" fill="url(#gR)"/>
<circle cx="329.9" cy="283.2" r="2.8" fill="url(#gR)"/>
<circle cx="329.5" cy="278.4" r="2.8" fill="url(#gR)"/>
<circle cx="330.1" cy="275.8" r="2.8" fill="url(#gR)"/>
<circle cx="329.7" cy="280.2" r="2.8" fill="url(#gR)"/>
<circle cx="330.1" cy="276.5" r="2.8" fill="url(#gR)"/>
<circle cx="330.8" cy="281.4" r="2.8" fill="url(#gR)"/>
<circle cx="330.8" cy="283.1" r="2.8" fill="url(#gR)"/>
<circle cx="331.0" cy="280.6" r="2.8" fill="url(#gR)"/>
<circle cx="331.0" cy="276.3" r="2.8" fill="url(#gR)"/>
<circle cx="331.4" cy="278.3" r="2.8" fill="url(#gR)"/>
<circle cx="331.8" cy="282.2" r="2.8" fill="url(#gR)"/>
<circle cx="331.5" cy="279.9" r="2.8" fill="url(#gR)"/>
<circle cx="332.0" cy="283.3" r="2.8" fill="url(#gR)"/>
<circle cx="332.3" cy="281.5" r="2.8" fill="url(#gR)"/>
<circle cx="332.0" cy="282.6" r="2.8" fill="url(#gR)"/>
<circle cx="332.5" cy="280.4" r="2.8" fill="url(#gR)"/>
<circle cx="332.6" cy="279.2" r="2.8" fill="url(#gR)"/>
<circle cx="332.5" cy="279.8" r="2.8" fill="url(#gR)"/>
<circle cx="333.0" cy="283.5" r="2.8" fill="url(#gR)"/>
<circle cx="333.4" cy="276.4" r="2.8" fill="url(#gR)"/>
<circle cx="333.1" cy="278.2" r="2.8" fill="url(#gR)"/>
<circle cx="333.2" cy="279.4" r="2.8" fill="url(#gR)"/>
<circle cx="333.7" cy="283.3" r="2.8" fill="url(#gR)"/>
<circle cx="334.0" cy="276.5" r="2.8" fill="url(#gR)"/>
<circle cx="333.8" cy="283.3" r="2.8" fill="url(#gR)"/>
<circle cx="333.9" cy="278.6" r="2.8" fill="url(#gR)"/>
<circle cx="334.1" cy="282.2" r="2.8" fill="url(#gR)"/>
<circle cx="334.6" cy="279.2" r="2.8" fill="url(#gR)"/>
<circle cx="334.9" cy="280.2" r="2.8" fill="url(#gR)"/>
<circle cx="335.1" cy="279.4" r="2.8" fill="url(#gR)"/>
<circle cx="335.3" cy="277.0" r="2.8" fill="url(#gR)"/>
<circle cx="335.3" cy="283.4" r="2.8" fill="url(#gR)"/>
<circle cx="335.8" cy="276.8" r="2.8" fill="url(#gR)"/>
<circle cx="335.7" cy="283.6" r="2.8" fill="url(#gR)"/>
<circle cx="336.0" cy="282.1" r="2.8" fill="url(#gR)"/>
<circle cx="336.1" cy="277.9" r="2.8" fill="url(#gR)"/>
<circle cx="335.9" cy="280.8" r="2.8" fill="url(#gR)"/>
<circle cx="336.4" cy="277.6" r="2.8" fill="url(#gR)"/>
<circle cx="336.9" cy="283.2" r="2.8" fill="url(#gR)"/>
<circle cx="336.6" cy="280.7" r="2.8" fill="url(#gR)"/>
<circle cx="337.0" cy="278.6" r="2.8" fill="url(#gR)"/>
<circle cx="337.2" cy="279.4" r="2.8" fill="url(#gR)"/>
<circle cx="337.5" cy="281.5" r="2.8" fill="url(#gR)"/>
<circle cx="337.7" cy="281.2" r="2.8" fill="url(#gR)"/>
<circle cx="337.5" cy="280.3" r="2.8" fill="url(#gR)"/>
<circle cx="338.4" cy="283.8" r="2.8" fill="url(#gR)"/>
<circle cx="338.3" cy="278.5" r="2.8" fill="url(#gR)"/>
<circle cx="338.1" cy="281.7" r="2.8" fill="url(#gR)"/>
<circle cx="338.8" cy="277.8" r="2.8" fill="url(#gR)"/>
<circle cx="339.0" cy="276.0" r="2.8" fill="url(#gR)"/>
<circle cx="338.7" cy="278.6" r="2.8" fill="url(#gR)"/>
<circle cx="339.3" cy="279.4" r="2.8" fill="url(#gR)"/>
<circle cx="339.7" cy="279.6" r="2.8" fill="url(#gR)"/>
<circle cx="339.5" cy="281.1" r="2.8" fill="url(#gR)"/>
<circle cx="339.4" cy="281.6" r="2.8" fill="url(#gR)"/>
<circle cx="340.2" cy="283.0" r="2.8" fill="url(#gR)"/>
<circle cx="340.0" cy="281.4" r="2.8" fill="url(#gR)"/>
<circle cx="340.5" cy="278.4" r="2.8" fill="url(#gR)"/>
<circle cx="340.5" cy="277.5" r="2.8" fill="url(#gR)"/>
<circle cx="340.6" cy="279.9" r="2.8" fill="url(#gR)"/>
<circle cx="340.8" cy="282.1" r="2.8" fill="url(#gR)"/>
<circle cx="341.4" cy="276.3" r="2.8" fill="url(#gR)"/>
<circle cx="341.2" cy="282.5" r="2.8" fill="url(#gR)"/>
<circle cx="341.4" cy="276.6" r="2.8" fill="url(#gR)"/>
<circle cx="341.6" cy="276.8" r="2.8" fill="url(#gR)"/>
<circle cx="341.9" cy="278.3" r="2.8" fill="url(#gR)"/>
<circle cx="342.3" cy="276.1" r="2.8" fill="url(#gR)"/>
<circle cx="342.0" cy="276.1" r="2.8" fill="url(#gR)"/>
<circle cx="342.4" cy="280.6" r="2.8" fill="url(#gR)"/>
<circle cx="342.4" cy="276.9" r="2.8" fill="url(#gR)"/>
<circle cx="342.9" cy="275.7" r="2.8" fill="url(#gR)"/>
<circle cx="343.1" cy="279.8" r="2.8" fill="url(#gR)"/>
<circle cx="342.9" cy="278.8" r="2.8" fill="url(#gR)"/>
<circle cx="343.5" cy="276.9" r="2.8" fill="url(#gR)"/>
<circle cx="343.1" cy="276.2" r="2.8" fill="url(#gR)"/>
<circle cx="343.9" cy="275.6" r="2.8" fill="url(#gR)"/>
<circle cx="343.8" cy="277.7" r="2.8" fill="url(#gR)"/>
<circle cx="344.1" cy="276.0" r="2.8" fill="url(#gR)"/>
<circle cx="344.3" cy="281.2" r="2.8" fill="url(#gR)"/>
<circle cx="344.7" cy="277.2" r="2.8" fill="url(#gR)"/>
<circle cx="344.3" cy="276.1" r="2.8" fill="url(#gR)"/>
<circle cx="344.5" cy="280.9" r="2.8" fill="url(#gR)"/>
<circle cx="344.7" cy="279.5" r="2.8" fill="url(#gR)"/>
<circle cx="345.3" cy="277.4" r="2.8" fill="url(#gR)"/>
<circle cx="345.5" cy="279.7" r="2.8" fill="url(#gR)"/>
<circle cx="346.0" cy="281.4" r="2.8" fill="url(#gR)"/>
<circle cx="345.6" cy="281.2" r="2.8" fill="url(#gR)"/>
<circle cx="345.7" cy="279.7" r="2.8" fill="url(#gR)"/>
<circle cx="346.2" cy="274.5" r="2.8" fill="url(#gR)"/>
<circle cx="346.6" cy="282.1" r="2.8" fill="url(#gR)"/>
<circle cx="346.2" cy="279.6" r="2.8" fill="url(#gR)"/>
<circle cx="346.5" cy="282.4" r="2.8" fill="url(#gR)"/>
<circle cx="346.8" cy="279.7" r="2.8" fill="url(#gR)"/>
<circle cx="347.2" cy="283.7" r="2.8" fill="url(#gR)"/>
<circle cx="347.5" cy="279.6" r="2.8" fill="url(#gR)"/>
<circle cx="347.2" cy="282.6" r="2.8" fill="url(#gR)"/>
<circle cx="348.1" cy="281.6" r="2.8" fill="url(#gR)"/>
<circle cx="347.6" cy="280.1" r="2.8" fill="url(#gR)"/>
<circle cx="347.7" cy="282.4" r="2.8" fill="url(#gR)"/>
<circle cx="348.6" cy="278.8" r="2.8" fill="url(#gR)"/>
<circle cx="348.4" cy="280.9" r="2.8" fill="url(#gR)"/>
<circle cx="348.5" cy="277.4" r="2.8" fill="url(#gR)"/>
<circle cx="348.6" cy="283.8" r="2.8" fill="url(#gR)"/>
<circle cx="349.3" cy="275.7" r="2.8" fill="url(#gR)"/>
<circle cx="349.5" cy="277.1" r="2.8" fill="url(#gR)"/>
<circle cx="349.1" cy="276.5" r="2.8" fill="url(#gR)"/>
<circle cx="349.7" cy="282.0" r="2.8" fill="url(#gR)"/>
<circle cx="350.1" cy="276.4" r="2.8" fill="url(#gR)"/>
<circle cx="350.0" cy="283.6" r="2.8" fill="url(#gR)"/>
<circle cx="349.8" cy="276.2" r="2.8" fill="url(#gR)"/>
<circle cx="350.7" cy="281.4" r="2.8" fill="url(#gR)"/>
<circle cx="350.2" cy="282.8" r="2.8" fill="url(#gR)"/>
<circle cx="351.0" cy="282.5" r="2.8" fill="url(#gR)"/>
<circle cx="350.6" cy="283.8" r="2.8" fill="url(#gR)"/>
<circle cx="351.1" cy="277.0" r="2.8" fill="url(#gR)"/>
<circle cx="350.9" cy="274.6" r="2.8" fill="url(#gR)"/>
<circle cx="351.3" cy="283.2" r="2.8" fill="url(#gR)"/>
<circle cx="352.0" cy="274.5" r="2.8" fill="url(#gR)"/>
<circle cx="352.0" cy="282.5" r="2.8" fill="url(#gR)"/>
<circle cx="352.0" cy="281.6" r="2.8" fill="url(#gR)"/>
<circle cx="352.1" cy="279.4" r="2.8" fill="url(#gR)"/>
<circle cx="352.4" cy="279.2" r="2.8" fill="url(#gR)"/>
<circle cx="352.4" cy="284.0" r="2.8" fill="url(#gR)"/>
<circle cx="352.7" cy="281.6" r="2.8" fill="url(#gR)"/>
<circle cx="352.9" cy="277.5" r="2.8" fill="url(#gR)"/>
<circle cx="353.1" cy="278.8" r="2.8" fill="url(#gR)"/>
<circle cx="353.2" cy="277.4" r="2.8" fill="url(#gR)"/>
<circle cx="353.4" cy="279.9" r="2.8" fill="url(#gR)"/>
<circle cx="353.7" cy="283.3" r="2.8" fill="url(#gR)"/>
<circle cx="354.2" cy="277.2" r="2.8" fill="url(#gR)"/>
<circle cx="353.8" cy="277.8" r="2.8" fill="url(#gR)"/>
<circle cx="354.7" cy="281.8" r="2.8" fill="url(#gR)"/>
<circle cx="354.2" cy="276.9" r="2.8" fill="url(#gR)"/>
<circle cx="354.8" cy="281.1" r="2.8" fill="url(#gR)"/>
<circle cx="354.5" cy="282.3" r="2.8" fill="url(#gR)"/>
<circle cx="355.2" cy="280.5" r="2.8" fill="url(#gR)"/>
<circle cx="355.3" cy="282.0" r="2.8" fill="url(#gR)"/>
<circle cx="355.1" cy="282.8" r="2.8" fill="url(#gR)"/>
<circle cx="355.3" cy="279.4" r="2.8" fill="url(#gR)"/>
<circle cx="355.9" cy="283.1" r="2.8" fill="url(#gR)"/>
<circle cx="355.8" cy="280.7" r="2.8" fill="url(#gR)"/>
<circle cx="356.4" cy="284.0" r="2.8" fill="url(#gR)"/>
<circle cx="356.7" cy="278.4" r="2.8" fill="url(#gR)"/>
<circle cx="356.7" cy="280.8" r="2.8" fill="url(#gR)"/>
<circle cx="356.9" cy="280.0" r="2.8" fill="url(#gR)"/>
<circle cx="357.3" cy="278.1" r="2.8" fill="url(#gR)"/>
<circle cx="357.0" cy="278.7" r="2.8" fill="url(#gR)"/>
<circle cx="357.2" cy="281.4" r="2.8" fill="url(#gR)"/>
<circle cx="357.4" cy="281.6" r="2.8" fill="url(#gR)"/>
<circle cx="357.3" cy="283.7" r="2.8" fill="url(#gR)"/>
<circle cx="357.6" cy="283.2" r="2.8" fill="url(#gR)"/>
<circle cx="358.5" cy="278.5" r="2.8" fill="url(#gR)"/>
<circle cx="358.4" cy="279.1" r="2.8" fill="url(#gR)"/>
<circle cx="358.8" cy="282.7" r="2.8" fill="url(#gR)"/>
<circle cx="358.4" cy="279.6" r="2.8" fill="url(#gR)"/>
<circle cx="358.6" cy="279.6" r="2.8" fill="url(#gR)"/>
<circle cx="359.3" cy="279.7" r="2.8" fill="url(#gR)"/>
<circle cx="359.3" cy="280.0" r="2.8" fill="url(#gR)"/>
<circle cx="359.4" cy="280.9" r="2.8" fill="url(#gR)"/>
<circle cx="359.9" cy="282.9" r="2.8" fill="url(#gR)"/>
<circle cx="359.6" cy="279.7" r="2.8" fill="url(#gR)"/>
<circle cx="360.3" cy="283.5" r="2.8" fill="url(#gR)"/>
<circle cx="360.1" cy="278.6" r="2.8" fill="url(#gR)"/>
<circle cx="360.2" cy="280.7" r="2.8" fill="url(#gR)"/>
<circle cx="360.7" cy="281.4" r="2.8" fill="url(#gR)"/>
<circle cx="361.0" cy="276.8" r="2.8" fill="url(#gR)"/>
<circle cx="361.1" cy="282.9" r="2.8" fill="url(#gR)"/>
<circle cx="361.0" cy="276.4" r="2.8" fill="url(#gR)"/>
<circle cx="361.6" cy="282.5" r="2.8" fill="url(#gR)"/>
<circle cx="361.8" cy="276.9" r="2.8" fill="url(#gR)"/>
<circle cx="361.3" cy="275.2" r="2.8" fill="url(#gR)"/>
<circle cx="361.7" cy="278.0" r="2.8" fill="url(#gR)"/>
<circle cx="362.1" cy="275.8" r="2.8" fill="url(#gR)"/>
<circle cx="362.3" cy="279.9" r="2.8" fill="url(#gR)"/>
<circle cx="362.4" cy="281.4" r="2.8" fill="url(#gR)"/>
<circle cx="362.9" cy="281.6" r="2.8" fill="url(#gR)"/>
<circle cx="362.6" cy="276.4" r="2.8" fill="url(#gR)"/>
<circle cx="363.2" cy="274.4" r="2.8" fill="url(#gR)"/>
<circle cx="362.8" cy="275.9" r="2.8" fill="url(#gR)"/>
<circle cx="363.6" cy="276.5" r="2.8" fill="url(#gR)"/>
<circle cx="363.2" cy="278.5" r="2.8" fill="url(#gR)"/>
<circle cx="363.4" cy="282.0" r="2.8" fill="url(#gR)"/>
<circle cx="364.0" cy="274.0" r="2.8" fill="url(#gR)"/>
<circle cx="364.4" cy="281.4" r="2.8" fill="url(#gR)"/>
<circle cx="364.5" cy="282.2" r="2.8" fill="url(#gR)"/>
<circle cx="364.6" cy="276.8" r="2.8" fill="url(#gR)"/>
<circle cx="364.4" cy="281.0" r="2.8" fill="url(#gR)"/>
<circle cx="365.0" cy="282.0" r="2.8" fill="url(#gR)"/>
<circle cx="365.4" cy="276.5" r="2.8" fill="url(#gR)"/>
<circle cx="365.5" cy="282.4" r="2.8" fill="url(#gR)"/>
<circle cx="365.6" cy="280.3" r="2.8" fill="url(#gR)"/>
<circle cx="366.0" cy="281.2" r="2.8" fill="url(#gR)"/>
<circle cx="365.6" cy="276.2" r="2.8" fill="url(#gR)"/>
<circle cx="366.3" cy="273.8" r="2.8" fill="url(#gR)"/>
<circle cx="366.5" cy="275.7" r="2.8" fill="url(#gR)"/>
<circle cx="366.3" cy="283.8" r="2.8" fill="url(#gR)"/>
<circle cx="366.3" cy="276.4" r="2.8" fill="url(#gR)"/>
<circle cx="366.5" cy="278.5" r="2.8" fill="url(#gR)"/>
<circle cx="366.6" cy="281.9" r="2.8" fill="url(#gR)"/>
<circle cx="367.0" cy="279.7" r="2.8" fill="url(#gR)"/>
<circle cx="367.2" cy="283.4" r="2.8" fill="url(#gR)"/>
<circle cx="367.4" cy="277.9" r="2.8" fill="url(#gR)"/>
<circle cx="367.6" cy="280.4" r="2.8" fill="url(#gR)"/>
<circle cx="367.7" cy="279.4" r="2.8" fill="url(#gR)"/>
<circle cx="368.2" cy="274.6" r="2.8" fill="url(#gR)"/>
<circle cx="368.6" cy="283.4" r="2.8" fill="url(#gR)"/>
<circle cx="368.2" cy="279.0" r="2.8" fill="url(#gR)"/>
<circle cx="369.0" cy="279.8" r="2.8" fill="url(#gR)"/>
<circle cx="368.7" cy="275.9" r="2.8" fill="url(#gR)"/>
<circle cx="369.4" cy="280.6" r="2.8" fill="url(#gR)"/>
<circle cx="369.4" cy="283.1" r="2.8" fill="url(#gR)"/>
<circle cx="369.7" cy="274.0" r="2.8" fill="url(#gR)"/>
<circle cx="369.6" cy="276.4" r="2.8" fill="url(#gR)"/>
<circle cx="369.5" cy="278.9" r="2.8" fill="url(#gR)"/>
<circle cx="369.9" cy="275.4" r="2.8" fill="url(#gR)"/>
<circle cx="370.0" cy="283.3" r="2.8" fill="url(#gR)"/>
<circle cx="370.2" cy="282.1" r="2.8" fill="url(#gR)"/>
<circle cx="370.4" cy="274.1" r="2.8" fill="url(#gR)"/>
<circle cx="370.8" cy="277.0" r="2.8" fill="url(#gR)"/>
<circle cx="371.1" cy="279.5" r="2.8" fill="url(#gR)"/>
<circle cx="371.1" cy="279.4" r="2.8" fill="url(#gR)"/>
<circle cx="371.4" cy="277.8" r="2.8" fill="url(#gR)"/>
<circle cx="371.4" cy="275.9" r="2.8" fill="url(#gR)"/>
<circle cx="371.7" cy="283.3" r="2.8" fill="url(#gR)"/>
<circle cx="372.0" cy="274.4" r="2.8" fill="url(#gR)"/>
<circle cx="371.9" cy="276.1" r="2.8" fill="url(#gR)"/>
<circle cx="372.1" cy="279.9" r="2.8" fill="url(#gR)"/>
<circle cx="372.8" cy="283.8" r="2.8" fill="url(#gR)"/>
<circle cx="372.3" cy="283.4" r="2.8" fill="url(#gR)"/>
<circle cx="372.7" cy="277.3" r="2.8" fill="url(#gR)"/>
<circle cx="372.8" cy="281.1" r="2.8" fill="url(#gR)"/>
<circle cx="373.1" cy="283.9" r="2.8" fill="url(#gR)"/>
<circle cx="373.4" cy="278.0" r="2.8" fill="url(#gR)"/>
<circle cx="373.8" cy="283.1" r="2.8" fill="url(#gR)"/>
<circle cx="373.6" cy="281.9" r="2.8" fill="url(#gR)"/>
<circle cx="374.0" cy="282.2" r="2.8" fill="url(#gR)"/>
<circle cx="374.5" cy="278.6" r="2.8" fill="url(#gR)"/>
<circle cx="374.3" cy="280.1" r="2.8" fill="url(#gR)"/>
<circle cx="374.8" cy="282.7" r="2.8" fill="url(#gR)"/>
<circle cx="374.6" cy="281.1" r="2.8" fill="url(#gR)"/>
<circle cx="374.7" cy="280.8" r="2.8" fill="url(#gR)"/>
<circle cx="375.2" cy="283.8" r="2.8" fill="url(#gR)"/>
<circle cx="375.6" cy="282.3" r="2.8" fill="url(#gR)"/>
<circle cx="375.5" cy="282.3" r="2.8" fill="url(#gR)"/>
<circle cx="375.9" cy="283.1" r="2.8" fill="url(#gR)"/>
<circle cx="375.7" cy="282.8" r="2.8" fill="url(#gR)"/>
<circle cx="376.3" cy="282.1" r="2.8" fill="url(#gR)"/>
<circle cx="376.4" cy="284.0" r="2.8" fill="url(#gR)"/>
<circle cx="376.7" cy="283.0" r="2.8" fill="url(#gR)"/>
<circle cx="376.3" cy="281.7" r="2.8" fill="url(#gR)"/>
<circle cx="377.1" cy="279.3" r="2.8" fill="url(#gR)"/>
<circle cx="377.3" cy="283.2" r="2.8" fill="url(#gR)"/>
<circle cx="246.2" cy="179.2" r="2.65" fill="url(#gg)"/>
<circle cx="246.6" cy="179.9" r="2.65" fill="url(#gg)"/>
<circle cx="247.0" cy="179.8" r="2.65" fill="url(#gg)"/>
<circle cx="247.4" cy="179.6" r="2.65" fill="url(#gg)"/>
<circle cx="247.8" cy="180.1" r="2.65" fill="url(#gg)"/>
<circle cx="248.2" cy="179.6" r="2.65" fill="url(#gg)"/>
<circle cx="248.6" cy="179.3" r="2.65" fill="url(#gg)"/>
<circle cx="249.0" cy="179.4" r="2.65" fill="url(#gg)"/>
<circle cx="249.3" cy="180.1" r="2.65" fill="url(#gg)"/>
<circle cx="249.7" cy="180.2" r="2.65" fill="url(#gg)"/>
<circle cx="250.1" cy="179.1" r="2.65" fill="url(#gg)"/>
<circle cx="250.5" cy="180.1" r="2.65" fill="url(#gg)"/>
<circle cx="250.9" cy="180.3" r="2.65" fill="url(#gg)"/>
<circle cx="251.3" cy="179.6" r="2.65" fill="url(#gg)"/>
<circle cx="251.7" cy="179.7" r="2.65" fill="url(#gg)"/>
<circle cx="252.1" cy="179.1" r="2.65" fill="url(#gg)"/>
<circle cx="252.5" cy="179.6" r="2.65" fill="url(#gg)"/>
<circle cx="252.9" cy="179.6" r="2.65" fill="url(#gg)"/>
<circle cx="253.3" cy="179.7" r="2.65" fill="url(#gg)"/>
<circle cx="253.7" cy="178.8" r="2.65" fill="url(#gg)"/>
<circle cx="254.1" cy="180.3" r="2.65" fill="url(#gg)"/>
<circle cx="254.5" cy="179.6" r="2.65" fill="url(#gg)"/>
<circle cx="254.8" cy="179.4" r="2.65" fill="url(#gg)"/>
<circle cx="255.2" cy="180.0" r="2.65" fill="url(#gg)"/>
<circle cx="255.6" cy="179.6" r="2.65" fill="url(#gg)"/>
<circle cx="256.0" cy="179.5" r="2.65" fill="url(#gg)"/>
<circle cx="256.4" cy="179.8" r="2.65" fill="url(#gg)"/>
<circle cx="256.8" cy="178.9" r="2.65" fill="url(#gg)"/>
<circle cx="257.2" cy="179.6" r="2.65" fill="url(#gg)"/>
<circle cx="257.6" cy="179.4" r="2.65" fill="url(#gg)"/>
<circle cx="258.0" cy="180.2" r="2.65" fill="url(#gg)"/>
<circle cx="258.4" cy="180.2" r="2.65" fill="url(#gg)"/>
<circle cx="258.8" cy="179.2" r="2.65" fill="url(#gg)"/>
<circle cx="259.2" cy="179.5" r="2.65" fill="url(#gg)"/>
<circle cx="259.6" cy="179.0" r="2.65" fill="url(#gg)"/>
<circle cx="260.0" cy="179.5" r="2.65" fill="url(#gg)"/>
<circle cx="260.3" cy="180.0" r="2.65" fill="url(#gg)"/>
<circle cx="260.7" cy="180.2" r="2.65" fill="url(#gg)"/>
<circle cx="261.1" cy="179.5" r="2.65" fill="url(#gg)"/>
<circle cx="261.5" cy="179.3" r="2.65" fill="url(#gg)"/>
<circle cx="261.9" cy="179.1" r="2.65" fill="url(#gg)"/>
<circle cx="262.3" cy="179.7" r="2.65" fill="url(#gg)"/>
<circle cx="262.7" cy="180.2" r="2.65" fill="url(#gg)"/>
<circle cx="263.1" cy="179.0" r="2.65" fill="url(#gg)"/>
<circle cx="263.5" cy="180.0" r="2.65" fill="url(#gg)"/>
<circle cx="263.9" cy="178.8" r="2.65" fill="url(#gg)"/>
<circle cx="264.3" cy="179.1" r="2.65" fill="url(#gg)"/>
<circle cx="264.7" cy="179.1" r="2.65" fill="url(#gg)"/>
<circle cx="265.1" cy="179.8" r="2.65" fill="url(#gg)"/>
<circle cx="265.5" cy="179.3" r="2.65" fill="url(#gg)"/>
<circle cx="265.8" cy="179.3" r="2.65" fill="url(#gg)"/>
<circle cx="266.2" cy="179.7" r="2.65" fill="url(#gg)"/>
<circle cx="266.6" cy="179.0" r="2.65" fill="url(#gg)"/>
<circle cx="267.0" cy="179.9" r="2.65" fill="url(#gg)"/>
<circle cx="267.4" cy="179.0" r="2.65" fill="url(#gg)"/>
<circle cx="267.8" cy="179.6" r="2.65" fill="url(#gg)"/>
<circle cx="268.2" cy="179.2" r="2.65" fill="url(#gg)"/>
<circle cx="268.6" cy="179.1" r="2.65" fill="url(#gg)"/>
<circle cx="269.0" cy="179.6" r="2.65" fill="url(#gg)"/>
<circle cx="269.4" cy="179.5" r="2.65" fill="url(#gg)"/>
<circle cx="269.8" cy="179.4" r="2.65" fill="url(#gg)"/>
<circle cx="270.2" cy="179.4" r="2.65" fill="url(#gg)"/>
<circle cx="270.6" cy="179.6" r="2.65" fill="url(#gg)"/>
<circle cx="271.0" cy="179.0" r="2.65" fill="url(#gg)"/>
<circle cx="271.4" cy="179.1" r="2.65" fill="url(#gg)"/>
<circle cx="271.7" cy="179.7" r="2.65" fill="url(#gg)"/>
<circle cx="272.1" cy="179.8" r="2.65" fill="url(#gg)"/>
<circle cx="272.5" cy="179.6" r="2.65" fill="url(#gg)"/>
<circle cx="272.9" cy="180.1" r="2.65" fill="url(#gg)"/>
<circle cx="273.3" cy="179.7" r="2.65" fill="url(#gg)"/>
<circle cx="273.7" cy="180.1" r="2.65" fill="url(#gg)"/>
<circle cx="274.1" cy="179.1" r="2.65" fill="url(#gg)"/>
<circle cx="274.5" cy="179.9" r="2.65" fill="url(#gg)"/>
<circle cx="274.9" cy="180.0" r="2.65" fill="url(#gg)"/>
<circle cx="275.3" cy="180.2" r="2.65" fill="url(#gg)"/>
<circle cx="275.7" cy="179.3" r="2.65" fill="url(#gg)"/>
<circle cx="276.1" cy="179.3" r="2.65" fill="url(#gg)"/>
<circle cx="276.5" cy="180.2" r="2.65" fill="url(#gg)"/>
<circle cx="276.9" cy="179.1" r="2.65" fill="url(#gg)"/>
<circle cx="277.2" cy="180.3" r="2.65" fill="url(#gg)"/>
<circle cx="277.6" cy="180.1" r="2.65" fill="url(#gg)"/>
<circle cx="278.0" cy="179.0" r="2.65" fill="url(#gg)"/>
<circle cx="278.4" cy="179.2" r="2.65" fill="url(#gg)"/>
<circle cx="278.8" cy="179.9" r="2.65" fill="url(#gg)"/>
<circle cx="279.2" cy="179.2" r="2.65" fill="url(#gg)"/>
<circle cx="279.6" cy="178.9" r="2.65" fill="url(#gg)"/>
<circle cx="280.0" cy="180.0" r="2.65" fill="url(#gg)"/>
<circle cx="280.4" cy="179.4" r="2.65" fill="url(#gg)"/>
<circle cx="280.8" cy="180.0" r="2.65" fill="url(#gg)"/>
<circle cx="281.2" cy="179.0" r="2.65" fill="url(#gg)"/>
<circle cx="281.6" cy="179.4" r="2.65" fill="url(#gg)"/>
<circle cx="282.0" cy="179.8" r="2.65" fill="url(#gg)"/>
<circle cx="282.4" cy="178.8" r="2.65" fill="url(#gg)"/>
<circle cx="282.7" cy="179.1" r="2.65" fill="url(#gg)"/>
<circle cx="283.1" cy="179.8" r="2.65" fill="url(#gg)"/>
<circle cx="283.5" cy="180.2" r="2.65" fill="url(#gg)"/>
<circle cx="283.9" cy="180.3" r="2.65" fill="url(#gg)"/>
<circle cx="284.3" cy="179.0" r="2.65" fill="url(#gg)"/>
<circle cx="284.7" cy="179.6" r="2.65" fill="url(#gg)"/>
<circle cx="285.1" cy="179.9" r="2.65" fill="url(#gg)"/>
<circle cx="285.5" cy="179.6" r="2.65" fill="url(#gg)"/>
<circle cx="285.9" cy="179.8" r="2.65" fill="url(#gg)"/>
<circle cx="286.3" cy="179.1" r="2.65" fill="url(#gg)"/>
<circle cx="286.7" cy="178.9" r="2.65" fill="url(#gg)"/>
<circle cx="287.1" cy="179.0" r="2.65" fill="url(#gg)"/>
<circle cx="287.5" cy="178.9" r="2.65" fill="url(#gg)"/>
<circle cx="287.9" cy="179.6" r="2.65" fill="url(#gg)"/>
<circle cx="288.3" cy="179.6" r="2.65" fill="url(#gg)"/>
<circle cx="288.6" cy="179.7" r="2.65" fill="url(#gg)"/>
<circle cx="289.0" cy="179.0" r="2.65" fill="url(#gg)"/>
<circle cx="289.4" cy="179.1" r="2.65" fill="url(#gg)"/>
<circle cx="289.8" cy="179.1" r="2.65" fill="url(#gg)"/>
<circle cx="297.7" cy="180.1" r="2.65" fill="url(#gg)"/>
<circle cx="298.1" cy="180.3" r="2.65" fill="url(#gg)"/>
<circle cx="298.5" cy="180.2" r="2.65" fill="url(#gg)"/>
<circle cx="298.9" cy="178.9" r="2.65" fill="url(#gg)"/>
<circle cx="299.3" cy="178.9" r="2.65" fill="url(#gg)"/>
<circle cx="299.6" cy="180.2" r="2.65" fill="url(#gg)"/>
<circle cx="300.0" cy="179.5" r="2.65" fill="url(#gg)"/>
<circle cx="300.4" cy="179.9" r="2.65" fill="url(#gg)"/>
<circle cx="300.8" cy="179.3" r="2.65" fill="url(#gg)"/>
<circle cx="301.2" cy="179.5" r="2.65" fill="url(#gg)"/>
<circle cx="301.6" cy="179.6" r="2.65" fill="url(#gg)"/>
<circle cx="302.0" cy="179.4" r="2.65" fill="url(#gg)"/>
<circle cx="302.4" cy="179.7" r="2.65" fill="url(#gg)"/>
<circle cx="302.8" cy="178.8" r="2.65" fill="url(#gg)"/>
<circle cx="303.2" cy="179.9" r="2.65" fill="url(#gg)"/>
<circle cx="303.6" cy="180.1" r="2.65" fill="url(#gg)"/>
<circle cx="304.0" cy="179.1" r="2.65" fill="url(#gg)"/>
<circle cx="304.4" cy="179.5" r="2.65" fill="url(#gg)"/>
<circle cx="304.8" cy="179.9" r="2.65" fill="url(#gg)"/>
<circle cx="305.1" cy="179.4" r="2.65" fill="url(#gg)"/>
<circle cx="305.5" cy="179.1" r="2.65" fill="url(#gg)"/>
<circle cx="305.9" cy="179.0" r="2.65" fill="url(#gg)"/>
<circle cx="306.3" cy="179.6" r="2.65" fill="url(#gg)"/>
<circle cx="306.7" cy="178.8" r="2.65" fill="url(#gg)"/>
<circle cx="307.1" cy="180.1" r="2.65" fill="url(#gg)"/>
<circle cx="307.5" cy="180.0" r="2.65" fill="url(#gg)"/>
<circle cx="307.9" cy="179.9" r="2.65" fill="url(#gg)"/>
<circle cx="308.3" cy="180.1" r="2.65" fill="url(#gg)"/>
<circle cx="308.7" cy="179.7" r="2.65" fill="url(#gg)"/>
<circle cx="309.1" cy="179.4" r="2.65" fill="url(#gg)"/>
<circle cx="309.5" cy="179.7" r="2.65" fill="url(#gg)"/>
<circle cx="309.9" cy="179.6" r="2.65" fill="url(#gg)"/>
<circle cx="310.3" cy="180.3" r="2.65" fill="url(#gg)"/>
<circle cx="310.7" cy="180.0" r="2.65" fill="url(#gg)"/>
<circle cx="311.0" cy="179.2" r="2.65" fill="url(#gg)"/>
<circle cx="311.4" cy="180.2" r="2.65" fill="url(#gg)"/>
<circle cx="311.8" cy="179.9" r="2.65" fill="url(#gg)"/>
<circle cx="312.2" cy="180.0" r="2.65" fill="url(#gg)"/>
<circle cx="312.6" cy="180.0" r="2.65" fill="url(#gg)"/>
<circle cx="313.0" cy="179.4" r="2.65" fill="url(#gg)"/>
<circle cx="313.4" cy="180.1" r="2.65" fill="url(#gg)"/>
<circle cx="313.8" cy="180.1" r="2.65" fill="url(#gg)"/>
<circle cx="314.2" cy="179.8" r="2.65" fill="url(#gg)"/>
<circle cx="314.6" cy="180.0" r="2.65" fill="url(#gg)"/>
<circle cx="315.0" cy="179.9" r="2.65" fill="url(#gg)"/>
<circle cx="315.4" cy="179.4" r="2.65" fill="url(#gg)"/>
<circle cx="315.8" cy="179.9" r="2.65" fill="url(#gg)"/>
<circle cx="316.2" cy="178.9" r="2.65" fill="url(#gg)"/>
<circle cx="316.5" cy="179.3" r="2.65" fill="url(#gg)"/>
<circle cx="316.9" cy="179.5" r="2.65" fill="url(#gg)"/>
<circle cx="317.3" cy="178.8" r="2.65" fill="url(#gg)"/>
<circle cx="317.7" cy="179.3" r="2.65" fill="url(#gg)"/>
<circle cx="318.1" cy="179.8" r="2.65" fill="url(#gg)"/>
<circle cx="318.5" cy="179.7" r="2.65" fill="url(#gg)"/>
<circle cx="318.9" cy="179.1" r="2.65" fill="url(#gg)"/>
<circle cx="319.3" cy="180.2" r="2.65" fill="url(#gg)"/>
<circle cx="319.7" cy="179.8" r="2.65" fill="url(#gg)"/>
<circle cx="320.1" cy="179.3" r="2.65" fill="url(#gg)"/>
<circle cx="320.5" cy="179.8" r="2.65" fill="url(#gg)"/>
<circle cx="320.9" cy="179.7" r="2.65" fill="url(#gg)"/>
<circle cx="321.3" cy="179.6" r="2.65" fill="url(#gg)"/>
<circle cx="321.7" cy="179.4" r="2.65" fill="url(#gg)"/>
<circle cx="322.0" cy="180.3" r="2.65" fill="url(#gg)"/>
<circle cx="322.4" cy="179.8" r="2.65" fill="url(#gg)"/>
<circle cx="322.8" cy="179.9" r="2.65" fill="url(#gg)"/>
<circle cx="323.2" cy="179.9" r="2.65" fill="url(#gg)"/>
<circle cx="323.6" cy="180.3" r="2.65" fill="url(#gg)"/>
<circle cx="324.0" cy="178.8" r="2.65" fill="url(#gg)"/>
<circle cx="324.4" cy="179.7" r="2.65" fill="url(#gg)"/>
<circle cx="324.8" cy="179.9" r="2.65" fill="url(#gg)"/>
<circle cx="325.2" cy="179.2" r="2.65" fill="url(#gg)"/>
<circle cx="325.6" cy="179.4" r="2.65" fill="url(#gg)"/>
<circle cx="326.0" cy="178.9" r="2.65" fill="url(#gg)"/>
<circle cx="326.4" cy="179.1" r="2.65" fill="url(#gg)"/>
<circle cx="326.8" cy="179.4" r="2.65" fill="url(#gg)"/>
<circle cx="327.2" cy="178.9" r="2.65" fill="url(#gg)"/>
<circle cx="327.6" cy="179.2" r="2.65" fill="url(#gg)"/>
<circle cx="327.9" cy="180.2" r="2.65" fill="url(#gg)"/>
<circle cx="328.3" cy="179.6" r="2.65" fill="url(#gg)"/>
<circle cx="328.7" cy="179.6" r="2.65" fill="url(#gg)"/>
<circle cx="329.1" cy="180.3" r="2.65" fill="url(#gg)"/>
<circle cx="329.5" cy="179.7" r="2.65" fill="url(#gg)"/>
<circle cx="329.9" cy="180.3" r="2.65" fill="url(#gg)"/>
<circle cx="330.3" cy="179.8" r="2.65" fill="url(#gg)"/>
<circle cx="330.7" cy="180.0" r="2.65" fill="url(#gg)"/>
<circle cx="331.1" cy="178.9" r="2.65" fill="url(#gg)"/>
<circle cx="331.5" cy="179.7" r="2.65" fill="url(#gg)"/>
<circle cx="331.9" cy="179.9" r="2.65" fill="url(#gg)"/>
<circle cx="332.3" cy="178.9" r="2.65" fill="url(#gg)"/>
<circle cx="332.7" cy="180.2" r="2.65" fill="url(#gg)"/>
<circle cx="333.1" cy="179.0" r="2.65" fill="url(#gg)"/>
<circle cx="333.4" cy="179.5" r="2.65" fill="url(#gg)"/>
<circle cx="333.8" cy="179.1" r="2.65" fill="url(#gg)"/>
<circle cx="334.2" cy="179.5" r="2.65" fill="url(#gg)"/>
<circle cx="334.6" cy="179.7" r="2.65" fill="url(#gg)"/>
<circle cx="335.0" cy="178.9" r="2.65" fill="url(#gg)"/>
<circle cx="335.4" cy="180.2" r="2.65" fill="url(#gg)"/>
<circle cx="335.8" cy="179.4" r="2.65" fill="url(#gg)"/>
<circle cx="336.2" cy="179.6" r="2.65" fill="url(#gg)"/>
<circle cx="336.6" cy="179.7" r="2.65" fill="url(#gg)"/>
<circle cx="337.0" cy="179.3" r="2.65" fill="url(#gg)"/>
<circle cx="337.4" cy="179.2" r="2.65" fill="url(#gg)"/>
<circle cx="337.8" cy="179.8" r="2.65" fill="url(#gg)"/>
<circle cx="338.2" cy="179.6" r="2.65" fill="url(#gg)"/>
<circle cx="338.6" cy="179.2" r="2.65" fill="url(#gg)"/>
<circle cx="338.9" cy="179.9" r="2.65" fill="url(#gg)"/>
<circle cx="339.3" cy="179.2" r="2.65" fill="url(#gg)"/>
<circle cx="339.7" cy="178.8" r="2.65" fill="url(#gg)"/>
<circle cx="340.1" cy="179.2" r="2.65" fill="url(#gg)"/>
<circle cx="340.5" cy="178.9" r="2.65" fill="url(#gg)"/>
<circle cx="340.9" cy="179.0" r="2.65" fill="url(#gg)"/>
<circle cx="341.3" cy="179.9" r="2.65" fill="url(#gg)"/>
<circle cx="341.7" cy="179.4" r="2.65" fill="url(#gg)"/>
<circle cx="342.1" cy="180.1" r="2.65" fill="url(#gg)"/>
<circle cx="342.5" cy="179.9" r="2.65" fill="url(#gg)"/>
<circle cx="342.9" cy="178.9" r="2.65" fill="url(#gg)"/>
<circle cx="343.3" cy="180.3" r="2.65" fill="url(#gg)"/>
<circle cx="343.7" cy="180.2" r="2.65" fill="url(#gg)"/>
<circle cx="344.1" cy="178.9" r="2.65" fill="url(#gg)"/>
<circle cx="344.4" cy="180.2" r="2.65" fill="url(#gg)"/>
<circle cx="344.8" cy="179.4" r="2.65" fill="url(#gg)"/>
<circle cx="345.2" cy="179.5" r="2.65" fill="url(#gg)"/>
<circle cx="345.6" cy="180.3" r="2.65" fill="url(#gg)"/>
<circle cx="346.0" cy="179.2" r="2.65" fill="url(#gg)"/>
<circle cx="346.4" cy="179.6" r="2.65" fill="url(#gg)"/>
<circle cx="346.8" cy="180.2" r="2.65" fill="url(#gg)"/>
<circle cx="347.2" cy="179.9" r="2.65" fill="url(#gg)"/>
<circle cx="347.6" cy="179.5" r="2.65" fill="url(#gg)"/>
<circle cx="348.0" cy="180.3" r="2.65" fill="url(#gg)"/>
<circle cx="348.4" cy="180.0" r="2.65" fill="url(#gg)"/>
<circle cx="348.8" cy="179.7" r="2.65" fill="url(#gg)"/>
<circle cx="349.2" cy="179.0" r="2.65" fill="url(#gg)"/>
<circle cx="349.6" cy="179.7" r="2.65" fill="url(#gg)"/>
<circle cx="350.0" cy="179.5" r="2.65" fill="url(#gg)"/>
<circle cx="350.3" cy="179.1" r="2.65" fill="url(#gg)"/>
<circle cx="350.7" cy="178.9" r="2.65" fill="url(#gg)"/>
<circle cx="351.1" cy="179.6" r="2.65" fill="url(#gg)"/>
<circle cx="351.5" cy="179.0" r="2.65" fill="url(#gg)"/>
<circle cx="351.9" cy="179.5" r="2.65" fill="url(#gg)"/>
<circle cx="352.3" cy="179.8" r="2.65" fill="url(#gg)"/>
<circle cx="352.7" cy="179.5" r="2.65" fill="url(#gg)"/>
<circle cx="353.1" cy="179.2" r="2.65" fill="url(#gg)"/>
<circle cx="353.5" cy="179.7" r="2.65" fill="url(#gg)"/>
<circle cx="353.9" cy="179.4" r="2.65" fill="url(#gg)"/>
<circle cx="354.3" cy="180.0" r="2.65" fill="url(#gg)"/>
<circle cx="354.7" cy="179.6" r="2.65" fill="url(#gg)"/>
<circle cx="355.1" cy="180.3" r="2.65" fill="url(#gg)"/>
<circle cx="355.5" cy="180.2" r="2.65" fill="url(#gg)"/>
<circle cx="355.8" cy="179.9" r="2.65" fill="url(#gg)"/>
<circle cx="356.2" cy="179.2" r="2.65" fill="url(#gg)"/>
<circle cx="356.6" cy="179.0" r="2.65" fill="url(#gg)"/>
<circle cx="357.0" cy="180.1" r="2.65" fill="url(#gg)"/>
<circle cx="357.4" cy="180.0" r="2.65" fill="url(#gg)"/>
<circle cx="357.8" cy="179.7" r="2.65" fill="url(#gg)"/>
<circle cx="358.2" cy="179.3" r="2.65" fill="url(#gg)"/>
<circle cx="358.6" cy="179.2" r="2.65" fill="url(#gg)"/>
<circle cx="359.0" cy="179.8" r="2.65" fill="url(#gg)"/>
<circle cx="359.4" cy="179.6" r="2.65" fill="url(#gg)"/>
<circle cx="359.8" cy="179.7" r="2.65" fill="url(#gg)"/>
<circle cx="360.2" cy="179.7" r="2.65" fill="url(#gg)"/>
<circle cx="360.6" cy="179.9" r="2.65" fill="url(#gg)"/>
<circle cx="361.0" cy="179.1" r="2.65" fill="url(#gg)"/>
<circle cx="361.3" cy="179.2" r="2.65" fill="url(#gg)"/>
<circle cx="361.7" cy="180.3" r="2.65" fill="url(#gg)"/>
<circle cx="362.1" cy="180.2" r="2.65" fill="url(#gg)"/>
<circle cx="362.5" cy="180.1" r="2.65" fill="url(#gg)"/>
<circle cx="362.9" cy="178.9" r="2.65" fill="url(#gg)"/>
<circle cx="363.3" cy="178.9" r="2.65" fill="url(#gg)"/>
<circle cx="363.7" cy="179.2" r="2.65" fill="url(#gg)"/>
<circle cx="364.1" cy="179.4" r="2.65" fill="url(#gg)"/>
<circle cx="364.5" cy="179.7" r="2.65" fill="url(#gg)"/>
<circle cx="364.9" cy="179.0" r="2.65" fill="url(#gg)"/>
<circle cx="365.3" cy="179.6" r="2.65" fill="url(#gg)"/>
<circle cx="365.7" cy="178.9" r="2.65" fill="url(#gg)"/>
<circle cx="366.1" cy="178.9" r="2.65" fill="url(#gg)"/>
<circle cx="366.5" cy="179.8" r="2.65" fill="url(#gg)"/>
<circle cx="366.9" cy="179.6" r="2.65" fill="url(#gg)"/>
<circle cx="367.2" cy="179.7" r="2.65" fill="url(#gg)"/>
<circle cx="367.6" cy="179.4" r="2.65" fill="url(#gg)"/>
<circle cx="368.0" cy="179.5" r="2.65" fill="url(#gg)"/>
<circle cx="368.4" cy="179.1" r="2.65" fill="url(#gg)"/>
<circle cx="368.8" cy="179.3" r="2.65" fill="url(#gg)"/>
<circle cx="369.2" cy="179.9" r="2.65" fill="url(#gg)"/>
<circle cx="369.6" cy="180.1" r="2.65" fill="url(#gg)"/>
<circle cx="370.0" cy="178.9" r="2.65" fill="url(#gg)"/>
<circle cx="370.4" cy="179.0" r="2.65" fill="url(#gg)"/>
<circle cx="370.8" cy="180.0" r="2.65" fill="url(#gg)"/>
<circle cx="371.2" cy="179.7" r="2.65" fill="url(#gg)"/>
<circle cx="371.6" cy="180.0" r="2.65" fill="url(#gg)"/>
<circle cx="372.0" cy="179.1" r="2.65" fill="url(#gg)"/>
<circle cx="372.4" cy="179.4" r="2.65" fill="url(#gg)"/>
<circle cx="372.7" cy="179.2" r="2.65" fill="url(#gg)"/>
<circle cx="373.1" cy="180.0" r="2.65" fill="url(#gg)"/>
<circle cx="373.5" cy="179.4" r="2.65" fill="url(#gg)"/>
<circle cx="373.9" cy="179.8" r="2.65" fill="url(#gg)"/>
<circle cx="374.3" cy="180.3" r="2.65" fill="url(#gg)"/>
<circle cx="374.7" cy="179.3" r="2.65" fill="url(#gg)"/>
<circle cx="375.1" cy="179.6" r="2.65" fill="url(#gg)"/>
<circle cx="375.5" cy="179.9" r="2.65" fill="url(#gg)"/>
<circle cx="375.9" cy="180.2" r="2.65" fill="url(#gg)"/>
<circle cx="376.3" cy="179.4" r="2.65" fill="url(#gg)"/>
<circle cx="376.7" cy="179.4" r="2.65" fill="url(#gg)"/>
<circle cx="377.1" cy="178.9" r="2.65" fill="url(#gg)"/>
<circle cx="247.9" cy="182.3" r="2.65" fill="url(#gg)"/>
<circle cx="260.0" cy="183.2" r="2.65" fill="url(#gg)"/>
<circle cx="268.4" cy="182.3" r="2.65" fill="url(#gg)"/>
<circle cx="267.4" cy="186.9" r="2.65" fill="url(#gg)"/>
<circle cx="266.5" cy="190.7" r="2.65" fill="url(#gg)"/>
<circle cx="274.9" cy="185.0" r="2.65" fill="url(#gg)"/>
<circle cx="275.3" cy="187.9" r="2.65" fill="url(#gg)"/>
<circle cx="276.4" cy="191.6" r="2.65" fill="url(#gg)"/>
<circle cx="283.3" cy="186.0" r="2.65" fill="url(#gg)"/>
<circle cx="288.9" cy="179.5" r="2.65" fill="url(#gg)"/>
<circle cx="289.8" cy="182.8" r="2.65" fill="url(#gg)"/>
<circle cx="246.9" cy="194.0" r="2.65" fill="url(#gg)"/>
<circle cx="251.6" cy="198.1" r="2.65" fill="url(#gg)"/>
<circle cx="258.1" cy="197.2" r="2.65" fill="url(#gg)"/>
<circle cx="256.3" cy="201.5" r="2.65" fill="url(#gg)"/>
<circle cx="266.5" cy="197.2" r="2.65" fill="url(#gg)"/>
<circle cx="270.2" cy="200.0" r="2.65" fill="url(#gg)"/>
<circle cx="269.3" cy="203.7" r="2.65" fill="url(#gg)"/>
<circle cx="289.8" cy="205.6" r="2.65" fill="url(#gg)"/>
<circle cx="292.6" cy="207.1" r="2.65" fill="url(#gg)"/>
<circle cx="289.8" cy="209.3" r="2.65" fill="url(#gg)"/>
<circle cx="299.2" cy="183.2" r="2.65" fill="url(#gg)"/>
<circle cx="302.9" cy="180.4" r="2.65" fill="url(#gg)"/>
<circle cx="302.9" cy="186.0" r="2.65" fill="url(#gg)"/>
<circle cx="302.5" cy="190.7" r="2.65" fill="url(#gg)"/>
<circle cx="302.5" cy="192.9" r="2.65" fill="url(#gg)"/>
<circle cx="300.1" cy="202.8" r="2.65" fill="url(#gg)"/>
<circle cx="301.0" cy="205.2" r="2.65" fill="url(#gg)"/>
<circle cx="303.8" cy="206.5" r="2.65" fill="url(#gg)"/>
<circle cx="304.8" cy="209.3" r="2.65" fill="url(#gg)"/>
<circle cx="303.8" cy="212.1" r="2.65" fill="url(#gg)"/>
<circle cx="302.9" cy="214.9" r="2.65" fill="url(#gg)"/>
<circle cx="247.3" cy="222.0" r="2.65" fill="url(#gg)"/>
<circle cx="285.5" cy="218.3" r="2.65" fill="url(#gg)"/>
<circle cx="304.4" cy="224.2" r="2.65" fill="url(#gg)"/>
<circle cx="323.8" cy="184.1" r="2.65" fill="url(#gg)"/>
<circle cx="329.4" cy="187.8" r="2.65" fill="url(#gg)"/>
<circle cx="335.0" cy="182.8" r="2.65" fill="url(#gg)"/>
<circle cx="342.4" cy="182.8" r="2.65" fill="url(#gg)"/>
<circle cx="343.0" cy="187.3" r="2.65" fill="url(#gg)"/>
<circle cx="354.6" cy="185.0" r="2.65" fill="url(#gg)"/>
<circle cx="368.5" cy="186.0" r="2.65" fill="url(#gg)"/>
<circle cx="372.2" cy="183.2" r="2.65" fill="url(#gg)"/>
<circle cx="375.0" cy="180.4" r="2.65" fill="url(#gg)"/>
<circle cx="328.5" cy="196.2" r="2.65" fill="url(#gg)"/>
<circle cx="323.8" cy="201.4" r="2.65" fill="url(#gg)"/>
<circle cx="328.5" cy="204.6" r="2.65" fill="url(#gg)"/>
<circle cx="330.3" cy="207.4" r="2.65" fill="url(#gg)"/>
<circle cx="335.0" cy="204.6" r="2.65" fill="url(#gg)"/>
<circle cx="335.0" cy="209.2" r="2.65" fill="url(#gg)"/>
<circle cx="329.4" cy="211.1" r="2.65" fill="url(#gg)"/>
<circle cx="330.3" cy="213.9" r="2.65" fill="url(#gg)"/>
<circle cx="314.5" cy="204.6" r="2.65" fill="url(#gg)"/>
<circle cx="314.5" cy="211.5" r="2.65" fill="url(#gg)"/>
<circle cx="314.5" cy="226.0" r="2.65" fill="url(#gg)"/>
<circle cx="343.4" cy="207.0" r="2.65" fill="url(#gg)"/>
<circle cx="349.9" cy="213.0" r="2.65" fill="url(#gg)"/>
<circle cx="356.4" cy="216.7" r="2.65" fill="url(#gg)"/>
<circle cx="360.1" cy="213.9" r="2.65" fill="url(#gg)"/>
<circle cx="351.5" cy="207.8" r="2.65" fill="url(#gg)"/>
<circle cx="358.5" cy="203.6" r="2.65" fill="url(#gg)"/>
<circle cx="352.2" cy="209.9" r="2.65" fill="url(#gg)"/>
<circle cx="361.1" cy="204.2" r="2.65" fill="url(#gg)"/>
<circle cx="356.6" cy="198.7" r="2.65" fill="url(#gg)"/>
<circle cx="349.0" cy="201.4" r="2.65" fill="url(#gg)"/>
<circle cx="357.8" cy="195.4" r="2.65" fill="url(#gg)"/>
<circle cx="360.9" cy="198.6" r="2.65" fill="url(#gg)"/>
<circle cx="352.5" cy="194.8" r="2.65" fill="url(#gg)"/>
<circle cx="364.0" cy="208.8" r="2.65" fill="url(#gg)"/>
<circle cx="362.1" cy="206.3" r="2.65" fill="url(#gg)"/>
<circle cx="349.5" cy="200.6" r="2.65" fill="url(#gg)"/>
<circle cx="356.5" cy="196.3" r="2.65" fill="url(#gg)"/>
<circle cx="363.3" cy="201.4" r="2.65" fill="url(#gg)"/>
<circle cx="351.3" cy="210.4" r="2.65" fill="url(#gg)"/>
<circle cx="350.9" cy="212.6" r="2.65" fill="url(#gg)"/>
<circle cx="355.8" cy="205.0" r="2.65" fill="url(#gg)"/>
<circle cx="354.1" cy="203.7" r="2.65" fill="url(#gg)"/>
<circle cx="351.8" cy="194.7" r="2.65" fill="url(#gg)"/>
<circle cx="362.0" cy="198.7" r="2.65" fill="url(#gg)"/>
<circle cx="360.7" cy="198.2" r="2.65" fill="url(#gg)"/>
<circle cx="363.5" cy="211.9" r="2.65" fill="url(#gg)"/>
<circle cx="360.3" cy="209.3" r="2.65" fill="url(#gg)"/>
<circle cx="357.7" cy="208.6" r="2.65" fill="url(#gg)"/>
<circle cx="350.8" cy="203.5" r="2.65" fill="url(#gg)"/>
<circle cx="361.4" cy="198.0" r="2.65" fill="url(#gg)"/>
<circle cx="362.8" cy="211.8" r="2.65" fill="url(#gg)"/>
<circle cx="355.1" cy="201.3" r="2.65" fill="url(#gg)"/>
<circle cx="355.8" cy="201.7" r="2.65" fill="url(#gg)"/>
<circle cx="363.9" cy="201.7" r="2.65" fill="url(#gg)"/>
<circle cx="349.4" cy="195.9" r="2.65" fill="url(#gg)"/>
<circle cx="359.8" cy="213.9" r="2.65" fill="url(#gg)"/>
<circle cx="356.4" cy="203.8" r="2.65" fill="url(#gg)"/>
<circle cx="357.3" cy="209.0" r="2.65" fill="url(#gg)"/>
<circle cx="352.3" cy="206.2" r="2.65" fill="url(#gg)"/>
<circle cx="357.3" cy="206.5" r="2.65" fill="url(#gg)"/>
<circle cx="351.7" cy="197.4" r="2.65" fill="url(#gg)"/>
<circle cx="354.2" cy="212.5" r="2.65" fill="url(#gg)"/>
<circle cx="354.2" cy="205.9" r="2.65" fill="url(#gg)"/>
<circle cx="353.6" cy="196.1" r="2.65" fill="url(#gg)"/>
<circle cx="367.6" cy="204.6" r="2.65" fill="url(#gg)"/>
<circle cx="374.0" cy="198.9" r="2.65" fill="url(#gg)"/>
<circle cx="373.2" cy="202.8" r="2.65" fill="url(#gg)"/>
<circle cx="375.1" cy="206.5" r="2.65" fill="url(#gg)"/>
<circle cx="370.7" cy="206.9" r="2.65" fill="url(#gg)"/>
<circle cx="375.7" cy="201.7" r="2.65" fill="url(#gg)"/>
<circle cx="374.9" cy="200.4" r="2.65" fill="url(#gg)"/>
<circle cx="370.4" cy="197.2" r="2.65" fill="url(#gg)"/>
<circle cx="374.9" cy="196.1" r="2.65" fill="url(#gg)"/>
<circle cx="367.6" cy="204.5" r="2.65" fill="url(#gg)"/>
<circle cx="374.0" cy="200.3" r="2.65" fill="url(#gg)"/>
<circle cx="374.5" cy="194.7" r="2.65" fill="url(#gg)"/>
<circle cx="369.3" cy="197.8" r="2.65" fill="url(#gg)"/>
<circle cx="370.8" cy="196.2" r="2.65" fill="url(#gg)"/>
<circle cx="367.6" cy="198.4" r="2.65" fill="url(#gg)"/>
<circle cx="375.1" cy="206.8" r="2.65" fill="url(#gg)"/>
<line x1="233.50" y1="172.60" x2="389.30" y2="172.60" stroke="#6b6b6b" stroke-width="1" />
<line x1="233.50" y1="297.50" x2="389.30" y2="297.50" stroke="#6b6b6b" stroke-width="1" />
<line x1="233.50" y1="172.60" x2="233.50" y2="297.50" stroke="#6b6b6b" stroke-width="1" />
<line x1="389.30" y1="172.60" x2="389.30" y2="297.50" stroke="#6b6b6b" stroke-width="1" />
<line x1="246.50" y1="297.50" x2="246.50" y2="295.00" stroke="#6b6b6b" stroke-width="1" />
<line x1="259.60" y1="297.50" x2="259.60" y2="295.00" stroke="#6b6b6b" stroke-width="1" />
<line x1="272.70" y1="297.50" x2="272.70" y2="295.00" stroke="#6b6b6b" stroke-width="1" />
<line x1="285.80" y1="297.50" x2="285.80" y2="295.00" stroke="#6b6b6b" stroke-width="1" />
<line x1="298.90" y1="297.50" x2="298.90" y2="295.00" stroke="#6b6b6b" stroke-width="1" />
<line x1="312.00" y1="297.50" x2="312.00" y2="295.00" stroke="#6b6b6b" stroke-width="1" />
<line x1="325.10" y1="297.50" x2="325.10" y2="295.00" stroke="#6b6b6b" stroke-width="1" />
<line x1="338.20" y1="297.50" x2="338.20" y2="295.00" stroke="#6b6b6b" stroke-width="1" />
<line x1="351.30" y1="297.50" x2="351.30" y2="295.00" stroke="#6b6b6b" stroke-width="1" />
<line x1="364.40" y1="297.50" x2="364.40" y2="295.00" stroke="#6b6b6b" stroke-width="1" />
<line x1="377.50" y1="297.50" x2="377.50" y2="295.00" stroke="#6b6b6b" stroke-width="1" />
<line x1="249.00" y1="172.60" x2="249.00" y2="175.10" stroke="#6b6b6b" stroke-width="1" />
<line x1="264.50" y1="172.60" x2="264.50" y2="175.10" stroke="#6b6b6b" stroke-width="1" />
<line x1="280.00" y1="172.60" x2="280.00" y2="175.10" stroke="#6b6b6b" stroke-width="1" />
<line x1="295.50" y1="172.60" x2="295.50" y2="175.10" stroke="#6b6b6b" stroke-width="1" />
<line x1="311.00" y1="172.60" x2="311.00" y2="175.10" stroke="#6b6b6b" stroke-width="1" />
<line x1="326.50" y1="172.60" x2="326.50" y2="175.10" stroke="#6b6b6b" stroke-width="1" />
<line x1="342.00" y1="172.60" x2="342.00" y2="175.10" stroke="#6b6b6b" stroke-width="1" />
<line x1="357.50" y1="172.60" x2="357.50" y2="175.10" stroke="#6b6b6b" stroke-width="1" />
<line x1="373.00" y1="172.60" x2="373.00" y2="175.10" stroke="#6b6b6b" stroke-width="1" />
<line x1="389.30" y1="185.10" x2="386.80" y2="185.10" stroke="#6b6b6b" stroke-width="1" />
<line x1="389.30" y1="197.65" x2="386.80" y2="197.65" stroke="#6b6b6b" stroke-width="1" />
<line x1="389.30" y1="210.20" x2="386.80" y2="210.20" stroke="#6b6b6b" stroke-width="1" />
<line x1="389.30" y1="222.75" x2="386.80" y2="222.75" stroke="#6b6b6b" stroke-width="1" />
<line x1="389.30" y1="235.30" x2="386.80" y2="235.30" stroke="#6b6b6b" stroke-width="1" />
<line x1="389.30" y1="247.85" x2="386.80" y2="247.85" stroke="#6b6b6b" stroke-width="1" />
<line x1="389.30" y1="260.40" x2="386.80" y2="260.40" stroke="#6b6b6b" stroke-width="1" />
<line x1="389.30" y1="272.95" x2="386.80" y2="272.95" stroke="#6b6b6b" stroke-width="1" />
<line x1="389.30" y1="285.50" x2="386.80" y2="285.50" stroke="#6b6b6b" stroke-width="1" />
<line x1="233.50" y1="288.20" x2="236.00" y2="288.20" stroke="#6b6b6b" stroke-width="1" />
<line x1="233.50" y1="278.75" x2="234.90" y2="278.75" stroke="#6b6b6b" stroke-width="0.6" />
<line x1="233.50" y1="273.22" x2="234.90" y2="273.22" stroke="#6b6b6b" stroke-width="0.6" />
<line x1="233.50" y1="269.30" x2="234.90" y2="269.30" stroke="#6b6b6b" stroke-width="0.6" />
<line x1="233.50" y1="266.25" x2="234.90" y2="266.25" stroke="#6b6b6b" stroke-width="0.6" />
<line x1="233.50" y1="263.77" x2="234.90" y2="263.77" stroke="#6b6b6b" stroke-width="0.6" />
<line x1="233.50" y1="261.66" x2="234.90" y2="261.66" stroke="#6b6b6b" stroke-width="0.6" />
<line x1="233.50" y1="259.84" x2="234.90" y2="259.84" stroke="#6b6b6b" stroke-width="0.6" />
<line x1="233.50" y1="258.24" x2="234.90" y2="258.24" stroke="#6b6b6b" stroke-width="0.6" />
<line x1="233.50" y1="256.80" x2="236.00" y2="256.80" stroke="#6b6b6b" stroke-width="1" />
<line x1="233.50" y1="247.35" x2="234.90" y2="247.35" stroke="#6b6b6b" stroke-width="0.6" />
<line x1="233.50" y1="241.82" x2="234.90" y2="241.82" stroke="#6b6b6b" stroke-width="0.6" />
<line x1="233.50" y1="237.90" x2="234.90" y2="237.90" stroke="#6b6b6b" stroke-width="0.6" />
<line x1="233.50" y1="234.85" x2="234.90" y2="234.85" stroke="#6b6b6b" stroke-width="0.6" />
<line x1="233.50" y1="232.37" x2="234.90" y2="232.37" stroke="#6b6b6b" stroke-width="0.6" />
<line x1="233.50" y1="230.26" x2="234.90" y2="230.26" stroke="#6b6b6b" stroke-width="0.6" />
<line x1="233.50" y1="228.44" x2="234.90" y2="228.44" stroke="#6b6b6b" stroke-width="0.6" />
<line x1="233.50" y1="226.84" x2="234.90" y2="226.84" stroke="#6b6b6b" stroke-width="0.6" />
<line x1="233.50" y1="225.40" x2="236.00" y2="225.40" stroke="#6b6b6b" stroke-width="1" />
<line x1="233.50" y1="215.95" x2="234.90" y2="215.95" stroke="#6b6b6b" stroke-width="0.6" />
<line x1="233.50" y1="210.42" x2="234.90" y2="210.42" stroke="#6b6b6b" stroke-width="0.6" />
<line x1="233.50" y1="206.50" x2="234.90" y2="206.50" stroke="#6b6b6b" stroke-width="0.6" />
<line x1="233.50" y1="203.45" x2="234.90" y2="203.45" stroke="#6b6b6b" stroke-width="0.6" />
<line x1="233.50" y1="200.97" x2="234.90" y2="200.97" stroke="#6b6b6b" stroke-width="0.6" />
<line x1="233.50" y1="198.86" x2="234.90" y2="198.86" stroke="#6b6b6b" stroke-width="0.6" />
<line x1="233.50" y1="197.04" x2="234.90" y2="197.04" stroke="#6b6b6b" stroke-width="0.6" />
<line x1="233.50" y1="195.44" x2="234.90" y2="195.44" stroke="#6b6b6b" stroke-width="0.6" />
<line x1="233.50" y1="194.00" x2="236.00" y2="194.00" stroke="#6b6b6b" stroke-width="1" />
<line x1="233.50" y1="184.55" x2="234.90" y2="184.55" stroke="#6b6b6b" stroke-width="0.6" />
<line x1="233.50" y1="179.02" x2="234.90" y2="179.02" stroke="#6b6b6b" stroke-width="0.6" />
<line x1="233.50" y1="175.10" x2="234.90" y2="175.10" stroke="#6b6b6b" stroke-width="0.6" />
<text x="246.50" y="310.30" font-size="9" text-anchor="middle" fill="#1a1a1a" stroke="#1a1a1a" stroke-width="0.3" >0</text>
<text x="272.70" y="310.30" font-size="9" text-anchor="middle" fill="#1a1a1a" stroke="#1a1a1a" stroke-width="0.3" >200</text>
<text x="298.90" y="310.30" font-size="9" text-anchor="middle" fill="#1a1a1a" stroke="#1a1a1a" stroke-width="0.3" >400</text>
<text x="325.10" y="310.30" font-size="9" text-anchor="middle" fill="#1a1a1a" stroke="#1a1a1a" stroke-width="0.3" >600</text>
<text x="351.30" y="310.30" font-size="9" text-anchor="middle" fill="#1a1a1a" stroke="#1a1a1a" stroke-width="0.3" >800</text>
<text x="377.50" y="310.30" font-size="9" text-anchor="middle" fill="#1a1a1a" stroke="#1a1a1a" stroke-width="0.3" >1 000</text>
<text x="229.60" y="197.30" font-size="9" text-anchor="end" fill="#1a1a1a" stroke="#1a1a1a" stroke-width="0.3" >10<tspan font-size="5.3" dy="-3.4">7</tspan></text>
<text x="229.60" y="228.70" font-size="9" text-anchor="end" fill="#1a1a1a" stroke="#1a1a1a" stroke-width="0.3" >10<tspan font-size="5.3" dy="-3.4">6</tspan></text>
<text x="229.60" y="260.10" font-size="9" text-anchor="end" fill="#1a1a1a" stroke="#1a1a1a" stroke-width="0.3" >10<tspan font-size="5.3" dy="-3.4">5</tspan></text>
<text x="229.60" y="291.50" font-size="9" text-anchor="end" fill="#1a1a1a" stroke="#1a1a1a" stroke-width="0.3" >10<tspan font-size="5.3" dy="-3.4">4</tspan></text>
<text x="0" y="0" font-size="8.8" text-anchor="middle" fill="#1a1a1a" stroke="#1a1a1a" stroke-width="0.3" transform="translate(209.80,239.70) rotate(-90)">Resistance/Ω</text>
<text x="311.00" y="320.60" font-size="8.8" text-anchor="middle" fill="#1a1a1a" stroke="#1a1a1a" stroke-width="0.3" >Cycles</text>
<circle cx="324.3" cy="240.3" r="2.8" fill="url(#gg)"/>
<text x="329.80" y="242.70" font-size="8.8" text-anchor="start" fill="#1a1a1a" stroke="#1a1a1a" stroke-width="0.3" >OFF-state</text>
<circle cx="324.3" cy="250.5" r="2.8" fill="url(#gr)"/>
<text x="329.80" y="253.40" font-size="8.8" text-anchor="start" fill="#1a1a1a" stroke="#1a1a1a" stroke-width="0.3" >ON-state</text>
<circle cx="447.0" cy="282.3" r="2.8" fill="url(#gR)"/>
<circle cx="447.3" cy="282.8" r="2.8" fill="url(#gR)"/>
<circle cx="446.9" cy="285.0" r="2.8" fill="url(#gR)"/>
<circle cx="447.3" cy="283.7" r="2.8" fill="url(#gR)"/>
<circle cx="448.0" cy="283.4" r="2.8" fill="url(#gR)"/>
<circle cx="447.8" cy="284.7" r="2.8" fill="url(#gR)"/>
<circle cx="448.6" cy="283.8" r="2.8" fill="url(#gR)"/>
<circle cx="448.3" cy="284.0" r="2.8" fill="url(#gR)"/>
<circle cx="449.0" cy="283.3" r="2.8" fill="url(#gR)"/>
<circle cx="449.7" cy="285.0" r="2.8" fill="url(#gR)"/>
<circle cx="449.4" cy="284.2" r="2.8" fill="url(#gR)"/>
<circle cx="449.7" cy="285.0" r="2.8" fill="url(#gR)"/>
<circle cx="449.9" cy="283.1" r="2.8" fill="url(#gR)"/>
<circle cx="450.9" cy="283.9" r="2.8" fill="url(#gR)"/>
<circle cx="451.2" cy="284.3" r="2.8" fill="url(#gR)"/>
<circle cx="451.4" cy="284.2" r="2.8" fill="url(#gR)"/>
<circle cx="452.0" cy="282.8" r="2.8" fill="url(#gR)"/>
<circle cx="452.1" cy="285.2" r="2.8" fill="url(#gR)"/>
<circle cx="452.6" cy="285.2" r="2.8" fill="url(#gR)"/>
<circle cx="452.7" cy="284.8" r="2.8" fill="url(#gR)"/>
<circle cx="453.0" cy="284.6" r="2.8" fill="url(#gR)"/>
<circle cx="453.5" cy="282.3" r="2.8" fill="url(#gR)"/>
<circle cx="453.6" cy="283.1" r="2.8" fill="url(#gR)"/>
<circle cx="453.7" cy="284.9" r="2.8" fill="url(#gR)"/>
<circle cx="454.1" cy="282.8" r="2.8" fill="url(#gR)"/>
<circle cx="454.7" cy="284.8" r="2.8" fill="url(#gR)"/>
<circle cx="455.1" cy="285.2" r="2.8" fill="url(#gR)"/>
<circle cx="455.0" cy="284.5" r="2.8" fill="url(#gR)"/>
<circle cx="455.8" cy="282.4" r="2.8" fill="url(#gR)"/>
<circle cx="456.1" cy="281.9" r="2.8" fill="url(#gR)"/>
<circle cx="455.7" cy="284.0" r="2.8" fill="url(#gR)"/>
<circle cx="456.5" cy="282.3" r="2.8" fill="url(#gR)"/>
<circle cx="456.5" cy="282.0" r="2.8" fill="url(#gR)"/>
<circle cx="456.5" cy="282.1" r="2.8" fill="url(#gR)"/>
<circle cx="457.4" cy="282.6" r="2.8" fill="url(#gR)"/>
<circle cx="457.9" cy="281.8" r="2.8" fill="url(#gR)"/>
<circle cx="457.6" cy="283.9" r="2.8" fill="url(#gR)"/>
<circle cx="457.7" cy="284.2" r="2.8" fill="url(#gR)"/>
<circle cx="458.5" cy="282.6" r="2.8" fill="url(#gR)"/>
<circle cx="459.0" cy="284.7" r="2.8" fill="url(#gR)"/>
<circle cx="459.6" cy="281.8" r="2.8" fill="url(#gR)"/>
<circle cx="459.1" cy="282.2" r="2.8" fill="url(#gR)"/>
<circle cx="459.3" cy="283.7" r="2.8" fill="url(#gR)"/>
<circle cx="459.8" cy="283.1" r="2.8" fill="url(#gR)"/>
<circle cx="460.2" cy="283.2" r="2.8" fill="url(#gR)"/>
<circle cx="460.5" cy="283.1" r="2.8" fill="url(#gR)"/>
<circle cx="461.1" cy="283.4" r="2.8" fill="url(#gR)"/>
<circle cx="461.3" cy="283.2" r="2.8" fill="url(#gR)"/>
<circle cx="461.5" cy="282.7" r="2.8" fill="url(#gR)"/>
<circle cx="461.9" cy="282.0" r="2.8" fill="url(#gR)"/>
<circle cx="461.9" cy="283.5" r="2.8" fill="url(#gR)"/>
<circle cx="462.6" cy="282.9" r="2.8" fill="url(#gR)"/>
<circle cx="463.0" cy="283.5" r="2.8" fill="url(#gR)"/>
<circle cx="463.5" cy="282.7" r="2.8" fill="url(#gR)"/>
<circle cx="463.9" cy="282.3" r="2.8" fill="url(#gR)"/>
<circle cx="463.6" cy="283.0" r="2.8" fill="url(#gR)"/>
<circle cx="464.6" cy="283.0" r="2.8" fill="url(#gR)"/>
<circle cx="464.9" cy="284.2" r="2.8" fill="url(#gR)"/>
<circle cx="464.7" cy="285.2" r="2.8" fill="url(#gR)"/>
<circle cx="464.6" cy="284.6" r="2.8" fill="url(#gR)"/>
<circle cx="465.2" cy="284.6" r="2.8" fill="url(#gR)"/>
<circle cx="465.9" cy="283.1" r="2.8" fill="url(#gR)"/>
<circle cx="466.1" cy="283.6" r="2.8" fill="url(#gR)"/>
<circle cx="466.2" cy="283.1" r="2.8" fill="url(#gR)"/>
<circle cx="466.2" cy="284.9" r="2.8" fill="url(#gR)"/>
<circle cx="467.1" cy="282.2" r="2.8" fill="url(#gR)"/>
<circle cx="467.0" cy="282.4" r="2.8" fill="url(#gR)"/>
<circle cx="467.1" cy="283.0" r="2.8" fill="url(#gR)"/>
<circle cx="468.4" cy="283.3" r="2.8" fill="url(#gR)"/>
<circle cx="467.8" cy="284.8" r="2.8" fill="url(#gR)"/>
<circle cx="469.0" cy="285.2" r="2.8" fill="url(#gR)"/>
<circle cx="468.5" cy="284.8" r="2.8" fill="url(#gR)"/>
<circle cx="468.8" cy="283.2" r="2.8" fill="url(#gR)"/>
<circle cx="469.7" cy="284.4" r="2.8" fill="url(#gR)"/>
<circle cx="470.3" cy="283.1" r="2.8" fill="url(#gR)"/>
<circle cx="470.3" cy="284.4" r="2.8" fill="url(#gR)"/>
<circle cx="470.8" cy="283.5" r="2.8" fill="url(#gR)"/>
<circle cx="471.0" cy="283.9" r="2.8" fill="url(#gR)"/>
<circle cx="470.6" cy="284.9" r="2.8" fill="url(#gR)"/>
<circle cx="471.1" cy="282.3" r="2.8" fill="url(#gR)"/>
<circle cx="471.5" cy="285.0" r="2.8" fill="url(#gR)"/>
<circle cx="472.1" cy="283.3" r="2.8" fill="url(#gR)"/>
<circle cx="472.3" cy="283.8" r="2.8" fill="url(#gR)"/>
<circle cx="472.6" cy="284.6" r="2.8" fill="url(#gR)"/>
<circle cx="472.6" cy="284.5" r="2.8" fill="url(#gR)"/>
<circle cx="473.2" cy="284.4" r="2.8" fill="url(#gR)"/>
<circle cx="473.2" cy="283.6" r="2.8" fill="url(#gR)"/>
<circle cx="473.6" cy="284.8" r="2.8" fill="url(#gR)"/>
<circle cx="474.2" cy="284.4" r="2.8" fill="url(#gR)"/>
<circle cx="475.0" cy="282.0" r="2.8" fill="url(#gR)"/>
<circle cx="474.5" cy="284.4" r="2.8" fill="url(#gR)"/>
<circle cx="475.6" cy="282.5" r="2.8" fill="url(#gR)"/>
<circle cx="475.6" cy="283.4" r="2.8" fill="url(#gR)"/>
<circle cx="475.3" cy="283.2" r="2.8" fill="url(#gR)"/>
<circle cx="475.9" cy="282.1" r="2.8" fill="url(#gR)"/>
<circle cx="476.3" cy="282.2" r="2.8" fill="url(#gR)"/>
<circle cx="477.0" cy="283.1" r="2.8" fill="url(#gR)"/>
<circle cx="477.2" cy="281.8" r="2.8" fill="url(#gR)"/>
<circle cx="477.5" cy="282.6" r="2.8" fill="url(#gR)"/>
<circle cx="477.3" cy="282.9" r="2.8" fill="url(#gR)"/>
<circle cx="477.6" cy="284.2" r="2.8" fill="url(#gR)"/>
<circle cx="478.1" cy="284.5" r="2.8" fill="url(#gR)"/>
<circle cx="478.7" cy="282.0" r="2.8" fill="url(#gR)"/>
<circle cx="479.4" cy="284.0" r="2.8" fill="url(#gR)"/>
<circle cx="478.9" cy="282.3" r="2.8" fill="url(#gR)"/>
<circle cx="479.3" cy="284.9" r="2.8" fill="url(#gR)"/>
<circle cx="480.0" cy="283.8" r="2.8" fill="url(#gR)"/>
<circle cx="480.3" cy="285.1" r="2.8" fill="url(#gR)"/>
<circle cx="480.2" cy="284.5" r="2.8" fill="url(#gR)"/>
<circle cx="480.8" cy="284.4" r="2.8" fill="url(#gR)"/>
<circle cx="481.3" cy="284.3" r="2.8" fill="url(#gR)"/>
<circle cx="481.4" cy="281.9" r="2.8" fill="url(#gR)"/>
<circle cx="481.5" cy="283.7" r="2.8" fill="url(#gR)"/>
<circle cx="481.9" cy="282.6" r="2.8" fill="url(#gR)"/>
<circle cx="482.8" cy="283.1" r="2.8" fill="url(#gR)"/>
<circle cx="482.9" cy="285.0" r="2.8" fill="url(#gR)"/>
<circle cx="483.5" cy="283.9" r="2.8" fill="url(#gR)"/>
<circle cx="483.4" cy="284.7" r="2.8" fill="url(#gR)"/>
<circle cx="483.5" cy="281.4" r="2.8" fill="url(#gR)"/>
<circle cx="484.1" cy="282.3" r="2.8" fill="url(#gR)"/>
<circle cx="483.9" cy="282.8" r="2.8" fill="url(#gR)"/>
<circle cx="484.5" cy="283.8" r="2.8" fill="url(#gR)"/>
<circle cx="485.3" cy="283.1" r="2.8" fill="url(#gR)"/>
<circle cx="484.9" cy="284.4" r="2.8" fill="url(#gR)"/>
<circle cx="485.8" cy="283.2" r="2.8" fill="url(#gR)"/>
<circle cx="485.7" cy="282.0" r="2.8" fill="url(#gR)"/>
<circle cx="486.6" cy="284.4" r="2.8" fill="url(#gR)"/>
<circle cx="486.4" cy="284.0" r="2.8" fill="url(#gR)"/>
<circle cx="487.2" cy="283.9" r="2.8" fill="url(#gR)"/>
<circle cx="486.7" cy="281.6" r="2.8" fill="url(#gR)"/>
<circle cx="487.9" cy="283.7" r="2.8" fill="url(#gR)"/>
<circle cx="487.5" cy="284.9" r="2.8" fill="url(#gR)"/>
<circle cx="488.3" cy="282.7" r="2.8" fill="url(#gR)"/>
<circle cx="488.1" cy="282.9" r="2.8" fill="url(#gR)"/>
<circle cx="488.8" cy="283.2" r="2.8" fill="url(#gR)"/>
<circle cx="489.3" cy="282.5" r="2.8" fill="url(#gR)"/>
<circle cx="489.3" cy="283.6" r="2.8" fill="url(#gR)"/>
<circle cx="490.1" cy="282.4" r="2.8" fill="url(#gR)"/>
<circle cx="489.8" cy="281.7" r="2.8" fill="url(#gR)"/>
<circle cx="490.3" cy="282.9" r="2.8" fill="url(#gR)"/>
<circle cx="491.0" cy="282.4" r="2.8" fill="url(#gR)"/>
<circle cx="491.2" cy="282.5" r="2.8" fill="url(#gR)"/>
<circle cx="491.5" cy="283.6" r="2.8" fill="url(#gR)"/>
<circle cx="491.5" cy="284.7" r="2.8" fill="url(#gR)"/>
<circle cx="491.8" cy="281.7" r="2.8" fill="url(#gR)"/>
<circle cx="491.7" cy="281.6" r="2.8" fill="url(#gR)"/>
<circle cx="492.1" cy="281.9" r="2.8" fill="url(#gR)"/>
<circle cx="493.1" cy="284.8" r="2.8" fill="url(#gR)"/>
<circle cx="492.7" cy="282.5" r="2.8" fill="url(#gR)"/>
<circle cx="493.4" cy="281.8" r="2.8" fill="url(#gR)"/>
<circle cx="494.2" cy="283.3" r="2.8" fill="url(#gR)"/>
<circle cx="494.1" cy="283.1" r="2.8" fill="url(#gR)"/>
<circle cx="494.1" cy="283.8" r="2.8" fill="url(#gR)"/>
<circle cx="494.4" cy="282.6" r="2.8" fill="url(#gR)"/>
<circle cx="495.1" cy="283.0" r="2.8" fill="url(#gR)"/>
<circle cx="495.7" cy="283.2" r="2.8" fill="url(#gR)"/>
<circle cx="495.4" cy="283.9" r="2.8" fill="url(#gR)"/>
<circle cx="496.4" cy="283.0" r="2.8" fill="url(#gR)"/>
<circle cx="496.2" cy="281.9" r="2.8" fill="url(#gR)"/>
<circle cx="496.3" cy="283.4" r="2.8" fill="url(#gR)"/>
<circle cx="497.4" cy="284.4" r="2.8" fill="url(#gR)"/>
<circle cx="497.1" cy="282.9" r="2.8" fill="url(#gR)"/>
<circle cx="497.7" cy="282.8" r="2.8" fill="url(#gR)"/>
<circle cx="497.8" cy="282.0" r="2.8" fill="url(#gR)"/>
<circle cx="498.4" cy="282.3" r="2.8" fill="url(#gR)"/>
<circle cx="498.5" cy="283.9" r="2.8" fill="url(#gR)"/>
<circle cx="498.4" cy="284.2" r="2.8" fill="url(#gR)"/>
<circle cx="499.5" cy="285.0" r="2.8" fill="url(#gR)"/>
<circle cx="499.5" cy="282.9" r="2.8" fill="url(#gR)"/>
<circle cx="500.2" cy="283.8" r="2.8" fill="url(#gR)"/>
<circle cx="500.0" cy="284.0" r="2.8" fill="url(#gR)"/>
<circle cx="500.2" cy="282.7" r="2.8" fill="url(#gR)"/>
<circle cx="500.2" cy="283.7" r="2.8" fill="url(#gR)"/>
<circle cx="500.8" cy="283.1" r="2.8" fill="url(#gR)"/>
<circle cx="501.5" cy="284.1" r="2.8" fill="url(#gR)"/>
<circle cx="501.4" cy="282.2" r="2.8" fill="url(#gR)"/>
<circle cx="501.5" cy="284.7" r="2.8" fill="url(#gR)"/>
<circle cx="501.9" cy="283.1" r="2.8" fill="url(#gR)"/>
<circle cx="503.0" cy="282.7" r="2.8" fill="url(#gR)"/>
<circle cx="503.3" cy="283.3" r="2.8" fill="url(#gR)"/>
<circle cx="503.3" cy="282.0" r="2.8" fill="url(#gR)"/>
<circle cx="503.3" cy="283.6" r="2.8" fill="url(#gR)"/>
<circle cx="503.5" cy="284.4" r="2.8" fill="url(#gR)"/>
<circle cx="504.3" cy="283.9" r="2.8" fill="url(#gR)"/>
<circle cx="504.6" cy="281.9" r="2.8" fill="url(#gR)"/>
<circle cx="505.2" cy="282.6" r="2.8" fill="url(#gR)"/>
<circle cx="504.9" cy="284.9" r="2.8" fill="url(#gR)"/>
<circle cx="505.3" cy="284.9" r="2.8" fill="url(#gR)"/>
<circle cx="505.8" cy="283.2" r="2.8" fill="url(#gR)"/>
<circle cx="506.1" cy="284.1" r="2.8" fill="url(#gR)"/>
<circle cx="506.2" cy="285.1" r="2.8" fill="url(#gR)"/>
<circle cx="506.3" cy="284.7" r="2.8" fill="url(#gR)"/>
<circle cx="506.6" cy="283.1" r="2.8" fill="url(#gR)"/>
<circle cx="507.7" cy="282.0" r="2.8" fill="url(#gR)"/>
<circle cx="508.0" cy="282.1" r="2.8" fill="url(#gR)"/>
<circle cx="507.9" cy="283.9" r="2.8" fill="url(#gR)"/>
<circle cx="508.3" cy="283.2" r="2.8" fill="url(#gR)"/>
<circle cx="508.4" cy="282.4" r="2.8" fill="url(#gR)"/>
<circle cx="509.0" cy="283.9" r="2.8" fill="url(#gR)"/>
<circle cx="509.0" cy="281.7" r="2.8" fill="url(#gR)"/>
<circle cx="509.9" cy="283.2" r="2.8" fill="url(#gR)"/>
<circle cx="510.1" cy="281.5" r="2.8" fill="url(#gR)"/>
<circle cx="510.2" cy="284.1" r="2.8" fill="url(#gR)"/>
<circle cx="510.2" cy="281.4" r="2.8" fill="url(#gR)"/>
<circle cx="510.9" cy="284.3" r="2.8" fill="url(#gR)"/>
<circle cx="511.2" cy="281.6" r="2.8" fill="url(#gR)"/>
<circle cx="511.7" cy="282.4" r="2.8" fill="url(#gR)"/>
<circle cx="511.5" cy="281.2" r="2.8" fill="url(#gR)"/>
<circle cx="512.2" cy="281.6" r="2.8" fill="url(#gR)"/>
<circle cx="512.8" cy="284.4" r="2.8" fill="url(#gR)"/>
<circle cx="512.7" cy="282.7" r="2.8" fill="url(#gR)"/>
<circle cx="513.4" cy="284.9" r="2.8" fill="url(#gR)"/>
<circle cx="513.0" cy="283.5" r="2.8" fill="url(#gR)"/>
<circle cx="513.7" cy="283.1" r="2.8" fill="url(#gR)"/>
<circle cx="513.6" cy="284.3" r="2.8" fill="url(#gR)"/>
<circle cx="514.4" cy="283.9" r="2.8" fill="url(#gR)"/>
<circle cx="514.3" cy="281.8" r="2.8" fill="url(#gR)"/>
<circle cx="514.7" cy="285.1" r="2.8" fill="url(#gR)"/>
<circle cx="514.9" cy="282.8" r="2.8" fill="url(#gR)"/>
<circle cx="515.5" cy="280.6" r="2.8" fill="url(#gR)"/>
<circle cx="515.6" cy="283.7" r="2.8" fill="url(#gR)"/>
<circle cx="516.4" cy="282.4" r="2.8" fill="url(#gR)"/>
<circle cx="516.3" cy="282.6" r="2.8" fill="url(#gR)"/>
<circle cx="516.8" cy="282.1" r="2.8" fill="url(#gR)"/>
<circle cx="516.8" cy="285.2" r="2.8" fill="url(#gR)"/>
<circle cx="517.1" cy="282.9" r="2.8" fill="url(#gR)"/>
<circle cx="517.5" cy="281.6" r="2.8" fill="url(#gR)"/>
<circle cx="518.1" cy="283.2" r="2.8" fill="url(#gR)"/>
<circle cx="518.5" cy="283.5" r="2.8" fill="url(#gR)"/>
<circle cx="518.3" cy="281.7" r="2.8" fill="url(#gR)"/>
<circle cx="518.6" cy="282.0" r="2.8" fill="url(#gR)"/>
<circle cx="518.9" cy="282.0" r="2.8" fill="url(#gR)"/>
<circle cx="519.6" cy="284.5" r="2.8" fill="url(#gR)"/>
<circle cx="520.2" cy="284.4" r="2.8" fill="url(#gR)"/>
<circle cx="520.7" cy="283.3" r="2.8" fill="url(#gR)"/>
<circle cx="520.3" cy="283.3" r="2.8" fill="url(#gR)"/>
<circle cx="520.7" cy="284.5" r="2.8" fill="url(#gR)"/>
<circle cx="521.3" cy="283.1" r="2.8" fill="url(#gR)"/>
<circle cx="521.2" cy="283.6" r="2.8" fill="url(#gR)"/>
<circle cx="522.2" cy="282.4" r="2.8" fill="url(#gR)"/>
<circle cx="522.5" cy="284.0" r="2.8" fill="url(#gR)"/>
<circle cx="522.0" cy="281.8" r="2.8" fill="url(#gR)"/>
<circle cx="523.0" cy="284.1" r="2.8" fill="url(#gR)"/>
<circle cx="522.8" cy="284.6" r="2.8" fill="url(#gR)"/>
<circle cx="523.0" cy="284.9" r="2.8" fill="url(#gR)"/>
<circle cx="523.7" cy="282.8" r="2.8" fill="url(#gR)"/>
<circle cx="524.0" cy="283.3" r="2.8" fill="url(#gR)"/>
<circle cx="524.2" cy="282.7" r="2.8" fill="url(#gR)"/>
<circle cx="525.1" cy="284.1" r="2.8" fill="url(#gR)"/>
<circle cx="525.0" cy="282.9" r="2.8" fill="url(#gR)"/>
<circle cx="525.5" cy="282.4" r="2.8" fill="url(#gR)"/>
<circle cx="525.5" cy="284.5" r="2.8" fill="url(#gR)"/>
<circle cx="525.7" cy="284.9" r="2.8" fill="url(#gR)"/>
<circle cx="526.4" cy="283.4" r="2.8" fill="url(#gR)"/>
<circle cx="526.5" cy="284.9" r="2.8" fill="url(#gR)"/>
<circle cx="527.3" cy="282.7" r="2.8" fill="url(#gR)"/>
<circle cx="527.0" cy="283.2" r="2.8" fill="url(#gR)"/>
<circle cx="527.3" cy="284.2" r="2.8" fill="url(#gR)"/>
<circle cx="527.6" cy="284.4" r="2.8" fill="url(#gR)"/>
<circle cx="528.0" cy="283.3" r="2.8" fill="url(#gR)"/>
<circle cx="528.0" cy="283.0" r="2.8" fill="url(#gR)"/>
<circle cx="528.5" cy="284.5" r="2.8" fill="url(#gR)"/>
<circle cx="528.9" cy="284.5" r="2.8" fill="url(#gR)"/>
<circle cx="529.1" cy="283.4" r="2.8" fill="url(#gR)"/>
<circle cx="530.1" cy="283.8" r="2.8" fill="url(#gR)"/>
<circle cx="529.7" cy="284.5" r="2.8" fill="url(#gR)"/>
<circle cx="530.5" cy="284.3" r="2.8" fill="url(#gR)"/>
<circle cx="530.8" cy="283.2" r="2.8" fill="url(#gR)"/>
<circle cx="531.4" cy="283.8" r="2.8" fill="url(#gR)"/>
<circle cx="531.0" cy="284.5" r="2.8" fill="url(#gR)"/>
<circle cx="531.8" cy="282.9" r="2.8" fill="url(#gR)"/>
<circle cx="531.8" cy="284.1" r="2.8" fill="url(#gR)"/>
<circle cx="532.7" cy="282.8" r="2.8" fill="url(#gR)"/>
<circle cx="532.2" cy="285.1" r="2.8" fill="url(#gR)"/>
<circle cx="532.7" cy="284.1" r="2.8" fill="url(#gR)"/>
<circle cx="533.3" cy="284.7" r="2.8" fill="url(#gR)"/>
<circle cx="533.8" cy="284.7" r="2.8" fill="url(#gR)"/>
<circle cx="533.9" cy="285.1" r="2.8" fill="url(#gR)"/>
<circle cx="534.2" cy="283.4" r="2.8" fill="url(#gR)"/>
<circle cx="534.0" cy="282.2" r="2.8" fill="url(#gR)"/>
<circle cx="534.6" cy="282.5" r="2.8" fill="url(#gR)"/>
<circle cx="535.4" cy="282.2" r="2.8" fill="url(#gR)"/>
<circle cx="534.9" cy="283.0" r="2.8" fill="url(#gR)"/>
<circle cx="536.0" cy="282.5" r="2.8" fill="url(#gR)"/>
<circle cx="536.0" cy="282.7" r="2.8" fill="url(#gR)"/>
<circle cx="535.9" cy="283.9" r="2.8" fill="url(#gR)"/>
<circle cx="536.9" cy="283.1" r="2.8" fill="url(#gR)"/>
<circle cx="536.8" cy="282.0" r="2.8" fill="url(#gR)"/>
<circle cx="537.3" cy="284.1" r="2.8" fill="url(#gR)"/>
<circle cx="537.5" cy="284.2" r="2.8" fill="url(#gR)"/>
<circle cx="538.3" cy="283.2" r="2.8" fill="url(#gR)"/>
<circle cx="538.5" cy="283.3" r="2.8" fill="url(#gR)"/>
<circle cx="538.7" cy="284.6" r="2.8" fill="url(#gR)"/>
<circle cx="538.8" cy="283.0" r="2.8" fill="url(#gR)"/>
<circle cx="538.9" cy="284.2" r="2.8" fill="url(#gR)"/>
<circle cx="539.4" cy="283.6" r="2.8" fill="url(#gR)"/>
<circle cx="540.2" cy="283.6" r="2.8" fill="url(#gR)"/>
<circle cx="540.4" cy="283.7" r="2.8" fill="url(#gR)"/>
<circle cx="540.1" cy="284.7" r="2.8" fill="url(#gR)"/>
<circle cx="540.7" cy="281.2" r="2.8" fill="url(#gR)"/>
<circle cx="541.1" cy="284.6" r="2.8" fill="url(#gR)"/>
<circle cx="541.4" cy="284.6" r="2.8" fill="url(#gR)"/>
<circle cx="541.2" cy="284.1" r="2.8" fill="url(#gR)"/>
<circle cx="541.5" cy="284.1" r="2.8" fill="url(#gR)"/>
<circle cx="542.3" cy="280.9" r="2.8" fill="url(#gR)"/>
<circle cx="543.1" cy="285.1" r="2.8" fill="url(#gR)"/>
<circle cx="543.4" cy="280.7" r="2.8" fill="url(#gR)"/>
<circle cx="542.7" cy="281.5" r="2.8" fill="url(#gR)"/>
<circle cx="544.0" cy="281.2" r="2.8" fill="url(#gR)"/>
<circle cx="544.3" cy="281.3" r="2.8" fill="url(#gR)"/>
<circle cx="544.1" cy="284.3" r="2.8" fill="url(#gR)"/>
<circle cx="544.2" cy="281.5" r="2.8" fill="url(#gR)"/>
<circle cx="544.7" cy="285.0" r="2.8" fill="url(#gR)"/>
<circle cx="544.8" cy="283.6" r="2.8" fill="url(#gR)"/>
<circle cx="545.4" cy="280.3" r="2.8" fill="url(#gR)"/>
<circle cx="545.5" cy="282.6" r="2.8" fill="url(#gR)"/>
<circle cx="545.7" cy="282.4" r="2.8" fill="url(#gR)"/>
<circle cx="546.3" cy="284.4" r="2.8" fill="url(#gR)"/>
<circle cx="546.9" cy="281.1" r="2.8" fill="url(#gR)"/>
<circle cx="547.5" cy="282.8" r="2.8" fill="url(#gR)"/>
<circle cx="547.8" cy="283.6" r="2.8" fill="url(#gR)"/>
<circle cx="547.2" cy="280.8" r="2.8" fill="url(#gR)"/>
<circle cx="547.8" cy="283.3" r="2.8" fill="url(#gR)"/>
<circle cx="548.0" cy="280.0" r="2.8" fill="url(#gR)"/>
<circle cx="548.4" cy="280.0" r="2.8" fill="url(#gR)"/>
<circle cx="548.7" cy="283.4" r="2.8" fill="url(#gR)"/>
<circle cx="549.7" cy="280.3" r="2.8" fill="url(#gR)"/>
<circle cx="549.8" cy="282.4" r="2.8" fill="url(#gR)"/>
<circle cx="549.8" cy="281.9" r="2.8" fill="url(#gR)"/>
<circle cx="550.0" cy="280.5" r="2.8" fill="url(#gR)"/>
<circle cx="550.5" cy="284.9" r="2.8" fill="url(#gR)"/>
<circle cx="551.0" cy="279.8" r="2.8" fill="url(#gR)"/>
<circle cx="550.8" cy="283.8" r="2.8" fill="url(#gR)"/>
<circle cx="551.6" cy="279.8" r="2.8" fill="url(#gR)"/>
<circle cx="552.1" cy="280.8" r="2.8" fill="url(#gR)"/>
<circle cx="551.8" cy="284.1" r="2.8" fill="url(#gR)"/>
<circle cx="552.4" cy="279.0" r="2.8" fill="url(#gR)"/>
<circle cx="552.7" cy="279.3" r="2.8" fill="url(#gR)"/>
<circle cx="552.9" cy="283.4" r="2.8" fill="url(#gR)"/>
<circle cx="552.9" cy="281.1" r="2.8" fill="url(#gR)"/>
<circle cx="554.0" cy="284.7" r="2.8" fill="url(#gR)"/>
<circle cx="554.0" cy="283.5" r="2.8" fill="url(#gR)"/>
<circle cx="553.8" cy="284.4" r="2.8" fill="url(#gR)"/>
<circle cx="554.7" cy="280.2" r="2.8" fill="url(#gR)"/>
<circle cx="554.5" cy="280.8" r="2.8" fill="url(#gR)"/>
<circle cx="555.2" cy="281.2" r="2.8" fill="url(#gR)"/>
<circle cx="555.8" cy="283.4" r="2.8" fill="url(#gR)"/>
<circle cx="556.3" cy="284.6" r="2.8" fill="url(#gR)"/>
<circle cx="555.7" cy="283.6" r="2.8" fill="url(#gR)"/>
<circle cx="556.8" cy="283.9" r="2.8" fill="url(#gR)"/>
<circle cx="557.1" cy="280.6" r="2.8" fill="url(#gR)"/>
<circle cx="557.0" cy="284.5" r="2.8" fill="url(#gR)"/>
<circle cx="557.4" cy="280.1" r="2.8" fill="url(#gR)"/>
<circle cx="557.3" cy="282.3" r="2.8" fill="url(#gR)"/>
<circle cx="558.3" cy="284.8" r="2.8" fill="url(#gR)"/>
<circle cx="558.2" cy="283.5" r="2.8" fill="url(#gR)"/>
<circle cx="558.4" cy="284.1" r="2.8" fill="url(#gR)"/>
<circle cx="558.5" cy="282.8" r="2.8" fill="url(#gR)"/>
<circle cx="559.1" cy="284.3" r="2.8" fill="url(#gR)"/>
<circle cx="559.9" cy="282.0" r="2.8" fill="url(#gR)"/>
<circle cx="559.9" cy="284.0" r="2.8" fill="url(#gR)"/>
<circle cx="560.3" cy="281.6" r="2.8" fill="url(#gR)"/>
<circle cx="560.9" cy="281.5" r="2.8" fill="url(#gR)"/>
<circle cx="561.2" cy="281.8" r="2.8" fill="url(#gR)"/>
<circle cx="561.0" cy="282.5" r="2.8" fill="url(#gR)"/>
<circle cx="561.1" cy="283.8" r="2.8" fill="url(#gR)"/>
<circle cx="561.6" cy="282.0" r="2.8" fill="url(#gR)"/>
<circle cx="562.1" cy="285.2" r="2.8" fill="url(#gR)"/>
<circle cx="562.6" cy="280.8" r="2.8" fill="url(#gR)"/>
<circle cx="562.4" cy="280.7" r="2.8" fill="url(#gR)"/>
<circle cx="563.4" cy="284.4" r="2.8" fill="url(#gR)"/>
<circle cx="563.2" cy="283.7" r="2.8" fill="url(#gR)"/>
<circle cx="563.4" cy="280.9" r="2.8" fill="url(#gR)"/>
<circle cx="563.6" cy="281.2" r="2.8" fill="url(#gR)"/>
<circle cx="564.4" cy="283.7" r="2.8" fill="url(#gR)"/>
<circle cx="564.4" cy="281.3" r="2.8" fill="url(#gR)"/>
<circle cx="565.3" cy="283.6" r="2.8" fill="url(#gR)"/>
<circle cx="564.9" cy="282.3" r="2.8" fill="url(#gR)"/>
<circle cx="565.8" cy="281.4" r="2.8" fill="url(#gR)"/>
<circle cx="566.3" cy="284.0" r="2.8" fill="url(#gR)"/>
<circle cx="566.2" cy="284.6" r="2.8" fill="url(#gR)"/>
<circle cx="566.5" cy="281.4" r="2.8" fill="url(#gR)"/>
<circle cx="567.3" cy="284.6" r="2.8" fill="url(#gR)"/>
<circle cx="566.9" cy="282.7" r="2.8" fill="url(#gR)"/>
<circle cx="567.6" cy="285.0" r="2.8" fill="url(#gR)"/>
<circle cx="568.1" cy="281.2" r="2.8" fill="url(#gR)"/>
<circle cx="568.4" cy="281.5" r="2.8" fill="url(#gR)"/>
<circle cx="568.8" cy="284.1" r="2.8" fill="url(#gR)"/>
<circle cx="568.4" cy="283.3" r="2.8" fill="url(#gR)"/>
<circle cx="568.6" cy="281.1" r="2.8" fill="url(#gR)"/>
<circle cx="569.5" cy="282.6" r="2.8" fill="url(#gR)"/>
<circle cx="569.3" cy="283.3" r="2.8" fill="url(#gR)"/>
<circle cx="569.5" cy="284.7" r="2.8" fill="url(#gR)"/>
<circle cx="570.6" cy="283.0" r="2.8" fill="url(#gR)"/>
<circle cx="570.4" cy="283.0" r="2.8" fill="url(#gR)"/>
<circle cx="571.0" cy="282.9" r="2.8" fill="url(#gR)"/>
<circle cx="571.3" cy="283.3" r="2.8" fill="url(#gR)"/>
<circle cx="571.6" cy="282.8" r="2.8" fill="url(#gR)"/>
<circle cx="572.1" cy="283.7" r="2.8" fill="url(#gR)"/>
<circle cx="572.2" cy="282.1" r="2.8" fill="url(#gR)"/>
<circle cx="572.2" cy="282.6" r="2.8" fill="url(#gR)"/>
<circle cx="572.3" cy="281.5" r="2.8" fill="url(#gR)"/>
<circle cx="573.6" cy="281.6" r="2.8" fill="url(#gR)"/>
<circle cx="573.6" cy="285.0" r="2.8" fill="url(#gR)"/>
<circle cx="573.7" cy="283.2" r="2.8" fill="url(#gR)"/>
<circle cx="573.9" cy="283.9" r="2.8" fill="url(#gR)"/>
<circle cx="574.0" cy="284.4" r="2.8" fill="url(#gR)"/>
<circle cx="574.7" cy="284.0" r="2.8" fill="url(#gR)"/>
<circle cx="574.7" cy="283.9" r="2.8" fill="url(#gR)"/>
<circle cx="575.0" cy="283.1" r="2.8" fill="url(#gR)"/>
<circle cx="575.7" cy="283.6" r="2.8" fill="url(#gR)"/>
<circle cx="576.1" cy="284.8" r="2.8" fill="url(#gR)"/>
<circle cx="575.9" cy="281.6" r="2.8" fill="url(#gR)"/>
<circle cx="576.9" cy="283.9" r="2.8" fill="url(#gR)"/>
<circle cx="577.0" cy="283.3" r="2.8" fill="url(#gR)"/>
<circle cx="577.1" cy="282.4" r="2.8" fill="url(#gR)"/>
<circle cx="577.1" cy="284.1" r="2.8" fill="url(#gR)"/>
<circle cx="577.7" cy="282.8" r="2.8" fill="url(#gR)"/>
<circle cx="578.2" cy="284.0" r="2.8" fill="url(#gR)"/>
<circle cx="578.7" cy="284.9" r="2.8" fill="url(#gR)"/>
<line x1="447.6" y1="188.2" x2="577.6" y2="188.2" stroke="#747474" stroke-width="5.4" stroke-linecap="round"/>
<circle cx="453.9" cy="205.0" r="2.65" fill="url(#gg)"/>
<circle cx="476.5" cy="195.2" r="2.65" fill="url(#gg)"/>
<circle cx="528.8" cy="192.7" r="2.65" fill="url(#gg)"/>
<circle cx="528.8" cy="196.7" r="2.65" fill="url(#gg)"/>
<circle cx="528.8" cy="200.6" r="2.65" fill="url(#gg)"/>
<circle cx="532.8" cy="191.4" r="2.65" fill="url(#gg)"/>
<circle cx="573.7" cy="196.7" r="2.65" fill="url(#gg)"/>
<line x1="435.00" y1="172.40" x2="589.80" y2="172.40" stroke="#6b6b6b" stroke-width="1" />
<line x1="435.00" y1="297.70" x2="589.80" y2="297.70" stroke="#6b6b6b" stroke-width="1" />
<line x1="435.00" y1="172.40" x2="435.00" y2="297.70" stroke="#6b6b6b" stroke-width="1" />
<line x1="589.80" y1="172.40" x2="589.80" y2="297.70" stroke="#6b6b6b" stroke-width="1" />
<line x1="447.50" y1="297.70" x2="447.50" y2="295.20" stroke="#6b6b6b" stroke-width="1" />
<line x1="460.46" y1="297.70" x2="460.46" y2="295.20" stroke="#6b6b6b" stroke-width="1" />
<line x1="473.42" y1="297.70" x2="473.42" y2="295.20" stroke="#6b6b6b" stroke-width="1" />
<line x1="486.38" y1="297.70" x2="486.38" y2="295.20" stroke="#6b6b6b" stroke-width="1" />
<line x1="499.34" y1="297.70" x2="499.34" y2="295.20" stroke="#6b6b6b" stroke-width="1" />
<line x1="512.30" y1="297.70" x2="512.30" y2="295.20" stroke="#6b6b6b" stroke-width="1" />
<line x1="525.26" y1="297.70" x2="525.26" y2="295.20" stroke="#6b6b6b" stroke-width="1" />
<line x1="538.22" y1="297.70" x2="538.22" y2="295.20" stroke="#6b6b6b" stroke-width="1" />
<line x1="551.18" y1="297.70" x2="551.18" y2="295.20" stroke="#6b6b6b" stroke-width="1" />
<line x1="564.14" y1="297.70" x2="564.14" y2="295.20" stroke="#6b6b6b" stroke-width="1" />
<line x1="577.10" y1="297.70" x2="577.10" y2="295.20" stroke="#6b6b6b" stroke-width="1" />
<line x1="450.40" y1="172.40" x2="450.40" y2="174.90" stroke="#6b6b6b" stroke-width="1" />
<line x1="466.00" y1="172.40" x2="466.00" y2="174.90" stroke="#6b6b6b" stroke-width="1" />
<line x1="481.60" y1="172.40" x2="481.60" y2="174.90" stroke="#6b6b6b" stroke-width="1" />
<line x1="497.20" y1="172.40" x2="497.20" y2="174.90" stroke="#6b6b6b" stroke-width="1" />
<line x1="512.80" y1="172.40" x2="512.80" y2="174.90" stroke="#6b6b6b" stroke-width="1" />
<line x1="528.40" y1="172.40" x2="528.40" y2="174.90" stroke="#6b6b6b" stroke-width="1" />
<line x1="544.00" y1="172.40" x2="544.00" y2="174.90" stroke="#6b6b6b" stroke-width="1" />
<line x1="559.60" y1="172.40" x2="559.60" y2="174.90" stroke="#6b6b6b" stroke-width="1" />
<line x1="575.20" y1="172.40" x2="575.20" y2="174.90" stroke="#6b6b6b" stroke-width="1" />
<line x1="589.80" y1="185.10" x2="587.30" y2="185.10" stroke="#6b6b6b" stroke-width="1" />
<line x1="589.80" y1="197.65" x2="587.30" y2="197.65" stroke="#6b6b6b" stroke-width="1" />
<line x1="589.80" y1="210.20" x2="587.30" y2="210.20" stroke="#6b6b6b" stroke-width="1" />
<line x1="589.80" y1="222.75" x2="587.30" y2="222.75" stroke="#6b6b6b" stroke-width="1" />
<line x1="589.80" y1="235.30" x2="587.30" y2="235.30" stroke="#6b6b6b" stroke-width="1" />
<line x1="589.80" y1="247.85" x2="587.30" y2="247.85" stroke="#6b6b6b" stroke-width="1" />
<line x1="589.80" y1="260.40" x2="587.30" y2="260.40" stroke="#6b6b6b" stroke-width="1" />
<line x1="589.80" y1="272.95" x2="587.30" y2="272.95" stroke="#6b6b6b" stroke-width="1" />
<line x1="589.80" y1="285.50" x2="587.30" y2="285.50" stroke="#6b6b6b" stroke-width="1" />
<line x1="435.00" y1="288.40" x2="437.50" y2="288.40" stroke="#6b6b6b" stroke-width="1" />
<line x1="435.00" y1="279.72" x2="436.40" y2="279.72" stroke="#6b6b6b" stroke-width="0.6" />
<line x1="435.00" y1="274.64" x2="436.40" y2="274.64" stroke="#6b6b6b" stroke-width="0.6" />
<line x1="435.00" y1="271.03" x2="436.40" y2="271.03" stroke="#6b6b6b" stroke-width="0.6" />
<line x1="435.00" y1="268.23" x2="436.40" y2="268.23" stroke="#6b6b6b" stroke-width="0.6" />
<line x1="435.00" y1="265.95" x2="436.40" y2="265.95" stroke="#6b6b6b" stroke-width="0.6" />
<line x1="435.00" y1="264.02" x2="436.40" y2="264.02" stroke="#6b6b6b" stroke-width="0.6" />
<line x1="435.00" y1="262.35" x2="436.40" y2="262.35" stroke="#6b6b6b" stroke-width="0.6" />
<line x1="435.00" y1="260.87" x2="436.40" y2="260.87" stroke="#6b6b6b" stroke-width="0.6" />
<line x1="435.00" y1="259.55" x2="437.50" y2="259.55" stroke="#6b6b6b" stroke-width="1" />
<line x1="435.00" y1="250.87" x2="436.40" y2="250.87" stroke="#6b6b6b" stroke-width="0.6" />
<line x1="435.00" y1="245.79" x2="436.40" y2="245.79" stroke="#6b6b6b" stroke-width="0.6" />
<line x1="435.00" y1="242.18" x2="436.40" y2="242.18" stroke="#6b6b6b" stroke-width="0.6" />
<line x1="435.00" y1="239.38" x2="436.40" y2="239.38" stroke="#6b6b6b" stroke-width="0.6" />
<line x1="435.00" y1="237.10" x2="436.40" y2="237.10" stroke="#6b6b6b" stroke-width="0.6" />
<line x1="435.00" y1="235.17" x2="436.40" y2="235.17" stroke="#6b6b6b" stroke-width="0.6" />
<line x1="435.00" y1="233.50" x2="436.40" y2="233.50" stroke="#6b6b6b" stroke-width="0.6" />
<line x1="435.00" y1="232.02" x2="436.40" y2="232.02" stroke="#6b6b6b" stroke-width="0.6" />
<line x1="435.00" y1="230.70" x2="437.50" y2="230.70" stroke="#6b6b6b" stroke-width="1" />
<line x1="435.00" y1="222.02" x2="436.40" y2="222.02" stroke="#6b6b6b" stroke-width="0.6" />
<line x1="435.00" y1="216.94" x2="436.40" y2="216.94" stroke="#6b6b6b" stroke-width="0.6" />
<line x1="435.00" y1="213.33" x2="436.40" y2="213.33" stroke="#6b6b6b" stroke-width="0.6" />
<line x1="435.00" y1="210.53" x2="436.40" y2="210.53" stroke="#6b6b6b" stroke-width="0.6" />
<line x1="435.00" y1="208.25" x2="436.40" y2="208.25" stroke="#6b6b6b" stroke-width="0.6" />
<line x1="435.00" y1="206.32" x2="436.40" y2="206.32" stroke="#6b6b6b" stroke-width="0.6" />
<line x1="435.00" y1="204.65" x2="436.40" y2="204.65" stroke="#6b6b6b" stroke-width="0.6" />
<line x1="435.00" y1="203.17" x2="436.40" y2="203.17" stroke="#6b6b6b" stroke-width="0.6" />
<line x1="435.00" y1="201.85" x2="437.50" y2="201.85" stroke="#6b6b6b" stroke-width="1" />
<line x1="435.00" y1="193.17" x2="436.40" y2="193.17" stroke="#6b6b6b" stroke-width="0.6" />
<line x1="435.00" y1="188.09" x2="436.40" y2="188.09" stroke="#6b6b6b" stroke-width="0.6" />
<line x1="435.00" y1="184.48" x2="436.40" y2="184.48" stroke="#6b6b6b" stroke-width="0.6" />
<line x1="435.00" y1="181.68" x2="436.40" y2="181.68" stroke="#6b6b6b" stroke-width="0.6" />
<line x1="435.00" y1="179.40" x2="436.40" y2="179.40" stroke="#6b6b6b" stroke-width="0.6" />
<line x1="435.00" y1="177.47" x2="436.40" y2="177.47" stroke="#6b6b6b" stroke-width="0.6" />
<line x1="435.00" y1="175.80" x2="436.40" y2="175.80" stroke="#6b6b6b" stroke-width="0.6" />
<line x1="435.00" y1="174.32" x2="436.40" y2="174.32" stroke="#6b6b6b" stroke-width="0.6" />
<line x1="435.00" y1="173.00" x2="437.50" y2="173.00" stroke="#6b6b6b" stroke-width="1" />
<text x="447.50" y="310.30" font-size="9" text-anchor="middle" fill="#1a1a1a" stroke="#1a1a1a" stroke-width="0.3" >0</text>
<text x="473.42" y="310.30" font-size="9" text-anchor="middle" fill="#1a1a1a" stroke="#1a1a1a" stroke-width="0.3" >200</text>
<text x="499.34" y="310.30" font-size="9" text-anchor="middle" fill="#1a1a1a" stroke="#1a1a1a" stroke-width="0.3" >400</text>
<text x="525.26" y="310.30" font-size="9" text-anchor="middle" fill="#1a1a1a" stroke="#1a1a1a" stroke-width="0.3" >600</text>
<text x="551.18" y="310.30" font-size="9" text-anchor="middle" fill="#1a1a1a" stroke="#1a1a1a" stroke-width="0.3" >800</text>
<text x="577.10" y="310.30" font-size="9" text-anchor="middle" fill="#1a1a1a" stroke="#1a1a1a" stroke-width="0.3" >1 000</text>
<text x="432.20" y="176.30" font-size="9" text-anchor="end" fill="#1a1a1a" stroke="#1a1a1a" stroke-width="0.3" >10<tspan font-size="5.3" dy="-3.4">8</tspan></text>
<text x="432.20" y="205.15" font-size="9" text-anchor="end" fill="#1a1a1a" stroke="#1a1a1a" stroke-width="0.3" >10<tspan font-size="5.3" dy="-3.4">7</tspan></text>
<text x="432.20" y="234.00" font-size="9" text-anchor="end" fill="#1a1a1a" stroke="#1a1a1a" stroke-width="0.3" >10<tspan font-size="5.3" dy="-3.4">6</tspan></text>
<text x="432.20" y="262.85" font-size="9" text-anchor="end" fill="#1a1a1a" stroke="#1a1a1a" stroke-width="0.3" >10<tspan font-size="5.3" dy="-3.4">5</tspan></text>
<text x="432.20" y="291.70" font-size="9" text-anchor="end" fill="#1a1a1a" stroke="#1a1a1a" stroke-width="0.3" >10<tspan font-size="5.3" dy="-3.4">4</tspan></text>
<text x="0" y="0" font-size="8.8" text-anchor="middle" fill="#1a1a1a" stroke="#1a1a1a" stroke-width="0.3" transform="translate(411.80,238.00) rotate(-90)">Resistance/Ω</text>
<text x="510.00" y="320.60" font-size="8.8" text-anchor="middle" fill="#1a1a1a" stroke="#1a1a1a" stroke-width="0.3" >Cycles</text>
<polygon points="494.8,193.5 492.4,202 497.2,202" fill="#111"/>
<line x1="494.90" y1="204.60" x2="494.90" y2="278.50" stroke="#808080" stroke-width="1.1" stroke-dasharray="9.7,5.3"/>
<text x="499.00" y="237.90" font-size="8.8" text-anchor="start" fill="#1a1a1a" stroke="#1a1a1a" stroke-width="0.3" >&gt;10<tspan font-size="5.8" dy="-3">3</tspan></text>
<circle cx="528.8" cy="238.6" r="2.65" fill="url(#gg)"/>
<text x="532.80" y="241.80" font-size="8.8" text-anchor="start" fill="#1a1a1a" stroke="#1a1a1a" stroke-width="0.3" >OFF-state</text>
<circle cx="528.8" cy="249.4" r="2.65" fill="url(#gr)"/>
<text x="532.80" y="252.60" font-size="8.8" text-anchor="start" fill="#1a1a1a" stroke="#1a1a1a" stroke-width="0.3" >ON-state</text>
</svg></body></html>
